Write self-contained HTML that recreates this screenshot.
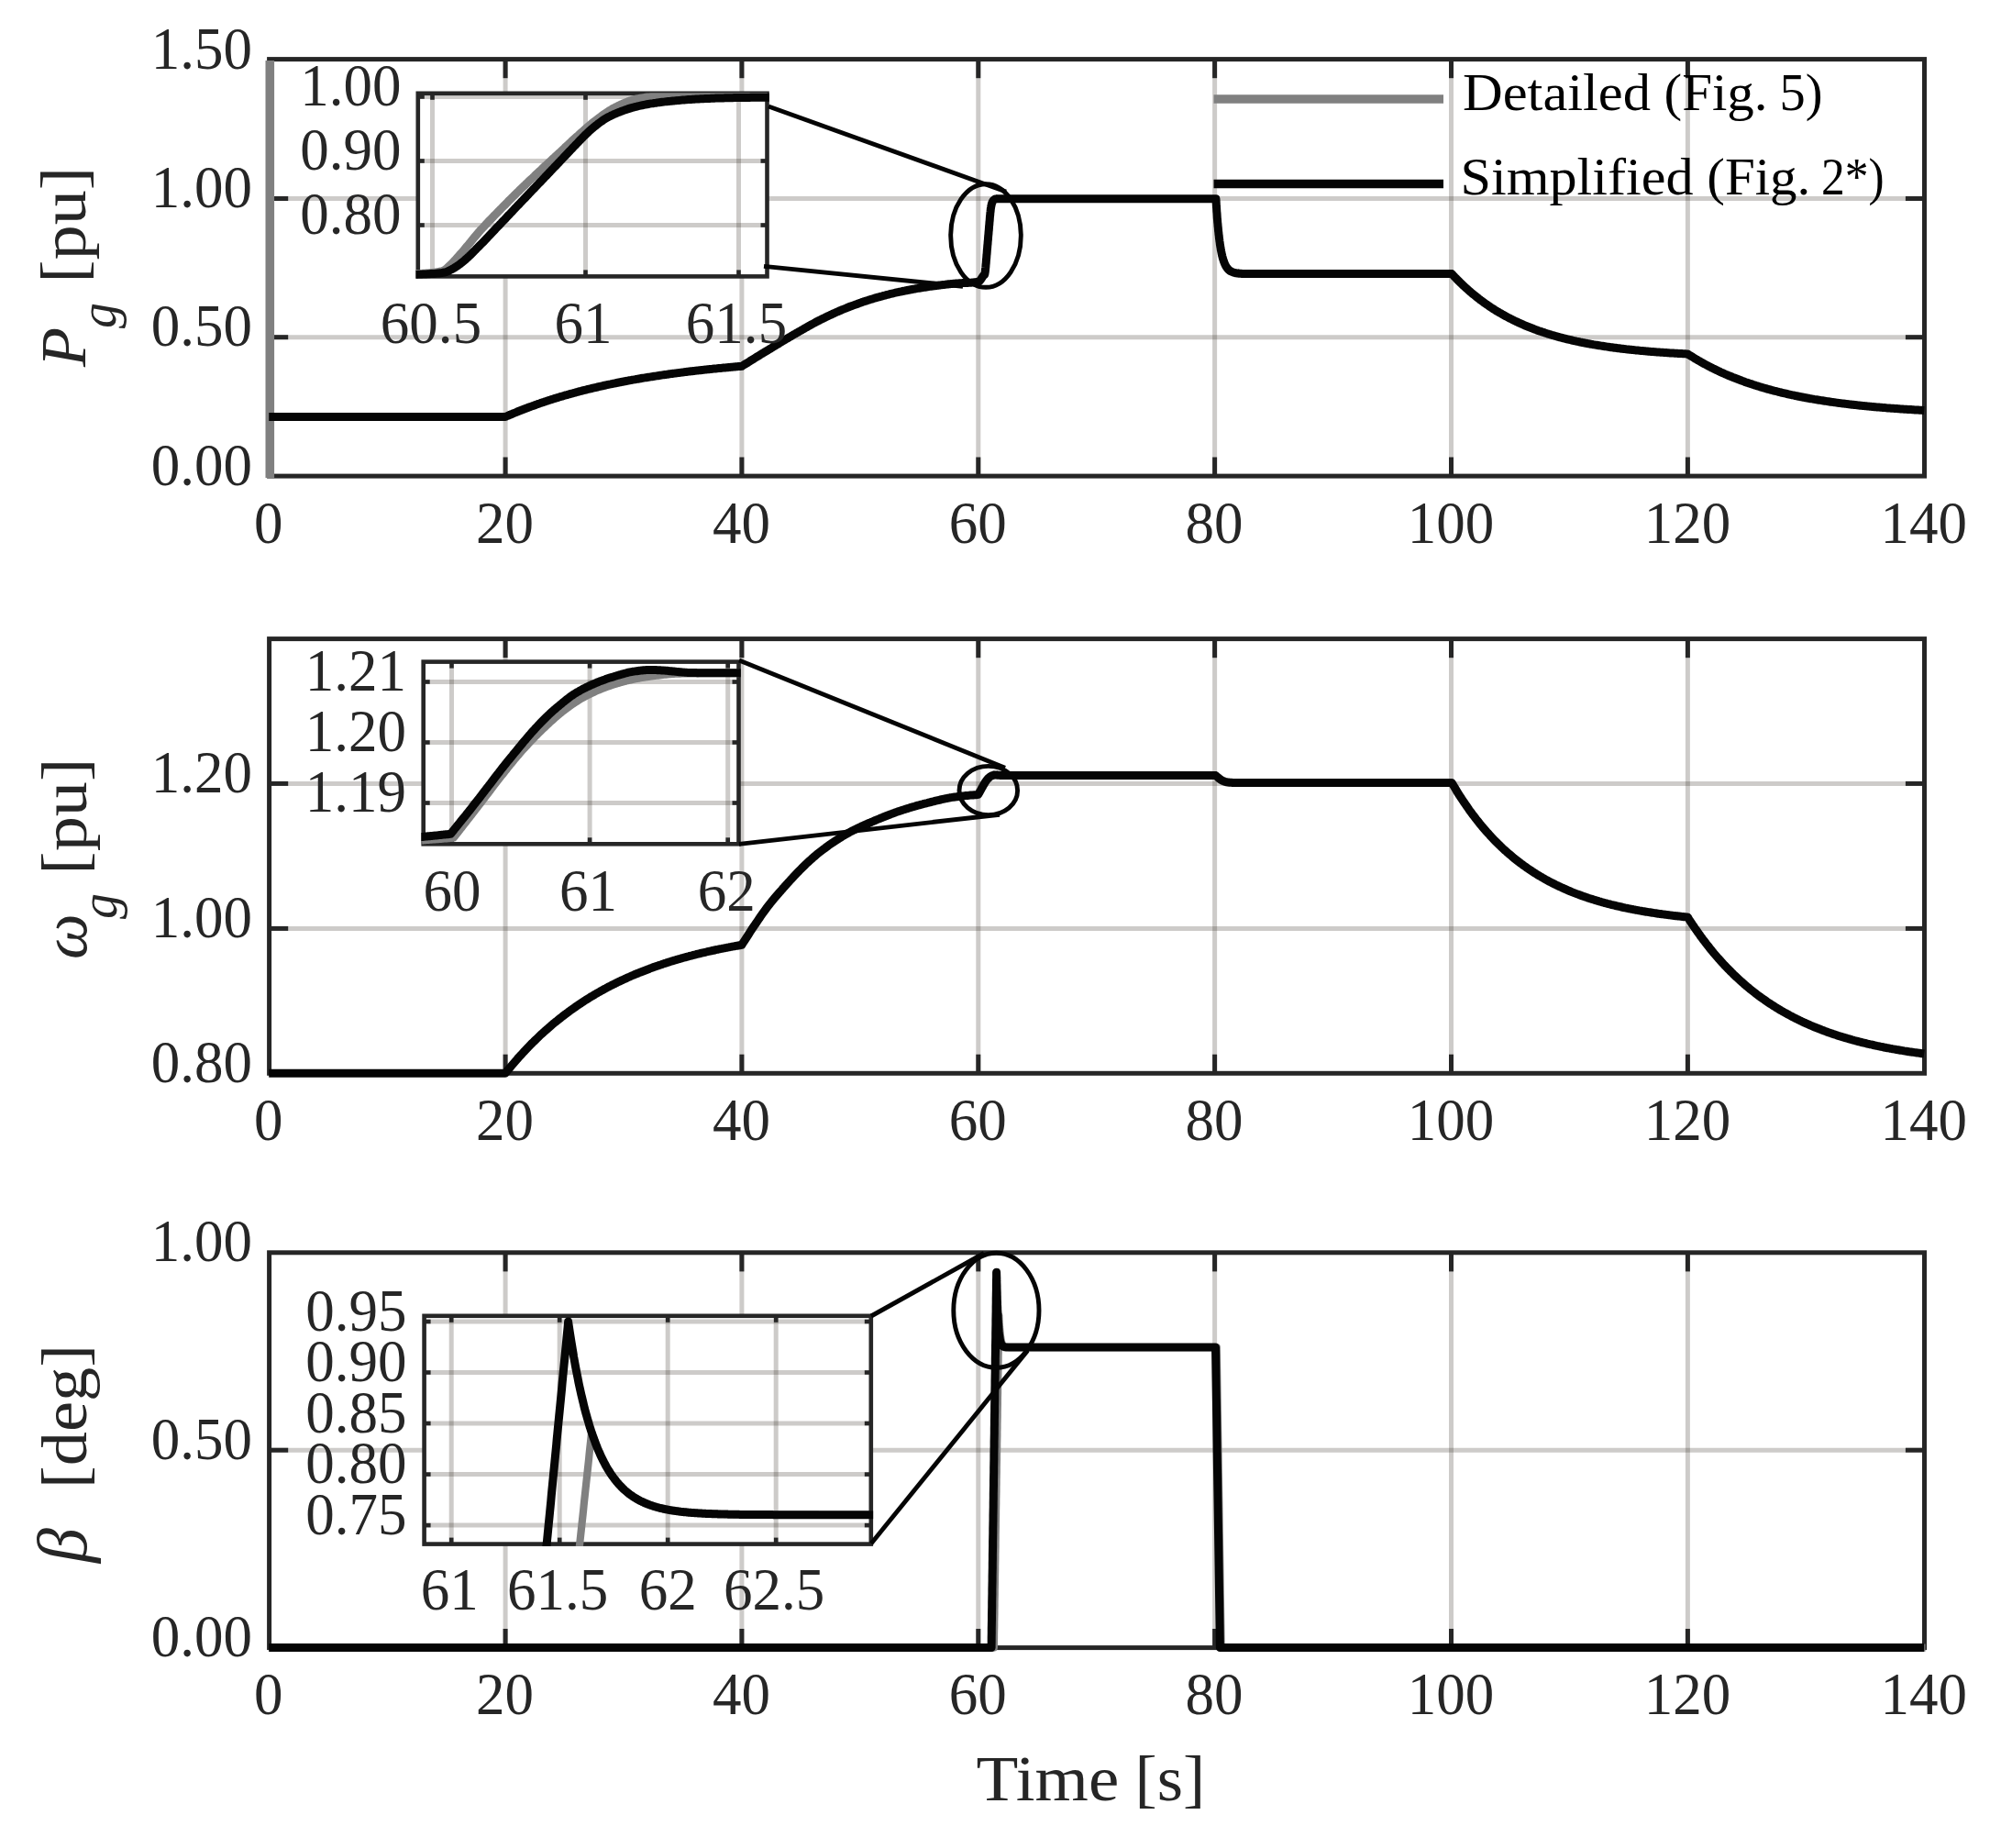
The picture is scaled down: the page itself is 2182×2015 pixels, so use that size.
<!DOCTYPE html>
<html lang="en"><head><meta charset="utf-8"><title>Detailed vs simplified model</title>
<style>html,body{margin:0;padding:0;background:#fff}svg{display:block}text{font-family:"Liberation Serif","DejaVu Serif",serif}</style></head><body>
<svg width="2182" height="2015" viewBox="0 0 2182 2015">
<rect width="2182" height="2015" fill="#fff"/>
<g stroke="#2a221a" stroke-opacity="0.235" stroke-width="5.0">
<line x1="551.1" y1="64.6" x2="551.1" y2="519.1"/>
<line x1="808.9" y1="64.6" x2="808.9" y2="519.1"/>
<line x1="1066.8" y1="64.6" x2="1066.8" y2="519.1"/>
<line x1="1324.6" y1="64.6" x2="1324.6" y2="519.1"/>
<line x1="1582.5" y1="64.6" x2="1582.5" y2="519.1"/>
<line x1="1840.4" y1="64.6" x2="1840.4" y2="519.1"/>
<line x1="293.6" y1="367.7" x2="2098.5" y2="367.7"/>
<line x1="293.6" y1="216.5" x2="2098.5" y2="216.5"/>
</g>
<g stroke="#262626" stroke-width="5.0" fill="none">
<rect x="293.6" y="64.6" width="1804.9" height="454.5"/>
<line x1="551.1" y1="64.6" x2="551.1" y2="85.2"/>
<line x1="551.1" y1="519.1" x2="551.1" y2="498.5"/>
<line x1="808.9" y1="64.6" x2="808.9" y2="85.2"/>
<line x1="808.9" y1="519.1" x2="808.9" y2="498.5"/>
<line x1="1066.8" y1="64.6" x2="1066.8" y2="85.2"/>
<line x1="1066.8" y1="519.1" x2="1066.8" y2="498.5"/>
<line x1="1324.6" y1="64.6" x2="1324.6" y2="85.2"/>
<line x1="1324.6" y1="519.1" x2="1324.6" y2="498.5"/>
<line x1="1582.5" y1="64.6" x2="1582.5" y2="85.2"/>
<line x1="1582.5" y1="519.1" x2="1582.5" y2="498.5"/>
<line x1="1840.4" y1="64.6" x2="1840.4" y2="85.2"/>
<line x1="1840.4" y1="519.1" x2="1840.4" y2="498.5"/>
<line x1="293.6" y1="367.7" x2="314.2" y2="367.7"/>
<line x1="2098.5" y1="367.7" x2="2077.9" y2="367.7"/>
<line x1="293.6" y1="216.5" x2="314.2" y2="216.5"/>
<line x1="2098.5" y1="216.5" x2="2077.9" y2="216.5"/>
</g>
<clipPath id="c1"><rect x="288.6" y="66.1" width="1812.4" height="455.0"/></clipPath>
<g clip-path="url(#c1)">
<line x1="294.3" y1="64.6" x2="294.3" y2="521.1" stroke="#808080" stroke-width="9.60" />
<path d="M293.2 454.5 L294.5 454.5 L295.8 454.5 L297.1 454.5 L298.4 454.5 L299.6 454.5 L300.9 454.5 L302.2 454.5 L303.5 454.5 L304.8 454.5 L306.1 454.5 L307.4 454.5 L308.7 454.5 L310.0 454.5 L311.3 454.5 L312.5 454.5 L313.8 454.5 L315.1 454.5 L316.4 454.5 L317.7 454.5 L319.0 454.5 L320.3 454.5 L321.6 454.5 L322.9 454.5 L324.1 454.5 L325.4 454.5 L326.7 454.5 L328.0 454.5 L329.3 454.5 L330.6 454.5 L331.9 454.5 L333.2 454.5 L334.5 454.5 L335.7 454.5 L337.0 454.5 L338.3 454.5 L339.6 454.5 L340.9 454.5 L342.2 454.5 L343.5 454.5 L344.8 454.5 L346.1 454.5 L347.4 454.5 L348.6 454.5 L349.9 454.5 L351.2 454.5 L352.5 454.5 L353.8 454.5 L355.1 454.5 L356.4 454.5 L357.7 454.5 L359.0 454.5 L360.2 454.5 L361.5 454.5 L362.8 454.5 L364.1 454.5 L365.4 454.5 L366.7 454.5 L368.0 454.5 L369.3 454.5 L370.6 454.5 L371.8 454.5 L373.1 454.5 L374.4 454.5 L375.7 454.5 L377.0 454.5 L378.3 454.5 L379.6 454.5 L380.9 454.5 L382.2 454.5 L383.5 454.5 L384.7 454.5 L386.0 454.5 L387.3 454.5 L388.6 454.5 L389.9 454.5 L391.2 454.5 L392.5 454.5 L393.8 454.5 L395.1 454.5 L396.3 454.5 L397.6 454.5 L398.9 454.5 L400.2 454.5 L401.5 454.5 L402.8 454.5 L404.1 454.5 L405.4 454.5 L406.7 454.5 L407.9 454.5 L409.2 454.5 L410.5 454.5 L411.8 454.5 L413.1 454.5 L414.4 454.5 L415.7 454.5 L417.0 454.5 L418.3 454.5 L419.6 454.5 L420.8 454.5 L422.1 454.5 L423.4 454.5 L424.7 454.5 L426.0 454.5 L427.3 454.5 L428.6 454.5 L429.9 454.5 L431.2 454.5 L432.4 454.5 L433.7 454.5 L435.0 454.5 L436.3 454.5 L437.6 454.5 L438.9 454.5 L440.2 454.5 L441.5 454.5 L442.8 454.5 L444.0 454.5 L445.3 454.5 L446.6 454.5 L447.9 454.5 L449.2 454.5 L450.5 454.5 L451.8 454.5 L453.1 454.5 L454.4 454.5 L455.7 454.5 L456.9 454.5 L458.2 454.5 L459.5 454.5 L460.8 454.5 L462.1 454.5 L463.4 454.5 L464.7 454.5 L466.0 454.5 L467.3 454.5 L468.5 454.5 L469.8 454.5 L471.1 454.5 L472.4 454.5 L473.7 454.5 L475.0 454.5 L476.3 454.5 L477.6 454.5 L478.9 454.5 L480.1 454.5 L481.4 454.5 L482.7 454.5 L484.0 454.5 L485.3 454.5 L486.6 454.5 L487.9 454.5 L489.2 454.5 L490.5 454.5 L491.8 454.5 L493.0 454.5 L494.3 454.5 L495.6 454.5 L496.9 454.5 L498.2 454.5 L499.5 454.5 L500.8 454.5 L502.1 454.5 L503.4 454.5 L504.6 454.5 L505.9 454.5 L507.2 454.5 L508.5 454.5 L509.8 454.5 L511.1 454.5 L512.4 454.5 L513.7 454.5 L515.0 454.5 L516.2 454.5 L517.5 454.5 L518.8 454.5 L520.1 454.5 L521.4 454.5 L522.7 454.5 L524.0 454.5 L525.3 454.5 L526.6 454.5 L527.9 454.5 L529.1 454.5 L530.4 454.5 L531.7 454.5 L533.0 454.5 L534.3 454.5 L535.6 454.5 L536.9 454.5 L538.2 454.5 L539.5 454.5 L540.7 454.5 L542.0 454.5 L543.3 454.5 L544.6 454.5 L545.9 454.5 L547.2 454.5 L548.5 454.5 L549.8 454.5 L551.1 454.5 L552.3 453.9 L553.6 453.4 L554.9 452.8 L556.2 452.3 L557.5 451.7 L558.8 451.2 L560.1 450.6 L561.4 450.1 L562.7 449.6 L564.0 449.0 L565.2 448.5 L566.5 448.0 L567.8 447.5 L569.1 447.0 L570.4 446.5 L571.7 446.0 L573.0 445.5 L574.3 445.0 L575.6 444.5 L576.8 444.0 L578.1 443.6 L579.4 443.1 L580.7 442.6 L582.0 442.2 L583.3 441.7 L584.6 441.2 L585.9 440.8 L587.2 440.3 L588.4 439.9 L589.7 439.4 L591.0 439.0 L592.3 438.6 L593.6 438.1 L594.9 437.7 L596.2 437.3 L597.5 436.9 L598.8 436.4 L600.1 436.0 L601.3 435.6 L602.6 435.2 L603.9 434.8 L605.2 434.4 L606.5 434.0 L607.8 433.6 L609.1 433.2 L610.4 432.8 L611.7 432.4 L612.9 432.1 L614.2 431.7 L615.5 431.3 L616.8 430.9 L618.1 430.6 L619.4 430.2 L620.7 429.8 L622.0 429.5 L623.3 429.1 L624.6 428.8 L625.8 428.4 L627.1 428.1 L628.4 427.7 L629.7 427.4 L631.0 427.0 L632.3 426.7 L633.6 426.4 L634.9 426.0 L636.2 425.7 L637.4 425.4 L638.7 425.1 L640.0 424.7 L641.3 424.4 L642.6 424.1 L643.9 423.8 L645.2 423.5 L646.5 423.2 L647.8 422.9 L649.0 422.6 L650.3 422.3 L651.6 422.0 L652.9 421.7 L654.2 421.4 L655.5 421.1 L656.8 420.8 L658.1 420.5 L659.4 420.2 L660.7 420.0 L661.9 419.7 L663.2 419.4 L664.5 419.1 L665.8 418.9 L667.1 418.6 L668.4 418.3 L669.7 418.1 L671.0 417.8 L672.3 417.5 L673.5 417.3 L674.8 417.0 L676.1 416.8 L677.4 416.5 L678.7 416.3 L680.0 416.0 L681.3 415.8 L682.6 415.5 L683.9 415.3 L685.1 415.0 L686.4 414.8 L687.7 414.6 L689.0 414.3 L690.3 414.1 L691.6 413.9 L692.9 413.7 L694.2 413.4 L695.5 413.2 L696.8 413.0 L698.0 412.8 L699.3 412.5 L700.6 412.3 L701.9 412.1 L703.2 411.9 L704.5 411.7 L705.8 411.5 L707.1 411.3 L708.4 411.1 L709.6 410.9 L710.9 410.7 L712.2 410.5 L713.5 410.3 L714.8 410.1 L716.1 409.9 L717.4 409.7 L718.7 409.5 L720.0 409.3 L721.2 409.1 L722.5 408.9 L723.8 408.7 L725.1 408.5 L726.4 408.4 L727.7 408.2 L729.0 408.0 L730.3 407.8 L731.6 407.6 L732.9 407.5 L734.1 407.3 L735.4 407.1 L736.7 406.9 L738.0 406.8 L739.3 406.6 L740.6 406.4 L741.9 406.3 L743.2 406.1 L744.5 405.9 L745.7 405.8 L747.0 405.6 L748.3 405.5 L749.6 405.3 L750.9 405.1 L752.2 405.0 L753.5 404.8 L754.8 404.7 L756.1 404.5 L757.3 404.4 L758.6 404.2 L759.9 404.1 L761.2 403.9 L762.5 403.8 L763.8 403.7 L765.1 403.5 L766.4 403.4 L767.7 403.2 L769.0 403.1 L770.2 402.9 L771.5 402.8 L772.8 402.7 L774.1 402.5 L775.4 402.4 L776.7 402.3 L778.0 402.1 L779.3 402.0 L780.6 401.9 L781.8 401.8 L783.1 401.6 L784.4 401.5 L785.7 401.4 L787.0 401.3 L788.3 401.1 L789.6 401.0 L790.9 400.9 L792.2 400.8 L793.4 400.7 L794.7 400.5 L796.0 400.4 L797.3 400.3 L798.6 400.2 L799.9 400.1 L801.2 400.0 L802.5 399.8 L803.8 399.7 L805.1 399.6 L806.3 399.5 L807.6 399.4 L808.9 399.3 L810.2 398.5 L811.5 397.7 L812.8 396.9 L814.1 396.1 L815.4 395.3 L816.7 394.5 L817.9 393.7 L819.2 392.9 L820.5 392.1 L821.8 391.3 L823.1 390.5 L824.4 389.7 L825.7 388.9 L827.0 388.1 L828.3 387.3 L829.5 386.5 L830.8 385.7 L832.1 385.0 L833.4 384.2 L834.7 383.4 L836.0 382.6 L837.3 381.8 L838.6 381.0 L839.9 380.3 L841.2 379.5 L842.4 378.7 L843.7 377.9 L845.0 377.1 L846.3 376.3 L847.6 375.6 L848.9 374.8 L850.2 374.0 L851.5 373.2 L852.8 372.4 L854.0 371.7 L855.3 370.9 L856.6 370.1 L857.9 369.4 L859.2 368.6 L860.5 367.8 L861.8 367.1 L863.1 366.3 L864.4 365.6 L865.6 364.8 L866.9 364.1 L868.2 363.3 L869.5 362.6 L870.8 361.8 L872.1 361.1 L873.4 360.4 L874.7 359.6 L876.0 358.9 L877.3 358.1 L878.5 357.4 L879.8 356.7 L881.1 356.0 L882.4 355.2 L883.7 354.5 L885.0 353.8 L886.3 353.1 L887.6 352.4 L888.9 351.7 L890.1 351.0 L891.4 350.3 L892.7 349.7 L894.0 349.0 L895.3 348.4 L896.6 347.7 L897.9 347.1 L899.2 346.5 L900.5 345.8 L901.7 345.2 L903.0 344.6 L904.3 344.0 L905.6 343.4 L906.9 342.8 L908.2 342.2 L909.5 341.6 L910.8 341.0 L912.1 340.4 L913.4 339.9 L914.6 339.3 L915.9 338.7 L917.2 338.2 L918.5 337.6 L919.8 337.1 L921.1 336.6 L922.4 336.1 L923.7 335.5 L925.0 335.0 L926.2 334.5 L927.5 334.0 L928.8 333.6 L930.1 333.1 L931.4 332.6 L932.7 332.1 L934.0 331.7 L935.3 331.2 L936.6 330.7 L937.9 330.3 L939.1 329.8 L940.4 329.4 L941.7 328.9 L943.0 328.5 L944.3 328.1 L945.6 327.7 L946.9 327.3 L948.2 326.9 L949.5 326.4 L950.7 326.1 L952.0 325.7 L953.3 325.3 L954.6 324.9 L955.9 324.5 L957.2 324.2 L958.5 323.8 L959.8 323.5 L961.1 323.1 L962.3 322.8 L963.6 322.4 L964.9 322.1 L966.2 321.7 L967.5 321.4 L968.8 321.1 L970.1 320.7 L971.4 320.4 L972.7 320.1 L974.0 319.8 L975.2 319.5 L976.5 319.2 L977.8 318.9 L979.1 318.6 L980.4 318.3 L981.7 318.1 L983.0 317.8 L984.3 317.5 L985.6 317.3 L986.8 317.0 L988.1 316.8 L989.4 316.5 L990.7 316.3 L992.0 316.0 L993.3 315.8 L994.6 315.5 L995.9 315.3 L997.2 315.1 L998.4 314.8 L999.7 314.6 L1001.0 314.4 L1002.3 314.2 L1003.6 314.0 L1004.9 313.8 L1006.2 313.6 L1007.5 313.4 L1008.8 313.2 L1010.1 313.0 L1011.3 312.8 L1012.6 312.6 L1013.9 312.4 L1015.2 312.2 L1016.5 312.0 L1017.8 311.9 L1019.1 311.7 L1020.4 311.5 L1021.7 311.4 L1022.9 311.2 L1024.2 311.0 L1025.5 310.9 L1026.8 310.7 L1028.1 310.6 L1029.4 310.4 L1030.7 310.3 L1032.0 310.1 L1033.3 310.0 L1034.5 309.8 L1035.8 309.7 L1037.1 309.6 L1038.4 309.4 L1039.7 309.3 L1041.0 309.2 L1042.3 309.1 L1043.6 309.0 L1044.9 308.9 L1046.2 308.8 L1047.4 308.8 L1048.7 308.7 L1050.0 308.6 L1051.3 308.6 L1052.6 308.5 L1053.9 308.5 L1055.2 308.4 L1056.5 308.3 L1057.8 308.3 L1059.0 308.2 L1060.3 308.1 L1060.5 308.0 L1060.6 308.0 L1060.7 308.0 L1060.8 308.0 L1061.0 308.0 L1061.1 308.0 L1061.2 308.0 L1061.4 308.0 L1061.5 307.9 L1061.6 307.9 L1061.8 307.9 L1061.9 307.9 L1062.0 307.9 L1062.1 307.9 L1062.3 307.9 L1062.4 307.8 L1062.5 307.8 L1062.7 307.8 L1062.8 307.8 L1062.9 307.8 L1063.0 307.8 L1063.2 307.8 L1063.3 307.7 L1063.4 307.7 L1063.6 307.7 L1063.7 307.7 L1063.8 307.7 L1063.9 307.7 L1064.1 307.6 L1064.2 307.6 L1064.2 307.6 L1064.3 307.6 L1064.5 307.6 L1064.6 307.6 L1064.7 307.5 L1064.8 307.5 L1065.0 307.5 L1065.1 307.5 L1065.2 307.5 L1065.4 307.5 L1065.5 307.4 L1065.5 307.4 L1065.6 307.4 L1065.7 307.4 L1065.9 307.4 L1066.0 307.4 L1066.1 307.3 L1066.3 307.3 L1066.4 307.3 L1066.5 307.3 L1066.7 307.2 L1066.8 307.2 L1066.9 307.2 L1067.0 307.2 L1067.2 307.1 L1067.3 307.0 L1067.4 307.0 L1067.6 306.9 L1067.7 306.8 L1067.8 306.7 L1067.9 306.6 L1068.1 306.5 L1068.2 306.4 L1068.3 306.3 L1068.5 306.1 L1068.6 306.0 L1068.7 305.9 L1068.8 305.7 L1069.0 305.5 L1069.1 305.4 L1069.2 305.2 L1069.4 305.0 L1069.5 304.9 L1069.6 304.7 L1069.7 304.5 L1069.9 304.3 L1070.0 304.1 L1070.1 303.9 L1070.3 303.7 L1070.4 303.5 L1070.5 303.3 L1070.6 303.1 L1070.6 303.1 L1070.8 302.9 L1070.9 302.7 L1071.0 302.5 L1071.2 302.3 L1071.3 302.1 L1071.4 301.9 L1071.6 301.7 L1071.7 301.5 L1071.8 301.3 L1071.9 301.1 L1071.9 301.1 L1072.1 300.9 L1072.2 300.8 L1072.3 300.6 L1072.5 300.4 L1072.6 300.3 L1072.7 300.2 L1072.8 300.1 L1073.0 300.1 L1073.1 300.0 L1073.2 299.9 L1073.4 299.8 L1073.5 299.6 L1073.6 299.5 L1073.7 299.2 L1073.9 298.8 L1074.0 298.0 L1074.1 297.2 L1074.3 296.3 L1074.4 295.3 L1074.5 294.2 L1074.6 292.9 L1074.8 291.6 L1074.9 290.2 L1075.0 288.7 L1075.2 287.2 L1075.3 285.8 L1075.4 284.3 L1075.5 282.8 L1075.7 281.3 L1075.8 279.7 L1075.9 278.2 L1076.1 276.7 L1076.2 275.2 L1076.3 273.7 L1076.4 272.1 L1076.6 270.6 L1076.7 269.1 L1076.8 267.6 L1077.0 266.1 L1077.1 264.5 L1077.1 264.5 L1077.2 263.0 L1077.4 261.5 L1077.5 260.0 L1077.6 258.5 L1077.7 257.0 L1077.9 255.5 L1078.0 254.0 L1078.1 252.5 L1078.3 250.9 L1078.4 249.4 L1078.4 249.4 L1078.5 247.9 L1078.6 246.4 L1078.8 244.9 L1078.9 243.3 L1079.0 241.8 L1079.2 240.3 L1079.3 238.8 L1079.4 237.3 L1079.5 235.8 L1079.7 234.4 L1079.8 233.0 L1079.9 231.7 L1080.1 230.5 L1080.2 229.4 L1080.3 228.3 L1080.4 227.3 L1080.6 226.4 L1080.7 225.6 L1080.8 225.0 L1081.0 224.3 L1081.1 223.7 L1081.2 223.2 L1081.3 222.7 L1081.5 222.2 L1081.6 221.7 L1081.7 221.3 L1081.9 221.0 L1082.0 220.7 L1082.1 220.4 L1082.3 220.1 L1082.4 219.8 L1082.5 219.6 L1082.6 219.4 L1082.8 219.2 L1082.9 219.0 L1083.0 218.8 L1083.2 218.7 L1083.3 218.5 L1083.4 218.4 L1083.5 218.3 L1083.5 218.3 L1083.7 218.1 L1083.8 218.0 L1083.9 217.9 L1084.1 217.8 L1084.2 217.7 L1084.3 217.6 L1084.4 217.5 L1084.6 217.5 L1084.7 217.4 L1084.8 217.3 L1084.8 217.3 L1085.0 217.3 L1085.1 217.2 L1085.2 217.2 L1085.3 217.1 L1085.5 217.1 L1085.6 217.1 L1085.7 217.0 L1085.9 217.0 L1086.0 217.0 L1086.1 217.0 L1086.2 216.9 L1086.4 216.9 L1086.5 216.9 L1086.6 216.9 L1086.8 216.8 L1086.9 216.8 L1087.0 216.8 L1087.2 216.8 L1087.3 216.7 L1087.4 216.7 L1087.5 216.7 L1087.7 216.7 L1087.8 216.7 L1087.9 216.7 L1088.1 216.7 L1088.2 216.7 L1088.3 216.7 L1088.4 216.7 L1088.6 216.7 L1088.7 216.7 L1088.8 216.7 L1089.0 216.7 L1089.1 216.7 L1089.2 216.7 L1089.3 216.7 L1089.5 216.7 L1089.6 216.7 L1089.7 216.7 L1089.9 216.7 L1090.0 216.7 L1090.0 216.7 L1090.1 216.7 L1090.2 216.7 L1090.4 216.7 L1090.5 216.7 L1090.6 216.7 L1090.8 216.7 L1090.9 216.7 L1091.0 216.7 L1091.1 216.7 L1091.3 216.7 L1091.3 216.7 L1091.4 216.7 L1091.5 216.7 L1091.7 216.7 L1091.8 216.7 L1091.9 216.7 L1092.1 216.7 L1092.2 216.7 L1092.3 216.7 L1092.4 216.7 L1092.6 216.7 L1092.7 216.7 L1092.8 216.7 L1093.0 216.7 L1093.1 216.7 L1093.2 216.7 L1093.3 216.7 L1093.5 216.7 L1093.6 216.7 L1093.7 216.7 L1093.9 216.7 L1094.0 216.7 L1094.1 216.7 L1094.2 216.7 L1094.4 216.7 L1094.5 216.7 L1094.6 216.7 L1094.8 216.7 L1094.9 216.7 L1095.0 216.7 L1095.1 216.7 L1095.3 216.7 L1095.4 216.7 L1095.5 216.7 L1095.7 216.7 L1095.8 216.7 L1095.9 216.7 L1096.0 216.7 L1096.2 216.7 L1096.3 216.7 L1096.4 216.7 L1096.4 216.7 L1096.6 216.7 L1096.7 216.7 L1096.8 216.7 L1096.9 216.7 L1097.1 216.7 L1097.2 216.7 L1097.3 216.7 L1097.5 216.7 L1097.6 216.7 L1097.7 216.7 L1097.7 216.7 L1097.9 216.7 L1098.0 216.7 L1098.1 216.7 L1098.2 216.7 L1098.4 216.7 L1098.5 216.7 L1098.6 216.7 L1098.8 216.7 L1098.9 216.7 L1099.0 216.7 L1100.3 216.7 L1101.6 216.7 L1102.9 216.7 L1104.2 216.7 L1105.5 216.7 L1106.7 216.7 L1108.0 216.7 L1109.3 216.7 L1110.6 216.7 L1111.9 216.7 L1113.2 216.7 L1114.5 216.7 L1115.8 216.7 L1117.1 216.7 L1118.4 216.7 L1119.6 216.7 L1120.9 216.7 L1122.2 216.7 L1123.5 216.7 L1124.8 216.7 L1126.1 216.7 L1127.4 216.7 L1128.7 216.7 L1130.0 216.7 L1131.2 216.7 L1132.5 216.7 L1133.8 216.7 L1135.1 216.7 L1136.4 216.7 L1137.7 216.7 L1139.0 216.7 L1140.3 216.7 L1141.6 216.7 L1142.8 216.7 L1144.1 216.7 L1145.4 216.7 L1146.7 216.7 L1148.0 216.7 L1149.3 216.7 L1150.6 216.7 L1151.9 216.7 L1153.2 216.7 L1154.5 216.7 L1155.7 216.7 L1157.0 216.7 L1158.3 216.7 L1159.6 216.7 L1160.9 216.7 L1162.2 216.7 L1163.5 216.7 L1164.8 216.7 L1166.1 216.7 L1167.3 216.7 L1168.6 216.7 L1169.9 216.7 L1171.2 216.7 L1172.5 216.7 L1173.8 216.7 L1175.1 216.7 L1176.4 216.7 L1177.7 216.7 L1178.9 216.7 L1180.2 216.7 L1181.5 216.7 L1182.8 216.7 L1184.1 216.7 L1185.4 216.7 L1186.7 216.7 L1188.0 216.7 L1189.3 216.7 L1190.6 216.7 L1191.8 216.7 L1193.1 216.7 L1194.4 216.7 L1195.7 216.7 L1197.0 216.7 L1198.3 216.7 L1199.6 216.7 L1200.9 216.7 L1202.2 216.7 L1203.4 216.7 L1204.7 216.7 L1206.0 216.7 L1207.3 216.7 L1208.6 216.7 L1209.9 216.7 L1211.2 216.7 L1212.5 216.7 L1213.8 216.7 L1215.0 216.7 L1216.3 216.7 L1217.6 216.7 L1218.9 216.7 L1220.2 216.7 L1221.5 216.7 L1222.8 216.7 L1224.1 216.7 L1225.4 216.7 L1226.7 216.7 L1227.9 216.7 L1229.2 216.7 L1230.5 216.7 L1231.8 216.7 L1233.1 216.7 L1234.4 216.7 L1235.7 216.7 L1237.0 216.7 L1238.3 216.7 L1239.5 216.7 L1240.8 216.7 L1242.1 216.7 L1243.4 216.7 L1244.7 216.7 L1246.0 216.7 L1247.3 216.7 L1248.6 216.7 L1249.9 216.7 L1251.1 216.7 L1252.4 216.7 L1253.7 216.7 L1255.0 216.7 L1256.3 216.7 L1257.6 216.7 L1258.9 216.7 L1260.2 216.7 L1261.5 216.7 L1262.8 216.7 L1264.0 216.7 L1265.3 216.7 L1266.6 216.7 L1267.9 216.7 L1269.2 216.7 L1270.5 216.7 L1271.8 216.7 L1273.1 216.7 L1274.4 216.7 L1275.6 216.7 L1276.9 216.7 L1278.2 216.7 L1279.5 216.7 L1280.8 216.7 L1282.1 216.7 L1283.4 216.7 L1284.7 216.7 L1286.0 216.7 L1287.3 216.7 L1288.5 216.7 L1289.8 216.7 L1291.1 216.7 L1292.4 216.7 L1293.7 216.7 L1295.0 216.7 L1296.3 216.7 L1297.6 216.7 L1298.9 216.7 L1300.1 216.7 L1301.4 216.7 L1302.7 216.7 L1304.0 216.7 L1305.3 216.7 L1306.6 216.7 L1307.9 216.7 L1309.2 216.7 L1310.5 216.7 L1311.7 216.7 L1313.0 216.7 L1314.3 216.7 L1315.6 216.7 L1316.9 216.7 L1318.2 216.7 L1318.3 216.7 L1318.5 216.7 L1318.6 216.7 L1318.7 216.7 L1318.8 216.7 L1319.0 216.7 L1319.1 216.7 L1319.2 216.7 L1319.4 216.7 L1319.5 216.7 L1319.5 216.7 L1319.6 216.7 L1319.7 216.7 L1319.9 216.7 L1320.0 216.7 L1320.1 216.7 L1320.3 216.7 L1320.4 216.7 L1320.5 216.7 L1320.6 216.7 L1320.8 216.7 L1320.9 216.7 L1321.0 216.7 L1321.2 216.7 L1321.3 216.7 L1321.4 216.7 L1321.5 216.7 L1321.7 216.7 L1321.8 216.7 L1321.9 216.7 L1322.1 216.7 L1322.1 216.7 L1322.2 216.7 L1322.3 216.7 L1322.4 216.7 L1322.6 216.7 L1322.7 216.7 L1322.8 216.7 L1323.0 216.7 L1323.1 216.7 L1323.2 216.7 L1323.4 216.7 L1323.5 216.7 L1323.6 216.7 L1323.7 216.7 L1323.9 216.7 L1324.0 216.7 L1324.1 216.7 L1324.3 216.7 L1324.4 216.7 L1324.5 216.7 L1324.6 216.7 L1324.8 216.7 L1324.9 216.7 L1325.0 216.7 L1325.2 216.7 L1325.3 216.7 L1325.4 216.7 L1325.5 216.7 L1325.7 216.7 L1325.8 216.7 L1325.9 216.7 L1325.9 216.7 L1326.1 218.8 L1326.2 221.0 L1326.3 223.0 L1326.4 225.0 L1326.6 227.0 L1326.7 228.9 L1326.8 230.8 L1327.0 232.6 L1327.1 234.3 L1327.2 236.1 L1327.3 237.7 L1327.5 239.4 L1327.6 240.9 L1327.7 242.5 L1327.9 244.0 L1328.0 245.4 L1328.1 246.8 L1328.3 248.2 L1328.4 249.6 L1328.5 250.9 L1328.5 250.9 L1328.6 252.1 L1328.8 253.4 L1328.9 254.6 L1329.0 255.8 L1329.2 256.9 L1329.3 258.0 L1329.4 259.1 L1329.5 260.2 L1329.7 261.2 L1329.8 262.2 L1329.9 263.1 L1330.1 264.1 L1330.2 265.0 L1330.3 265.9 L1330.4 266.8 L1330.6 267.6 L1330.7 268.5 L1330.8 269.3 L1331.0 270.0 L1331.1 270.8 L1331.2 271.5 L1331.3 272.3 L1331.5 273.0 L1331.6 273.7 L1331.7 274.3 L1331.9 275.0 L1332.0 275.6 L1332.1 276.2 L1332.2 276.8 L1332.4 277.4 L1332.4 277.4 L1332.5 278.0 L1332.6 278.5 L1332.8 279.0 L1332.9 279.6 L1333.0 280.1 L1333.1 280.6 L1333.3 281.0 L1333.4 281.5 L1333.5 282.0 L1333.7 282.4 L1333.8 282.8 L1333.9 283.3 L1334.1 283.7 L1334.2 284.1 L1334.3 284.5 L1334.4 284.8 L1334.6 285.2 L1334.7 285.6 L1334.8 285.9 L1335.0 286.2 L1335.0 286.2 L1335.1 286.6 L1335.2 286.9 L1335.3 287.2 L1335.5 287.5 L1335.6 287.8 L1335.7 288.1 L1335.9 288.4 L1336.0 288.6 L1336.1 288.9 L1336.2 289.2 L1336.4 289.4 L1336.5 289.7 L1336.6 289.9 L1336.8 290.1 L1336.9 290.4 L1337.0 290.6 L1337.1 290.8 L1337.3 291.0 L1337.4 291.2 L1337.5 291.4 L1337.7 291.6 L1337.8 291.8 L1337.9 292.0 L1338.0 292.1 L1338.2 292.3 L1338.3 292.5 L1338.4 292.6 L1338.6 292.8 L1338.7 293.0 L1338.8 293.1 L1338.8 293.1 L1339.0 293.3 L1339.1 293.4 L1339.2 293.5 L1339.3 293.7 L1339.5 293.8 L1339.6 293.9 L1339.7 294.1 L1339.9 294.2 L1340.0 294.3 L1340.1 294.4 L1340.2 294.5 L1340.4 294.6 L1340.5 294.7 L1340.6 294.8 L1340.8 294.9 L1340.9 295.0 L1341.0 295.1 L1341.1 295.2 L1341.3 295.3 L1341.4 295.4 L1341.4 295.4 L1341.5 295.5 L1341.7 295.6 L1341.8 295.7 L1341.9 295.7 L1342.0 295.8 L1342.2 295.9 L1342.3 296.0 L1342.4 296.0 L1342.6 296.1 L1342.7 296.2 L1342.8 296.2 L1342.9 296.3 L1343.1 296.4 L1343.2 296.4 L1343.3 296.5 L1343.5 296.5 L1343.6 296.6 L1343.7 296.6 L1343.9 296.7 L1344.0 296.7 L1344.1 296.8 L1344.2 296.8 L1344.4 296.9 L1344.5 296.9 L1344.6 297.0 L1344.8 297.0 L1344.9 297.1 L1345.0 297.1 L1345.1 297.1 L1345.3 297.2 L1345.3 297.2 L1345.4 297.2 L1345.5 297.3 L1345.7 297.3 L1345.8 297.3 L1345.9 297.4 L1346.0 297.4 L1346.2 297.4 L1346.3 297.5 L1346.4 297.5 L1346.6 297.5 L1346.7 297.5 L1346.8 297.6 L1346.9 297.6 L1347.1 297.6 L1347.2 297.7 L1347.3 297.7 L1347.5 297.7 L1347.6 297.7 L1347.7 297.8 L1347.8 297.8 L1347.8 297.8 L1348.0 297.8 L1348.1 297.8 L1348.2 297.8 L1348.4 297.9 L1348.5 297.9 L1348.6 297.9 L1348.7 297.9 L1348.9 297.9 L1349.0 298.0 L1349.1 298.0 L1349.3 298.0 L1349.4 298.0 L1349.5 298.0 L1349.7 298.0 L1349.8 298.0 L1349.9 298.1 L1350.0 298.1 L1350.2 298.1 L1350.3 298.1 L1350.4 298.1 L1350.6 298.1 L1350.7 298.1 L1350.8 298.2 L1350.9 298.2 L1351.1 298.2 L1351.2 298.2 L1351.3 298.2 L1351.5 298.2 L1351.6 298.2 L1351.7 298.2 L1351.7 298.2 L1351.8 298.2 L1352.0 298.3 L1352.1 298.3 L1352.2 298.3 L1352.4 298.3 L1352.5 298.3 L1352.6 298.3 L1352.7 298.3 L1352.9 298.3 L1353.0 298.3 L1353.1 298.3 L1353.3 298.3 L1353.4 298.3 L1353.5 298.3 L1353.6 298.4 L1353.8 298.4 L1353.9 298.4 L1354.0 298.4 L1354.2 298.4 L1354.3 298.4 L1354.3 298.4 L1354.4 298.4 L1354.6 298.4 L1354.7 298.4 L1354.8 298.4 L1354.9 298.4 L1355.1 298.4 L1355.2 298.4 L1355.3 298.4 L1355.5 298.4 L1355.6 298.4 L1355.7 298.4 L1355.8 298.4 L1356.0 298.5 L1356.1 298.5 L1356.2 298.5 L1356.4 298.5 L1356.5 298.5 L1356.6 298.5 L1356.7 298.5 L1356.9 298.5 L1357.0 298.5 L1357.1 298.5 L1357.3 298.5 L1357.4 298.5 L1357.5 298.5 L1357.6 298.5 L1357.8 298.5 L1357.9 298.5 L1358.0 298.5 L1358.2 298.5 L1358.2 298.5 L1358.3 298.5 L1358.4 298.5 L1358.5 298.5 L1358.7 298.5 L1358.8 298.5 L1358.9 298.5 L1359.1 298.5 L1359.2 298.5 L1359.3 298.5 L1359.5 298.5 L1359.6 298.5 L1359.7 298.5 L1359.8 298.5 L1360.0 298.5 L1360.1 298.5 L1360.2 298.5 L1360.4 298.5 L1360.5 298.5 L1360.6 298.5 L1360.7 298.5 L1360.7 298.5 L1360.9 298.5 L1361.0 298.5 L1361.1 298.6 L1361.3 298.6 L1361.4 298.6 L1361.5 298.6 L1361.6 298.6 L1361.8 298.6 L1361.9 298.6 L1362.0 298.6 L1362.2 298.6 L1362.3 298.6 L1362.4 298.6 L1362.5 298.6 L1362.7 298.6 L1362.8 298.6 L1362.9 298.6 L1363.1 298.6 L1363.2 298.6 L1363.3 298.6 L1364.6 298.6 L1365.9 298.6 L1367.2 298.6 L1368.5 298.6 L1369.8 298.6 L1371.1 298.6 L1372.3 298.6 L1373.6 298.6 L1374.9 298.6 L1376.2 298.6 L1377.5 298.6 L1378.8 298.6 L1380.1 298.6 L1381.4 298.6 L1382.7 298.6 L1383.9 298.6 L1385.2 298.6 L1386.5 298.6 L1387.8 298.6 L1389.1 298.6 L1390.4 298.6 L1391.7 298.6 L1393.0 298.6 L1394.3 298.6 L1395.6 298.6 L1396.8 298.6 L1398.1 298.6 L1399.4 298.6 L1400.7 298.6 L1402.0 298.6 L1403.3 298.6 L1404.6 298.6 L1405.9 298.6 L1407.2 298.6 L1408.4 298.6 L1409.7 298.6 L1411.0 298.6 L1412.3 298.6 L1413.6 298.6 L1414.9 298.6 L1416.2 298.6 L1417.5 298.6 L1418.8 298.6 L1420.0 298.6 L1421.3 298.6 L1422.6 298.6 L1423.9 298.6 L1425.2 298.6 L1426.5 298.6 L1427.8 298.6 L1429.1 298.6 L1430.4 298.6 L1431.7 298.6 L1432.9 298.6 L1434.2 298.6 L1435.5 298.6 L1436.8 298.6 L1438.1 298.6 L1439.4 298.6 L1440.7 298.6 L1442.0 298.6 L1443.3 298.6 L1444.5 298.6 L1445.8 298.6 L1447.1 298.6 L1448.4 298.6 L1449.7 298.6 L1451.0 298.6 L1452.3 298.6 L1453.6 298.6 L1454.9 298.6 L1456.1 298.6 L1457.4 298.6 L1458.7 298.6 L1460.0 298.6 L1461.3 298.6 L1462.6 298.6 L1463.9 298.6 L1465.2 298.6 L1466.5 298.6 L1467.8 298.6 L1469.0 298.6 L1470.3 298.6 L1471.6 298.6 L1472.9 298.6 L1474.2 298.6 L1475.5 298.6 L1476.8 298.6 L1478.1 298.6 L1479.4 298.6 L1480.6 298.6 L1481.9 298.6 L1483.2 298.6 L1484.5 298.6 L1485.8 298.6 L1487.1 298.6 L1488.4 298.6 L1489.7 298.6 L1491.0 298.6 L1492.2 298.6 L1493.5 298.6 L1494.8 298.6 L1496.1 298.6 L1497.4 298.6 L1498.7 298.6 L1500.0 298.6 L1501.3 298.6 L1502.6 298.6 L1503.9 298.6 L1505.1 298.6 L1506.4 298.6 L1507.7 298.6 L1509.0 298.6 L1510.3 298.6 L1511.6 298.6 L1512.9 298.6 L1514.2 298.6 L1515.5 298.6 L1516.7 298.6 L1518.0 298.6 L1519.3 298.6 L1520.6 298.6 L1521.9 298.6 L1523.2 298.6 L1524.5 298.6 L1525.8 298.6 L1527.1 298.6 L1528.3 298.6 L1529.6 298.6 L1530.9 298.6 L1532.2 298.6 L1533.5 298.6 L1534.8 298.6 L1536.1 298.6 L1537.4 298.6 L1538.7 298.6 L1540.0 298.6 L1541.2 298.6 L1542.5 298.6 L1543.8 298.6 L1545.1 298.6 L1546.4 298.6 L1547.7 298.6 L1549.0 298.6 L1550.3 298.6 L1551.6 298.6 L1552.8 298.6 L1554.1 298.6 L1555.4 298.6 L1556.7 298.6 L1558.0 298.6 L1559.3 298.6 L1560.6 298.6 L1561.9 298.6 L1563.2 298.6 L1564.4 298.6 L1565.7 298.6 L1567.0 298.6 L1568.3 298.6 L1569.6 298.6 L1570.9 298.6 L1572.2 298.6 L1573.5 298.6 L1574.8 298.6 L1576.1 298.6 L1577.3 298.6 L1578.6 298.6 L1579.9 298.6 L1581.2 298.6 L1582.5 298.6 L1583.1 298.6 L1583.8 299.3 L1585.1 300.7 L1586.4 302.1 L1587.7 303.4 L1588.9 304.7 L1590.2 306.0 L1591.5 307.3 L1592.8 308.6 L1594.1 309.8 L1595.4 311.1 L1596.7 312.3 L1598.0 313.5 L1599.3 314.6 L1600.6 315.8 L1601.8 316.9 L1603.1 318.0 L1604.4 319.1 L1605.7 320.2 L1607.0 321.3 L1608.3 322.3 L1609.6 323.4 L1610.9 324.4 L1612.2 325.4 L1613.4 326.4 L1614.7 327.4 L1616.0 328.3 L1617.3 329.3 L1618.6 330.2 L1619.9 331.1 L1621.2 332.0 L1622.5 332.9 L1623.8 333.8 L1625.0 334.7 L1626.3 335.5 L1627.6 336.3 L1628.9 337.2 L1630.2 338.0 L1631.5 338.8 L1632.8 339.6 L1634.1 340.3 L1635.4 341.1 L1636.7 341.8 L1637.9 342.6 L1639.2 343.3 L1640.5 344.0 L1641.8 344.7 L1643.1 345.4 L1644.4 346.1 L1645.7 346.8 L1647.0 347.4 L1648.3 348.1 L1649.5 348.7 L1650.8 349.4 L1652.1 350.0 L1653.4 350.6 L1654.7 351.2 L1656.0 351.8 L1657.3 352.4 L1658.6 353.0 L1659.9 353.5 L1661.1 354.1 L1662.4 354.7 L1663.7 355.2 L1665.0 355.7 L1666.3 356.3 L1667.6 356.8 L1668.9 357.3 L1670.2 357.8 L1671.5 358.3 L1672.8 358.8 L1674.0 359.3 L1675.3 359.7 L1676.6 360.2 L1677.9 360.7 L1679.2 361.1 L1680.5 361.5 L1681.8 362.0 L1683.1 362.4 L1684.4 362.8 L1685.6 363.3 L1686.9 363.7 L1688.2 364.1 L1689.5 364.5 L1690.8 364.9 L1692.1 365.3 L1693.4 365.6 L1694.7 366.0 L1696.0 366.4 L1697.2 366.7 L1698.5 367.1 L1699.8 367.5 L1701.1 367.8 L1702.4 368.1 L1703.7 368.5 L1705.0 368.8 L1706.3 369.1 L1707.6 369.5 L1708.9 369.8 L1710.1 370.1 L1711.4 370.4 L1712.7 370.7 L1714.0 371.0 L1715.3 371.3 L1716.6 371.6 L1717.9 371.9 L1719.2 372.2 L1720.5 372.4 L1721.7 372.7 L1723.0 373.0 L1724.3 373.2 L1725.6 373.5 L1726.9 373.7 L1728.2 374.0 L1729.5 374.2 L1730.8 374.5 L1732.1 374.7 L1733.3 375.0 L1734.6 375.2 L1735.9 375.4 L1737.2 375.7 L1738.5 375.9 L1739.8 376.1 L1741.1 376.3 L1742.4 376.5 L1743.7 376.7 L1745.0 376.9 L1746.2 377.1 L1747.5 377.3 L1748.8 377.5 L1750.1 377.7 L1751.4 377.9 L1752.7 378.1 L1754.0 378.3 L1755.3 378.5 L1756.6 378.7 L1757.8 378.8 L1759.1 379.0 L1760.4 379.2 L1761.7 379.3 L1763.0 379.5 L1764.3 379.7 L1765.6 379.8 L1766.9 380.0 L1768.2 380.2 L1769.4 380.3 L1770.7 380.5 L1772.0 380.6 L1773.3 380.8 L1774.6 380.9 L1775.9 381.0 L1777.2 381.2 L1778.5 381.3 L1779.8 381.5 L1781.1 381.6 L1782.3 381.7 L1783.6 381.9 L1784.9 382.0 L1786.2 382.1 L1787.5 382.2 L1788.8 382.4 L1790.1 382.5 L1791.4 382.6 L1792.7 382.7 L1793.9 382.8 L1795.2 382.9 L1796.5 383.0 L1797.8 383.2 L1799.1 383.3 L1800.4 383.4 L1801.7 383.5 L1803.0 383.6 L1804.3 383.7 L1805.5 383.8 L1806.8 383.9 L1808.1 384.0 L1809.4 384.1 L1810.7 384.2 L1812.0 384.3 L1813.3 384.3 L1814.6 384.4 L1815.9 384.5 L1817.2 384.6 L1818.4 384.7 L1819.7 384.8 L1821.0 384.9 L1822.3 384.9 L1823.6 385.0 L1824.9 385.1 L1826.2 385.2 L1827.5 385.3 L1828.8 385.3 L1830.0 385.4 L1831.3 385.5 L1832.6 385.6 L1833.9 385.6 L1835.2 385.7 L1836.5 385.8 L1837.8 385.8 L1839.1 385.9 L1840.4 386.0 L1841.6 386.8 L1842.9 387.6 L1844.2 388.4 L1845.5 389.2 L1846.8 390.0 L1848.1 390.8 L1849.4 391.6 L1850.7 392.3 L1852.0 393.1 L1853.3 393.8 L1854.5 394.6 L1855.8 395.3 L1857.1 396.0 L1858.4 396.7 L1859.7 397.4 L1861.0 398.1 L1862.3 398.8 L1863.6 399.5 L1864.9 400.1 L1866.1 400.8 L1867.4 401.4 L1868.7 402.1 L1870.0 402.7 L1871.3 403.3 L1872.6 403.9 L1873.9 404.6 L1875.2 405.2 L1876.5 405.8 L1877.7 406.3 L1879.0 406.9 L1880.3 407.5 L1881.6 408.1 L1882.9 408.6 L1884.2 409.2 L1885.5 409.7 L1886.8 410.2 L1888.1 410.8 L1889.4 411.3 L1890.6 411.8 L1891.9 412.3 L1893.2 412.8 L1894.5 413.3 L1895.8 413.8 L1897.1 414.3 L1898.4 414.8 L1899.7 415.3 L1901.0 415.7 L1902.2 416.2 L1903.5 416.7 L1904.8 417.1 L1906.1 417.5 L1907.4 418.0 L1908.7 418.4 L1910.0 418.8 L1911.3 419.3 L1912.6 419.7 L1913.9 420.1 L1915.1 420.5 L1916.4 420.9 L1917.7 421.3 L1919.0 421.7 L1920.3 422.1 L1921.6 422.5 L1922.9 422.9 L1924.2 423.2 L1925.5 423.6 L1926.7 424.0 L1928.0 424.3 L1929.3 424.7 L1930.6 425.0 L1931.9 425.4 L1933.2 425.7 L1934.5 426.1 L1935.8 426.4 L1937.1 426.7 L1938.3 427.0 L1939.6 427.4 L1940.9 427.7 L1942.2 428.0 L1943.5 428.3 L1944.8 428.6 L1946.1 428.9 L1947.4 429.2 L1948.7 429.5 L1950.0 429.8 L1951.2 430.1 L1952.5 430.4 L1953.8 430.7 L1955.1 430.9 L1956.4 431.2 L1957.7 431.5 L1959.0 431.7 L1960.3 432.0 L1961.6 432.3 L1962.8 432.5 L1964.1 432.8 L1965.4 433.0 L1966.7 433.3 L1968.0 433.5 L1969.3 433.8 L1970.6 434.0 L1971.9 434.2 L1973.2 434.5 L1974.4 434.7 L1975.7 434.9 L1977.0 435.1 L1978.3 435.4 L1979.6 435.6 L1980.9 435.8 L1982.2 436.0 L1983.5 436.2 L1984.8 436.4 L1986.1 436.6 L1987.3 436.8 L1988.6 437.0 L1989.9 437.2 L1991.2 437.4 L1992.5 437.6 L1993.8 437.8 L1995.1 438.0 L1996.4 438.2 L1997.7 438.4 L1998.9 438.6 L2000.2 438.7 L2001.5 438.9 L2002.8 439.1 L2004.1 439.3 L2005.4 439.4 L2006.7 439.6 L2008.0 439.8 L2009.3 439.9 L2010.5 440.1 L2011.8 440.2 L2013.1 440.4 L2014.4 440.6 L2015.7 440.7 L2017.0 440.9 L2018.3 441.0 L2019.6 441.2 L2020.9 441.3 L2022.2 441.5 L2023.4 441.6 L2024.7 441.7 L2026.0 441.9 L2027.3 442.0 L2028.6 442.2 L2029.9 442.3 L2031.2 442.4 L2032.5 442.6 L2033.8 442.7 L2035.0 442.8 L2036.3 442.9 L2037.6 443.1 L2038.9 443.2 L2040.2 443.3 L2041.5 443.4 L2042.8 443.5 L2044.1 443.7 L2045.4 443.8 L2046.6 443.9 L2047.9 444.0 L2049.2 444.1 L2050.5 444.2 L2051.8 444.3 L2053.1 444.4 L2054.4 444.5 L2055.7 444.6 L2057.0 444.8 L2058.3 444.9 L2059.5 445.0 L2060.8 445.1 L2062.1 445.2 L2063.4 445.2 L2064.7 445.3 L2066.0 445.4 L2067.3 445.5 L2068.6 445.6 L2069.9 445.7 L2071.1 445.8 L2072.4 445.9 L2073.7 446.0 L2075.0 446.1 L2076.3 446.2 L2077.6 446.2 L2078.9 446.3 L2080.2 446.4 L2081.5 446.5 L2082.7 446.6 L2084.0 446.6 L2085.3 446.7 L2086.6 446.8 L2087.9 446.9 L2089.2 447.0 L2090.5 447.0 L2091.8 447.1 L2093.1 447.2 L2094.4 447.2 L2095.6 447.3 L2096.9 447.4 L2098.2 447.5" fill="none" stroke="#050505" stroke-width="9.00" stroke-linejoin="round" />
</g>
<text x="292.7" y="591.9" font-size="65.5" text-anchor="middle" fill="#262626"  textLength="31.5" lengthAdjust="spacingAndGlyphs">0</text>
<text x="550.6" y="591.9" font-size="65.5" text-anchor="middle" fill="#262626"  textLength="63.0" lengthAdjust="spacingAndGlyphs">20</text>
<text x="808.4" y="591.9" font-size="65.5" text-anchor="middle" fill="#262626"  textLength="63.0" lengthAdjust="spacingAndGlyphs">40</text>
<text x="1066.3" y="591.9" font-size="65.5" text-anchor="middle" fill="#262626"  textLength="63.0" lengthAdjust="spacingAndGlyphs">60</text>
<text x="1324.1" y="591.9" font-size="65.5" text-anchor="middle" fill="#262626"  textLength="63.0" lengthAdjust="spacingAndGlyphs">80</text>
<text x="1582.0" y="591.9" font-size="65.5" text-anchor="middle" fill="#262626"  textLength="94.5" lengthAdjust="spacingAndGlyphs">100</text>
<text x="1839.9" y="591.9" font-size="65.5" text-anchor="middle" fill="#262626"  textLength="94.5" lengthAdjust="spacingAndGlyphs">120</text>
<text x="2097.7" y="591.9" font-size="65.5" text-anchor="middle" fill="#262626"  textLength="94.5" lengthAdjust="spacingAndGlyphs">140</text>
<text x="275.0" y="528.5" font-size="65.5" text-anchor="end" fill="#262626"  textLength="110.3" lengthAdjust="spacingAndGlyphs">0.00</text>
<text x="275.0" y="377.3" font-size="65.5" text-anchor="end" fill="#262626"  textLength="110.3" lengthAdjust="spacingAndGlyphs">0.50</text>
<text x="275.0" y="226.1" font-size="65.5" text-anchor="end" fill="#262626"  textLength="110.3" lengthAdjust="spacingAndGlyphs">1.00</text>
<text x="275.0" y="74.9" font-size="65.5" text-anchor="end" fill="#262626"  textLength="110.3" lengthAdjust="spacingAndGlyphs">1.50</text>
<rect x="455.8" y="101.8" width="380.7" height="199.6" fill="#fff"/>
<clipPath id="ci1"><rect x="453.5" y="99.5" width="385.3" height="204.2"/></clipPath>
<g stroke="#2a221a" stroke-opacity="0.235" stroke-width="5.0">
<line x1="471.5" y1="101.8" x2="471.5" y2="301.4"/>
<line x1="638.5" y1="101.8" x2="638.5" y2="301.4"/>
<line x1="805.5" y1="101.8" x2="805.5" y2="301.4"/>
<line x1="455.8" y1="105.5" x2="836.5" y2="105.5"/>
<line x1="455.8" y1="175.5" x2="836.5" y2="175.5"/>
<line x1="455.8" y1="245.5" x2="836.5" y2="245.5"/>
</g>
<g stroke="#262626" stroke-width="4.6" fill="none">
<rect x="455.8" y="101.8" width="380.7" height="199.6"/>
<line x1="471.5" y1="101.8" x2="471.5" y2="108.8"/>
<line x1="471.5" y1="301.4" x2="471.5" y2="294.4"/>
<line x1="638.5" y1="101.8" x2="638.5" y2="108.8"/>
<line x1="638.5" y1="301.4" x2="638.5" y2="294.4"/>
<line x1="805.5" y1="101.8" x2="805.5" y2="108.8"/>
<line x1="805.5" y1="301.4" x2="805.5" y2="294.4"/>
<line x1="455.8" y1="105.5" x2="462.8" y2="105.5"/>
<line x1="836.5" y1="105.5" x2="829.5" y2="105.5"/>
<line x1="455.8" y1="175.5" x2="462.8" y2="175.5"/>
<line x1="836.5" y1="175.5" x2="829.5" y2="175.5"/>
<line x1="455.8" y1="245.5" x2="462.8" y2="245.5"/>
<line x1="836.5" y1="245.5" x2="829.5" y2="245.5"/>
</g>
<g clip-path="url(#ci1)">
<path d="M453.6 298.6 L455.5 298.6 L457.5 298.5 L459.4 298.4 L461.3 298.3 L463.2 298.2 L465.2 298.0 L467.1 297.9 L469.0 297.7 L470.9 297.5 L472.9 297.3 L474.8 297.1 L476.7 296.8 L478.6 296.4 L480.6 296.0 L482.5 295.5 L484.4 294.8 L486.3 293.5 L488.3 291.7 L490.2 289.8 L492.1 288.0 L494.0 286.0 L496.0 283.9 L497.9 281.8 L499.8 279.6 L501.7 277.4 L503.7 275.3 L505.6 273.0 L507.5 270.8 L509.4 268.4 L511.4 266.1 L513.3 263.7 L515.2 261.4 L517.1 259.0 L519.1 256.7 L521.0 254.5 L522.9 252.2 L524.8 250.1 L526.8 248.0 L528.7 245.9 L530.6 243.8 L532.5 241.8 L534.5 239.8 L536.4 237.8 L538.3 235.8 L540.2 233.9 L542.2 231.9 L544.1 229.9 L546.0 228.0 L547.9 226.0 L549.9 224.1 L551.8 222.1 L553.7 220.2 L555.6 218.2 L557.6 216.3 L559.5 214.4 L561.4 212.5 L563.3 210.6 L565.3 208.7 L567.2 206.8 L569.1 205.0 L571.0 203.1 L573.0 201.3 L574.9 199.4 L576.8 197.6 L578.7 195.8 L580.7 194.0 L582.6 192.2 L584.5 190.3 L586.4 188.5 L588.4 186.7 L590.3 184.9 L592.2 183.1 L594.1 181.3 L596.1 179.6 L598.0 177.8 L599.9 176.0 L601.8 174.2 L603.8 172.4 L605.7 170.6 L607.6 168.9 L609.5 167.1 L611.5 165.3 L613.4 163.5 L615.3 161.7 L617.2 159.8 L619.2 158.0 L621.1 156.2 L623.0 154.4 L624.9 152.7 L626.9 150.9 L628.8 149.2 L630.7 147.5 L632.6 145.7 L634.6 144.0 L636.5 142.3 L638.4 140.6 L640.3 138.9 L642.3 137.2 L644.2 135.6 L646.1 134.0 L648.0 132.5 L650.0 131.0 L651.9 129.6 L653.8 128.2 L655.7 126.7 L657.7 125.3 L659.6 124.0 L661.5 122.7 L663.4 121.4 L665.4 120.2 L667.3 119.0 L669.2 117.9 L671.1 116.9 L673.1 116.0 L675.0 115.0 L676.9 114.1 L678.8 113.2 L680.8 112.4 L682.7 111.6 L684.6 110.8 L686.5 110.1 L688.5 109.5 L690.4 108.9 L692.3 108.4 L694.2 108.0 L696.2 107.6 L698.1 107.2 L700.0 106.9 L701.9 106.6 L703.9 106.3 L705.8 106.1 L707.7 105.9 L709.6 105.8 L711.6 105.7 L713.5 105.7 L715.4 105.7 L717.3 105.7 L719.3 105.7 L721.2 105.7 L723.1 105.7 L725.0 105.7 L727.0 105.7 L728.9 105.7 L730.8 105.7 L732.7 105.7 L734.7 105.7 L736.6 105.7 L738.5 105.7 L740.4 105.7 L742.4 105.7 L744.3 105.7 L746.2 105.7 L748.1 105.7 L750.1 105.7 L752.0 105.7 L753.9 105.7 L755.8 105.7 L757.8 105.7 L759.7 105.7 L761.6 105.7 L763.5 105.7 L765.5 105.7 L767.4 105.7 L769.3 105.7 L771.2 105.7 L773.2 105.7 L775.1 105.7 L777.0 105.7 L778.9 105.7 L780.9 105.7 L782.8 105.7 L784.7 105.7 L786.6 105.7 L788.6 105.7 L790.5 105.7 L792.4 105.7 L794.3 105.7 L796.3 105.7 L798.2 105.7 L800.1 105.7 L802.0 105.7 L804.0 105.7 L805.9 105.7 L807.8 105.7 L809.7 105.7 L811.7 105.7 L813.6 105.7 L815.5 105.7 L817.4 105.7 L819.4 105.7 L821.3 105.7 L823.2 105.7 L825.1 105.7 L827.1 105.7 L829.0 105.7 L830.9 105.7 L832.8 105.7 L834.8 105.7 L836.7 105.7" fill="none" stroke="#808080" stroke-width="9.00" stroke-linejoin="round" />
<path d="M438.1 299.4 L439.8 299.4 L441.4 299.4 L443.1 299.4 L444.8 299.4 L446.4 299.4 L448.1 299.4 L449.8 299.4 L451.5 299.4 L453.1 299.4 L454.8 299.4 L456.5 299.3 L458.1 299.3 L459.8 299.2 L461.5 299.1 L463.2 299.0 L464.8 298.9 L466.5 298.8 L468.2 298.7 L469.8 298.6 L471.5 298.5 L473.2 298.4 L474.8 298.3 L476.5 298.1 L478.2 298.0 L479.8 297.8 L481.5 297.6 L483.2 297.3 L484.9 297.0 L486.5 296.6 L488.2 295.9 L489.9 295.1 L491.5 294.2 L493.2 293.4 L494.9 292.4 L496.5 291.4 L498.2 290.3 L499.9 289.1 L501.6 287.9 L503.2 286.6 L504.9 285.3 L506.6 283.9 L508.2 282.4 L509.9 280.9 L511.6 279.3 L513.2 277.7 L514.9 276.0 L516.6 274.3 L518.3 272.6 L519.9 270.9 L521.6 269.2 L523.3 267.5 L524.9 265.9 L526.6 264.2 L528.3 262.5 L529.9 260.7 L531.6 259.0 L533.3 257.2 L535.0 255.4 L536.6 253.7 L538.3 251.9 L540.0 250.1 L541.6 248.3 L543.3 246.6 L545.0 244.8 L546.7 243.1 L548.3 241.3 L550.0 239.6 L551.7 237.8 L553.3 236.0 L555.0 234.3 L556.7 232.5 L558.3 230.8 L560.0 229.0 L561.7 227.2 L563.3 225.5 L565.0 223.7 L566.7 222.0 L568.4 220.2 L570.0 218.5 L571.7 216.7 L573.4 215.0 L575.0 213.2 L576.7 211.5 L578.4 209.7 L580.0 208.0 L581.7 206.2 L583.4 204.5 L585.1 202.7 L586.7 201.0 L588.4 199.2 L590.1 197.5 L591.7 195.7 L593.4 194.0 L595.1 192.2 L596.8 190.5 L598.4 188.7 L600.1 187.0 L601.8 185.2 L603.4 183.5 L605.1 181.7 L606.8 180.0 L608.4 178.2 L610.1 176.5 L611.8 174.7 L613.4 173.0 L615.1 171.2 L616.8 169.4 L618.5 167.6 L620.1 165.9 L621.8 164.1 L623.5 162.4 L625.1 160.6 L626.8 158.9 L628.5 157.1 L630.2 155.4 L631.8 153.7 L633.5 151.9 L635.2 150.2 L636.8 148.5 L638.5 146.9 L640.2 145.3 L641.8 143.7 L643.5 142.2 L645.2 140.7 L646.8 139.3 L648.5 137.9 L650.2 136.6 L651.9 135.2 L653.5 134.0 L655.2 132.7 L656.9 131.6 L658.5 130.4 L660.2 129.4 L661.9 128.4 L663.5 127.5 L665.2 126.7 L666.9 125.8 L668.6 125.1 L670.2 124.3 L671.9 123.6 L673.6 122.9 L675.2 122.3 L676.9 121.6 L678.6 121.0 L680.2 120.4 L681.9 119.8 L683.6 119.2 L685.3 118.6 L686.9 118.1 L688.6 117.6 L690.3 117.2 L691.9 116.7 L693.6 116.3 L695.3 115.9 L696.9 115.5 L698.6 115.1 L700.3 114.8 L702.0 114.4 L703.6 114.1 L705.3 113.8 L707.0 113.5 L708.6 113.2 L710.3 112.9 L712.0 112.7 L713.7 112.4 L715.3 112.2 L717.0 111.9 L718.7 111.7 L720.3 111.5 L722.0 111.3 L723.7 111.1 L725.3 110.9 L727.0 110.7 L728.7 110.5 L730.3 110.4 L732.0 110.2 L733.7 110.0 L735.4 109.9 L737.0 109.7 L738.7 109.6 L740.4 109.4 L742.0 109.3 L743.7 109.1 L745.4 109.0 L747.0 108.9 L748.7 108.7 L750.4 108.6 L752.1 108.5 L753.7 108.4 L755.4 108.3 L757.1 108.2 L758.7 108.1 L760.4 108.0 L762.1 107.9 L763.8 107.8 L765.4 107.7 L767.1 107.7 L768.8 107.6 L770.4 107.5 L772.1 107.4 L773.8 107.4 L775.4 107.3 L777.1 107.3 L778.8 107.2 L780.4 107.1 L782.1 107.1 L783.8 107.0 L785.5 107.0 L787.1 106.9 L788.8 106.9 L790.5 106.8 L792.1 106.8 L793.8 106.8 L795.5 106.7 L797.2 106.7 L798.8 106.7 L800.5 106.6 L802.2 106.6 L803.8 106.6 L805.5 106.5 L807.2 106.5 L808.8 106.5 L810.5 106.5 L812.2 106.4 L813.8 106.4 L815.5 106.4 L817.2 106.4 L818.9 106.3 L820.5 106.3 L822.2 106.3 L823.9 106.3 L825.5 106.3 L827.2 106.3 L828.9 106.2 L830.5 106.2 L832.2 106.2 L833.9 106.2 L835.6 106.2 L837.2 106.2 L838.9 106.2 L840.6 106.2 L842.2 106.2 L843.9 106.2 L845.6 106.2 L847.2 106.2 L848.9 106.2 L850.6 106.2 L852.3 106.2 L853.9 106.2 L855.6 106.2" fill="none" stroke="#050505" stroke-width="9.00" stroke-linejoin="round" />
</g>
<text x="470.0" y="374.0" font-size="65.5" text-anchor="middle" fill="#262626"  textLength="110.3" lengthAdjust="spacingAndGlyphs">60.5</text>
<text x="636.0" y="374.0" font-size="65.5" text-anchor="middle" fill="#262626"  textLength="63.0" lengthAdjust="spacingAndGlyphs">61</text>
<text x="803.0" y="374.0" font-size="65.5" text-anchor="middle" fill="#262626"  textLength="110.3" lengthAdjust="spacingAndGlyphs">61.5</text>
<text x="437.5" y="115.3" font-size="65.5" text-anchor="end" fill="#262626"  textLength="110.3" lengthAdjust="spacingAndGlyphs">1.00</text>
<text x="437.5" y="185.3" font-size="65.5" text-anchor="end" fill="#262626"  textLength="110.3" lengthAdjust="spacingAndGlyphs">0.90</text>
<text x="437.5" y="255.3" font-size="65.5" text-anchor="end" fill="#262626"  textLength="110.3" lengthAdjust="spacingAndGlyphs">0.80</text>
<line x1="1323.5" y1="108.0" x2="1574.0" y2="108.0" stroke="#808080" stroke-width="9.40" />
<line x1="1323.5" y1="200.5" x2="1574.0" y2="200.5" stroke="#050505" stroke-width="9.40" />
<text x="1595.0" y="120.3" font-size="56.0" text-anchor="start" fill="#000" textLength="205.0" lengthAdjust="spacingAndGlyphs">Detailed</text>
<text x="1814.5" y="120.3" font-size="56.0" text-anchor="start" fill="#000" textLength="113.0" lengthAdjust="spacingAndGlyphs">(Fig.</text>
<text x="1940.5" y="120.3" font-size="56.0" text-anchor="start" fill="#000" textLength="47.0" lengthAdjust="spacingAndGlyphs">5)</text>
<text x="1592.5" y="212.0" font-size="56.0" text-anchor="start" fill="#000" textLength="254.0" lengthAdjust="spacingAndGlyphs">Simplified</text>
<text x="1861.3" y="212.0" font-size="56.0" text-anchor="start" fill="#000" textLength="113.0" lengthAdjust="spacingAndGlyphs">(Fig.</text>
<text x="1986.0" y="212.0" font-size="56.0" text-anchor="start" fill="#000" textLength="68.7" lengthAdjust="spacingAndGlyphs">2*)</text>
<g stroke="#050505" stroke-width="4.9" fill="none">
<ellipse cx="1075" cy="257" rx="38.3" ry="56.3"/>
<line x1="838" y1="116" x2="1097" y2="209"/>
<line x1="833" y1="290.4" x2="1050" y2="312.2"/>
</g>
<g transform="translate(93,400) rotate(-90)" fill="#262626">
<text x="0" y="0" font-size="70.4" font-style="italic">P</text>
<text x="42" y="33" font-size="56" font-style="italic">g</text>
<text x="91.2" y="0" font-size="70.4" textLength="127" lengthAdjust="spacingAndGlyphs">[pu]</text>
</g>
<g stroke="#2a221a" stroke-opacity="0.235" stroke-width="5.0">
<line x1="551.1" y1="696.6" x2="551.1" y2="1170.3"/>
<line x1="808.9" y1="696.6" x2="808.9" y2="1170.3"/>
<line x1="1066.8" y1="696.6" x2="1066.8" y2="1170.3"/>
<line x1="1324.6" y1="696.6" x2="1324.6" y2="1170.3"/>
<line x1="1582.5" y1="696.6" x2="1582.5" y2="1170.3"/>
<line x1="1840.4" y1="696.6" x2="1840.4" y2="1170.3"/>
<line x1="293.6" y1="1012.4" x2="2098.5" y2="1012.4"/>
<line x1="293.6" y1="854.4" x2="2098.5" y2="854.4"/>
</g>
<g stroke="#262626" stroke-width="5.0" fill="none">
<rect x="293.6" y="696.6" width="1804.9" height="473.7"/>
<line x1="551.1" y1="696.6" x2="551.1" y2="717.2"/>
<line x1="551.1" y1="1170.3" x2="551.1" y2="1149.7"/>
<line x1="808.9" y1="696.6" x2="808.9" y2="717.2"/>
<line x1="808.9" y1="1170.3" x2="808.9" y2="1149.7"/>
<line x1="1066.8" y1="696.6" x2="1066.8" y2="717.2"/>
<line x1="1066.8" y1="1170.3" x2="1066.8" y2="1149.7"/>
<line x1="1324.6" y1="696.6" x2="1324.6" y2="717.2"/>
<line x1="1324.6" y1="1170.3" x2="1324.6" y2="1149.7"/>
<line x1="1582.5" y1="696.6" x2="1582.5" y2="717.2"/>
<line x1="1582.5" y1="1170.3" x2="1582.5" y2="1149.7"/>
<line x1="1840.4" y1="696.6" x2="1840.4" y2="717.2"/>
<line x1="1840.4" y1="1170.3" x2="1840.4" y2="1149.7"/>
<line x1="293.6" y1="1012.4" x2="314.2" y2="1012.4"/>
<line x1="2098.5" y1="1012.4" x2="2077.9" y2="1012.4"/>
<line x1="293.6" y1="854.4" x2="314.2" y2="854.4"/>
<line x1="2098.5" y1="854.4" x2="2077.9" y2="854.4"/>
</g>
<clipPath id="c2"><rect x="291.6" y="696.6" width="1809.4" height="478.7"/></clipPath>
<g clip-path="url(#c2)">
<path d="M293.2 1170.3 L294.5 1170.3 L295.8 1170.3 L297.1 1170.3 L298.4 1170.3 L299.6 1170.3 L300.9 1170.3 L302.2 1170.3 L303.5 1170.3 L304.8 1170.3 L306.1 1170.3 L307.4 1170.3 L308.7 1170.3 L310.0 1170.3 L311.3 1170.3 L312.5 1170.3 L313.8 1170.3 L315.1 1170.3 L316.4 1170.3 L317.7 1170.3 L319.0 1170.3 L320.3 1170.3 L321.6 1170.3 L322.9 1170.3 L324.1 1170.3 L325.4 1170.3 L326.7 1170.3 L328.0 1170.3 L329.3 1170.3 L330.6 1170.3 L331.9 1170.3 L333.2 1170.3 L334.5 1170.3 L335.7 1170.3 L337.0 1170.3 L338.3 1170.3 L339.6 1170.3 L340.9 1170.3 L342.2 1170.3 L343.5 1170.3 L344.8 1170.3 L346.1 1170.3 L347.4 1170.3 L348.6 1170.3 L349.9 1170.3 L351.2 1170.3 L352.5 1170.3 L353.8 1170.3 L355.1 1170.3 L356.4 1170.3 L357.7 1170.3 L359.0 1170.3 L360.2 1170.3 L361.5 1170.3 L362.8 1170.3 L364.1 1170.3 L365.4 1170.3 L366.7 1170.3 L368.0 1170.3 L369.3 1170.3 L370.6 1170.3 L371.8 1170.3 L373.1 1170.3 L374.4 1170.3 L375.7 1170.3 L377.0 1170.3 L378.3 1170.3 L379.6 1170.3 L380.9 1170.3 L382.2 1170.3 L383.5 1170.3 L384.7 1170.3 L386.0 1170.3 L387.3 1170.3 L388.6 1170.3 L389.9 1170.3 L391.2 1170.3 L392.5 1170.3 L393.8 1170.3 L395.1 1170.3 L396.3 1170.3 L397.6 1170.3 L398.9 1170.3 L400.2 1170.3 L401.5 1170.3 L402.8 1170.3 L404.1 1170.3 L405.4 1170.3 L406.7 1170.3 L407.9 1170.3 L409.2 1170.3 L410.5 1170.3 L411.8 1170.3 L413.1 1170.3 L414.4 1170.3 L415.7 1170.3 L417.0 1170.3 L418.3 1170.3 L419.6 1170.3 L420.8 1170.3 L422.1 1170.3 L423.4 1170.3 L424.7 1170.3 L426.0 1170.3 L427.3 1170.3 L428.6 1170.3 L429.9 1170.3 L431.2 1170.3 L432.4 1170.3 L433.7 1170.3 L435.0 1170.3 L436.3 1170.3 L437.6 1170.3 L438.9 1170.3 L440.2 1170.3 L441.5 1170.3 L442.8 1170.3 L444.0 1170.3 L445.3 1170.3 L446.6 1170.3 L447.9 1170.3 L449.2 1170.3 L450.5 1170.3 L451.8 1170.3 L453.1 1170.3 L454.4 1170.3 L455.7 1170.3 L456.9 1170.3 L458.2 1170.3 L459.5 1170.3 L460.8 1170.3 L462.1 1170.3 L463.4 1170.3 L464.7 1170.3 L466.0 1170.3 L467.3 1170.3 L468.5 1170.3 L469.8 1170.3 L471.1 1170.3 L472.4 1170.3 L473.7 1170.3 L475.0 1170.3 L476.3 1170.3 L477.6 1170.3 L478.9 1170.3 L480.1 1170.3 L481.4 1170.3 L482.7 1170.3 L484.0 1170.3 L485.3 1170.3 L486.6 1170.3 L487.9 1170.3 L489.2 1170.3 L490.5 1170.3 L491.8 1170.3 L493.0 1170.3 L494.3 1170.3 L495.6 1170.3 L496.9 1170.3 L498.2 1170.3 L499.5 1170.3 L500.8 1170.3 L502.1 1170.3 L503.4 1170.3 L504.6 1170.3 L505.9 1170.3 L507.2 1170.3 L508.5 1170.3 L509.8 1170.3 L511.1 1170.3 L512.4 1170.3 L513.7 1170.3 L515.0 1170.3 L516.2 1170.3 L517.5 1170.3 L518.8 1170.3 L520.1 1170.3 L521.4 1170.3 L522.7 1170.3 L524.0 1170.3 L525.3 1170.3 L526.6 1170.3 L527.9 1170.3 L529.1 1170.3 L530.4 1170.3 L531.7 1170.3 L533.0 1170.3 L534.3 1170.3 L535.6 1170.3 L536.9 1170.3 L538.2 1170.3 L539.5 1170.3 L540.7 1170.3 L542.0 1170.3 L543.3 1170.3 L544.6 1170.3 L545.9 1170.3 L547.2 1170.3 L548.5 1170.3 L549.8 1170.3 L551.1 1170.3 L552.3 1168.7 L553.6 1167.1 L554.9 1165.5 L556.2 1164.0 L557.5 1162.4 L558.8 1160.9 L560.1 1159.4 L561.4 1157.9 L562.7 1156.4 L564.0 1154.9 L565.2 1153.4 L566.5 1152.0 L567.8 1150.6 L569.1 1149.2 L570.4 1147.8 L571.7 1146.4 L573.0 1145.0 L574.3 1143.6 L575.6 1142.3 L576.8 1141.0 L578.1 1139.6 L579.4 1138.3 L580.7 1137.0 L582.0 1135.8 L583.3 1134.5 L584.6 1133.2 L585.9 1132.0 L587.2 1130.8 L588.4 1129.5 L589.7 1128.3 L591.0 1127.1 L592.3 1126.0 L593.6 1124.8 L594.9 1123.6 L596.2 1122.5 L597.5 1121.4 L598.8 1120.2 L600.1 1119.1 L601.3 1118.0 L602.6 1116.9 L603.9 1115.8 L605.2 1114.8 L606.5 1113.7 L607.8 1112.7 L609.1 1111.6 L610.4 1110.6 L611.7 1109.6 L612.9 1108.6 L614.2 1107.6 L615.5 1106.6 L616.8 1105.6 L618.1 1104.7 L619.4 1103.7 L620.7 1102.8 L622.0 1101.8 L623.3 1100.9 L624.6 1100.0 L625.8 1099.1 L627.1 1098.2 L628.4 1097.3 L629.7 1096.4 L631.0 1095.5 L632.3 1094.6 L633.6 1093.8 L634.9 1092.9 L636.2 1092.1 L637.4 1091.3 L638.7 1090.4 L640.0 1089.6 L641.3 1088.8 L642.6 1088.0 L643.9 1087.2 L645.2 1086.4 L646.5 1085.7 L647.8 1084.9 L649.0 1084.1 L650.3 1083.4 L651.6 1082.6 L652.9 1081.9 L654.2 1081.2 L655.5 1080.4 L656.8 1079.7 L658.1 1079.0 L659.4 1078.3 L660.7 1077.6 L661.9 1076.9 L663.2 1076.2 L664.5 1075.6 L665.8 1074.9 L667.1 1074.2 L668.4 1073.6 L669.7 1072.9 L671.0 1072.3 L672.3 1071.6 L673.5 1071.0 L674.8 1070.4 L676.1 1069.8 L677.4 1069.2 L678.7 1068.6 L680.0 1068.0 L681.3 1067.4 L682.6 1066.8 L683.9 1066.2 L685.1 1065.6 L686.4 1065.1 L687.7 1064.5 L689.0 1063.9 L690.3 1063.4 L691.6 1062.8 L692.9 1062.3 L694.2 1061.8 L695.5 1061.2 L696.8 1060.7 L698.0 1060.2 L699.3 1059.7 L700.6 1059.2 L701.9 1058.7 L703.2 1058.2 L704.5 1057.7 L705.8 1057.2 L707.1 1056.7 L708.4 1056.2 L709.6 1055.7 L710.9 1055.3 L712.2 1054.8 L713.5 1054.3 L714.8 1053.9 L716.1 1053.4 L717.4 1053.0 L718.7 1052.5 L720.0 1052.1 L721.2 1051.7 L722.5 1051.2 L723.8 1050.8 L725.1 1050.4 L726.4 1050.0 L727.7 1049.5 L729.0 1049.1 L730.3 1048.7 L731.6 1048.3 L732.9 1047.9 L734.1 1047.5 L735.4 1047.2 L736.7 1046.8 L738.0 1046.4 L739.3 1046.0 L740.6 1045.6 L741.9 1045.3 L743.2 1044.9 L744.5 1044.5 L745.7 1044.2 L747.0 1043.8 L748.3 1043.5 L749.6 1043.1 L750.9 1042.8 L752.2 1042.4 L753.5 1042.1 L754.8 1041.8 L756.1 1041.4 L757.3 1041.1 L758.6 1040.8 L759.9 1040.4 L761.2 1040.1 L762.5 1039.8 L763.8 1039.5 L765.1 1039.2 L766.4 1038.9 L767.7 1038.6 L769.0 1038.3 L770.2 1038.0 L771.5 1037.7 L772.8 1037.4 L774.1 1037.1 L775.4 1036.8 L776.7 1036.5 L778.0 1036.3 L779.3 1036.0 L780.6 1035.7 L781.8 1035.4 L783.1 1035.2 L784.4 1034.9 L785.7 1034.6 L787.0 1034.4 L788.3 1034.1 L789.6 1033.9 L790.9 1033.6 L792.2 1033.4 L793.4 1033.1 L794.7 1032.9 L796.0 1032.6 L797.3 1032.4 L798.6 1032.1 L799.9 1031.9 L801.2 1031.7 L802.5 1031.4 L803.8 1031.2 L805.1 1031.0 L806.3 1030.8 L807.6 1030.5 L808.9 1030.3 L810.2 1028.2 L811.5 1026.2 L812.8 1024.2 L814.1 1022.2 L815.4 1020.2 L816.7 1018.2 L817.9 1016.2 L819.2 1014.3 L820.5 1012.3 L821.8 1010.4 L823.1 1008.5 L824.4 1006.6 L825.7 1004.7 L827.0 1002.8 L828.3 1000.9 L829.5 999.1 L830.8 997.2 L832.1 995.4 L833.4 993.6 L834.7 991.8 L836.0 990.0 L837.3 988.3 L838.6 986.7 L839.9 985.0 L841.2 983.4 L842.4 981.9 L843.7 980.3 L845.0 978.8 L846.3 977.3 L847.6 975.8 L848.9 974.3 L850.2 972.8 L851.5 971.4 L852.8 969.9 L854.0 968.4 L855.3 967.0 L856.6 965.5 L857.9 964.1 L859.2 962.6 L860.5 961.2 L861.8 959.8 L863.1 958.4 L864.4 957.0 L865.6 955.6 L866.9 954.2 L868.2 952.9 L869.5 951.5 L870.8 950.2 L872.1 948.9 L873.4 947.6 L874.7 946.3 L876.0 945.0 L877.3 943.7 L878.5 942.5 L879.8 941.3 L881.1 940.1 L882.4 938.9 L883.7 937.7 L885.0 936.6 L886.3 935.4 L887.6 934.3 L888.9 933.2 L890.1 932.1 L891.4 931.0 L892.7 930.0 L894.0 929.0 L895.3 928.0 L896.6 927.0 L897.9 926.0 L899.2 925.1 L900.5 924.1 L901.7 923.2 L903.0 922.3 L904.3 921.3 L905.6 920.4 L906.9 919.5 L908.2 918.6 L909.5 917.8 L910.8 916.9 L912.1 916.1 L913.4 915.2 L914.6 914.4 L915.9 913.6 L917.2 912.8 L918.5 912.0 L919.8 911.2 L921.1 910.5 L922.4 909.7 L923.7 909.0 L925.0 908.3 L926.2 907.6 L927.5 906.9 L928.8 906.2 L930.1 905.6 L931.4 904.9 L932.7 904.3 L934.0 903.6 L935.3 903.0 L936.6 902.4 L937.9 901.8 L939.1 901.2 L940.4 900.6 L941.7 900.0 L943.0 899.5 L944.3 898.9 L945.6 898.3 L946.9 897.8 L948.2 897.2 L949.5 896.7 L950.7 896.1 L952.0 895.6 L953.3 895.0 L954.6 894.5 L955.9 893.9 L957.2 893.4 L958.5 892.9 L959.8 892.3 L961.1 891.8 L962.3 891.3 L963.6 890.8 L964.9 890.3 L966.2 889.7 L967.5 889.2 L968.8 888.7 L970.1 888.2 L971.4 887.7 L972.7 887.3 L974.0 886.8 L975.2 886.3 L976.5 885.9 L977.8 885.4 L979.1 884.9 L980.4 884.5 L981.7 884.1 L983.0 883.6 L984.3 883.2 L985.6 882.8 L986.8 882.4 L988.1 882.0 L989.4 881.6 L990.7 881.2 L992.0 880.8 L993.3 880.4 L994.6 880.0 L995.9 879.6 L997.2 879.3 L998.4 878.9 L999.7 878.5 L1001.0 878.2 L1002.3 877.8 L1003.6 877.5 L1004.9 877.1 L1006.2 876.8 L1007.5 876.4 L1008.8 876.1 L1010.1 875.8 L1011.3 875.5 L1012.6 875.1 L1013.9 874.8 L1015.2 874.5 L1016.5 874.2 L1017.8 873.9 L1019.1 873.5 L1020.4 873.2 L1021.7 872.9 L1022.9 872.6 L1024.2 872.3 L1025.5 872.0 L1026.8 871.7 L1028.1 871.4 L1029.4 871.1 L1030.7 870.8 L1032.0 870.6 L1033.3 870.3 L1034.5 870.1 L1035.8 869.8 L1037.1 869.6 L1038.4 869.4 L1039.7 869.2 L1041.0 869.0 L1042.3 868.9 L1043.6 868.7 L1044.9 868.5 L1046.2 868.4 L1047.4 868.2 L1048.7 868.1 L1050.0 867.9 L1051.3 867.8 L1052.6 867.6 L1053.9 867.5 L1055.2 867.4 L1056.5 867.3 L1057.8 867.1 L1059.0 867.0 L1060.3 867.0 L1060.5 866.9 L1060.6 866.9 L1060.7 866.9 L1060.8 866.9 L1061.0 866.9 L1061.1 866.9 L1061.2 866.9 L1061.4 866.9 L1061.5 866.9 L1061.6 866.9 L1061.8 866.9 L1061.9 866.9 L1062.0 866.9 L1062.1 866.8 L1062.3 866.8 L1062.4 866.8 L1062.5 866.8 L1062.7 866.8 L1062.8 866.8 L1062.9 866.8 L1063.0 866.8 L1063.2 866.8 L1063.3 866.8 L1063.4 866.8 L1063.6 866.8 L1063.7 866.8 L1063.8 866.8 L1063.9 866.7 L1064.0 866.7 L1064.1 866.7 L1064.2 866.7 L1064.2 866.7 L1064.3 866.7 L1064.5 866.7 L1064.6 866.7 L1064.7 866.6 L1064.8 866.6 L1065.0 866.6 L1065.1 866.6 L1065.2 866.6 L1065.4 866.6 L1065.5 866.5 L1065.5 866.5 L1065.6 866.5 L1065.7 866.5 L1065.9 866.5 L1066.0 866.5 L1066.1 866.4 L1066.3 866.4 L1066.4 866.4 L1066.5 866.4 L1066.7 866.4 L1066.7 866.4 L1066.8 866.2 L1066.9 866.0 L1067.0 865.8 L1067.2 865.5 L1067.3 865.3 L1067.4 865.1 L1067.6 864.9 L1067.7 864.6 L1067.8 864.4 L1067.9 864.2 L1068.1 864.0 L1068.2 863.7 L1068.3 863.5 L1068.5 863.3 L1068.6 863.1 L1068.7 862.8 L1068.8 862.6 L1069.0 862.4 L1069.1 862.1 L1069.2 861.9 L1069.4 861.7 L1069.5 861.4 L1069.6 861.2 L1069.7 861.0 L1069.9 860.7 L1070.0 860.5 L1070.1 860.3 L1070.3 860.0 L1070.4 859.8 L1070.5 859.6 L1070.6 859.3 L1070.6 859.3 L1070.8 859.1 L1070.9 858.9 L1071.0 858.6 L1071.2 858.4 L1071.3 858.2 L1071.4 857.9 L1071.6 857.7 L1071.7 857.5 L1071.8 857.2 L1071.9 857.0 L1071.9 857.0 L1072.1 856.8 L1072.2 856.6 L1072.3 856.3 L1072.5 856.1 L1072.6 855.9 L1072.7 855.7 L1072.8 855.5 L1073.0 855.3 L1073.1 855.0 L1073.2 854.8 L1073.4 854.6 L1073.5 854.4 L1073.6 854.2 L1073.7 854.0 L1073.9 853.7 L1074.0 853.5 L1074.1 853.3 L1074.3 853.1 L1074.4 852.9 L1074.5 852.7 L1074.6 852.5 L1074.8 852.3 L1074.9 852.1 L1075.0 851.9 L1075.2 851.8 L1075.3 851.6 L1075.4 851.4 L1075.5 851.2 L1075.7 851.0 L1075.8 850.9 L1075.9 850.7 L1076.1 850.5 L1076.2 850.4 L1076.3 850.2 L1076.4 850.1 L1076.6 849.9 L1076.7 849.7 L1076.8 849.6 L1077.0 849.4 L1077.1 849.3 L1077.1 849.3 L1077.2 849.1 L1077.4 849.0 L1077.5 848.9 L1077.6 848.7 L1077.7 848.6 L1077.9 848.5 L1078.0 848.3 L1078.1 848.2 L1078.3 848.1 L1078.4 848.0 L1078.4 848.0 L1078.5 847.9 L1078.6 847.8 L1078.8 847.7 L1078.9 847.6 L1079.0 847.5 L1079.2 847.4 L1079.3 847.3 L1079.4 847.2 L1079.5 847.1 L1079.7 847.0 L1079.8 846.9 L1079.9 846.9 L1080.1 846.8 L1080.2 846.7 L1080.3 846.6 L1080.4 846.6 L1080.6 846.5 L1080.7 846.4 L1080.8 846.3 L1081.0 846.3 L1081.1 846.2 L1081.2 846.1 L1081.3 846.1 L1081.5 846.0 L1081.6 846.0 L1081.7 845.9 L1081.9 845.9 L1082.0 845.8 L1082.1 845.7 L1082.3 845.7 L1082.4 845.6 L1082.5 845.6 L1082.6 845.5 L1082.8 845.5 L1082.9 845.4 L1083.0 845.4 L1083.2 845.3 L1083.3 845.3 L1083.4 845.3 L1083.5 845.2 L1083.5 845.2 L1083.7 845.2 L1083.8 845.2 L1083.9 845.1 L1084.1 845.1 L1084.2 845.1 L1084.3 845.1 L1084.4 845.0 L1084.6 845.0 L1084.7 845.0 L1084.8 845.0 L1084.8 845.0 L1085.0 845.0 L1085.1 845.0 L1085.2 845.0 L1085.3 845.0 L1085.5 845.0 L1085.6 845.0 L1085.7 845.0 L1085.9 845.0 L1086.0 845.0 L1086.1 845.0 L1086.2 845.0 L1086.4 845.0 L1086.5 845.0 L1086.6 845.0 L1086.8 845.0 L1086.9 845.1 L1087.0 845.1 L1087.2 845.1 L1087.3 845.1 L1087.4 845.1 L1087.5 845.2 L1087.7 845.2 L1087.8 845.2 L1087.9 845.2 L1088.1 845.2 L1088.2 845.2 L1088.3 845.3 L1088.4 845.3 L1088.6 845.3 L1088.7 845.3 L1088.8 845.3 L1089.0 845.3 L1089.1 845.3 L1089.2 845.3 L1089.3 845.3 L1089.5 845.3 L1089.6 845.3 L1089.7 845.3 L1089.9 845.3 L1090.0 845.3 L1090.0 845.3 L1090.1 845.3 L1090.2 845.3 L1090.4 845.4 L1090.5 845.4 L1090.6 845.4 L1090.8 845.4 L1090.9 845.4 L1091.0 845.4 L1091.1 845.4 L1091.3 845.4 L1091.3 845.4 L1091.4 845.4 L1091.5 845.4 L1091.7 845.4 L1091.8 845.4 L1091.9 845.4 L1092.1 845.4 L1092.2 845.4 L1092.3 845.4 L1092.4 845.4 L1092.6 845.4 L1092.7 845.4 L1092.8 845.4 L1093.0 845.4 L1093.1 845.4 L1093.2 845.4 L1093.3 845.4 L1093.5 845.4 L1093.6 845.4 L1093.7 845.4 L1093.9 845.4 L1094.0 845.4 L1094.1 845.4 L1094.2 845.4 L1094.4 845.4 L1094.5 845.4 L1094.6 845.4 L1094.8 845.4 L1094.9 845.4 L1095.0 845.4 L1095.1 845.4 L1095.3 845.4 L1095.4 845.4 L1095.5 845.4 L1095.7 845.4 L1095.8 845.4 L1095.9 845.4 L1096.0 845.4 L1096.2 845.4 L1096.3 845.4 L1096.4 845.4 L1096.4 845.4 L1096.6 845.4 L1096.7 845.4 L1096.8 845.4 L1096.9 845.4 L1097.1 845.4 L1097.2 845.4 L1097.3 845.4 L1097.5 845.4 L1097.6 845.4 L1097.7 845.4 L1097.7 845.4 L1097.9 845.4 L1098.0 845.4 L1098.1 845.4 L1098.2 845.4 L1098.4 845.4 L1098.5 845.4 L1098.6 845.4 L1098.8 845.4 L1098.9 845.4 L1099.0 845.4 L1100.3 845.4 L1101.6 845.4 L1102.9 845.4 L1104.2 845.4 L1105.5 845.4 L1106.7 845.4 L1108.0 845.4 L1109.3 845.4 L1110.6 845.4 L1111.9 845.4 L1113.2 845.4 L1114.5 845.4 L1115.8 845.4 L1117.1 845.4 L1118.4 845.4 L1119.6 845.4 L1120.9 845.4 L1122.2 845.4 L1123.5 845.4 L1124.8 845.4 L1126.1 845.4 L1127.4 845.4 L1128.7 845.4 L1130.0 845.4 L1131.2 845.4 L1132.5 845.4 L1133.8 845.4 L1135.1 845.4 L1136.4 845.4 L1137.7 845.4 L1139.0 845.4 L1140.3 845.4 L1141.6 845.4 L1142.8 845.4 L1144.1 845.4 L1145.4 845.4 L1146.7 845.4 L1148.0 845.4 L1149.3 845.4 L1150.6 845.4 L1151.9 845.4 L1153.2 845.4 L1154.5 845.4 L1155.7 845.4 L1157.0 845.4 L1158.3 845.4 L1159.6 845.4 L1160.9 845.4 L1162.2 845.4 L1163.5 845.4 L1164.8 845.4 L1166.1 845.4 L1167.3 845.4 L1168.6 845.4 L1169.9 845.4 L1171.2 845.4 L1172.5 845.4 L1173.8 845.4 L1175.1 845.4 L1176.4 845.4 L1177.7 845.4 L1178.9 845.4 L1180.2 845.4 L1181.5 845.4 L1182.8 845.4 L1184.1 845.4 L1185.4 845.4 L1186.7 845.4 L1188.0 845.4 L1189.3 845.4 L1190.6 845.4 L1191.8 845.4 L1193.1 845.4 L1194.4 845.4 L1195.7 845.4 L1197.0 845.4 L1198.3 845.4 L1199.6 845.4 L1200.9 845.4 L1202.2 845.4 L1203.4 845.4 L1204.7 845.4 L1206.0 845.4 L1207.3 845.4 L1208.6 845.4 L1209.9 845.4 L1211.2 845.4 L1212.5 845.4 L1213.8 845.4 L1215.0 845.4 L1216.3 845.4 L1217.6 845.4 L1218.9 845.4 L1220.2 845.4 L1221.5 845.4 L1222.8 845.4 L1224.1 845.4 L1225.4 845.4 L1226.7 845.4 L1227.9 845.4 L1229.2 845.4 L1230.5 845.4 L1231.8 845.4 L1233.1 845.4 L1234.4 845.4 L1235.7 845.4 L1237.0 845.4 L1238.3 845.4 L1239.5 845.4 L1240.8 845.4 L1242.1 845.4 L1243.4 845.4 L1244.7 845.4 L1246.0 845.4 L1247.3 845.4 L1248.6 845.4 L1249.9 845.4 L1251.1 845.4 L1252.4 845.4 L1253.7 845.4 L1255.0 845.4 L1256.3 845.4 L1257.6 845.4 L1258.9 845.4 L1260.2 845.4 L1261.5 845.4 L1262.8 845.4 L1264.0 845.4 L1265.3 845.4 L1266.6 845.4 L1267.9 845.4 L1269.2 845.4 L1270.5 845.4 L1271.8 845.4 L1273.1 845.4 L1274.4 845.4 L1275.6 845.4 L1276.9 845.4 L1278.2 845.4 L1279.5 845.4 L1280.8 845.4 L1282.1 845.4 L1283.4 845.4 L1284.7 845.4 L1286.0 845.4 L1287.3 845.4 L1288.5 845.4 L1289.8 845.4 L1291.1 845.4 L1292.4 845.4 L1293.7 845.4 L1295.0 845.4 L1296.3 845.4 L1297.6 845.4 L1298.9 845.4 L1300.1 845.4 L1301.4 845.4 L1302.7 845.4 L1304.0 845.4 L1305.3 845.4 L1306.6 845.4 L1307.9 845.4 L1309.2 845.4 L1310.5 845.4 L1311.7 845.4 L1313.0 845.4 L1314.3 845.4 L1315.6 845.4 L1316.9 845.4 L1318.2 845.4 L1318.3 845.4 L1318.5 845.4 L1318.6 845.4 L1318.7 845.4 L1318.8 845.4 L1319.0 845.4 L1319.1 845.4 L1319.2 845.4 L1319.4 845.4 L1319.5 845.4 L1319.5 845.4 L1319.6 845.4 L1319.7 845.4 L1319.9 845.4 L1320.0 845.4 L1320.1 845.4 L1320.3 845.4 L1320.4 845.4 L1320.5 845.4 L1320.6 845.4 L1320.8 845.4 L1320.9 845.4 L1321.0 845.4 L1321.2 845.4 L1321.3 845.4 L1321.4 845.4 L1321.5 845.4 L1321.7 845.4 L1321.8 845.4 L1321.9 845.4 L1322.1 845.4 L1322.1 845.4 L1322.2 845.4 L1322.3 845.4 L1322.4 845.4 L1322.6 845.4 L1322.7 845.4 L1322.8 845.4 L1323.0 845.4 L1323.1 845.4 L1323.2 845.4 L1323.4 845.4 L1323.5 845.4 L1323.6 845.4 L1323.7 845.4 L1323.9 845.4 L1324.0 845.4 L1324.1 845.4 L1324.3 845.4 L1324.4 845.4 L1324.5 845.4 L1324.6 845.4 L1324.8 845.4 L1324.9 845.4 L1325.0 845.5 L1325.2 845.5 L1325.3 845.6 L1325.4 845.6 L1325.5 845.7 L1325.7 845.8 L1325.8 845.9 L1325.9 846.0 L1325.9 846.0 L1326.1 846.0 L1326.2 846.1 L1326.3 846.2 L1326.4 846.3 L1326.6 846.4 L1326.7 846.5 L1326.8 846.6 L1327.0 846.7 L1327.1 846.8 L1327.2 846.9 L1327.3 847.1 L1327.5 847.2 L1327.6 847.3 L1327.7 847.4 L1327.9 847.5 L1328.0 847.6 L1328.1 847.7 L1328.3 847.8 L1328.4 847.9 L1328.5 848.0 L1328.5 848.0 L1328.6 848.2 L1328.8 848.3 L1328.9 848.4 L1329.0 848.5 L1329.2 848.6 L1329.3 848.7 L1329.4 848.8 L1329.5 848.9 L1329.7 849.0 L1329.8 849.1 L1329.9 849.2 L1330.1 849.3 L1330.2 849.4 L1330.3 849.5 L1330.4 849.6 L1330.6 849.7 L1330.7 849.8 L1330.8 849.9 L1331.0 850.0 L1331.1 850.1 L1331.2 850.1 L1331.3 850.2 L1331.5 850.3 L1331.6 850.4 L1331.7 850.5 L1331.9 850.6 L1332.0 850.6 L1332.1 850.7 L1332.2 850.8 L1332.4 850.9 L1332.4 850.9 L1332.5 850.9 L1332.6 851.0 L1332.8 851.1 L1332.9 851.2 L1333.0 851.2 L1333.1 851.3 L1333.3 851.4 L1333.4 851.4 L1333.5 851.5 L1333.7 851.5 L1333.8 851.6 L1333.9 851.7 L1334.1 851.7 L1334.2 851.8 L1334.3 851.8 L1334.4 851.9 L1334.6 851.9 L1334.7 852.0 L1334.8 852.0 L1335.0 852.1 L1335.0 852.1 L1335.1 852.1 L1335.2 852.2 L1335.3 852.2 L1335.5 852.2 L1335.6 852.3 L1335.7 852.3 L1335.9 852.4 L1336.0 852.4 L1336.1 852.4 L1336.2 852.5 L1336.4 852.5 L1336.5 852.5 L1336.6 852.6 L1336.8 852.6 L1336.9 852.6 L1337.0 852.7 L1337.1 852.7 L1337.3 852.7 L1337.4 852.7 L1337.5 852.8 L1337.7 852.8 L1337.8 852.8 L1337.9 852.8 L1338.0 852.9 L1338.2 852.9 L1338.3 852.9 L1338.4 852.9 L1338.6 853.0 L1338.7 853.0 L1338.8 853.0 L1338.8 853.0 L1339.0 853.0 L1339.1 853.0 L1339.2 853.0 L1339.3 853.1 L1339.5 853.1 L1339.6 853.1 L1339.7 853.1 L1339.9 853.1 L1340.0 853.1 L1340.1 853.1 L1340.2 853.2 L1340.4 853.2 L1340.5 853.2 L1340.6 853.2 L1340.8 853.2 L1340.9 853.2 L1341.0 853.2 L1341.1 853.2 L1341.3 853.2 L1341.4 853.3 L1341.4 853.3 L1341.5 853.3 L1341.7 853.3 L1341.8 853.3 L1341.9 853.3 L1342.0 853.3 L1342.2 853.3 L1342.3 853.3 L1342.4 853.3 L1342.6 853.3 L1342.7 853.3 L1342.8 853.3 L1342.9 853.3 L1343.1 853.3 L1343.2 853.4 L1343.3 853.4 L1343.5 853.4 L1343.6 853.4 L1343.7 853.4 L1343.9 853.4 L1344.0 853.4 L1344.1 853.4 L1344.2 853.4 L1344.4 853.4 L1344.5 853.4 L1344.6 853.4 L1344.8 853.4 L1344.9 853.4 L1345.0 853.4 L1345.1 853.4 L1345.3 853.4 L1345.3 853.4 L1345.4 853.4 L1345.5 853.4 L1345.7 853.4 L1345.8 853.4 L1345.9 853.4 L1346.0 853.4 L1346.2 853.4 L1346.3 853.4 L1346.4 853.4 L1346.6 853.4 L1346.7 853.4 L1346.8 853.4 L1346.9 853.4 L1347.1 853.4 L1347.2 853.4 L1347.3 853.4 L1347.5 853.4 L1347.6 853.4 L1347.7 853.4 L1347.8 853.5 L1347.8 853.5 L1348.0 853.5 L1348.1 853.5 L1348.2 853.5 L1348.4 853.5 L1348.5 853.5 L1348.6 853.5 L1348.7 853.5 L1348.9 853.5 L1349.0 853.5 L1349.1 853.5 L1349.3 853.5 L1349.4 853.5 L1349.5 853.5 L1349.7 853.5 L1349.8 853.5 L1349.9 853.5 L1350.0 853.5 L1350.2 853.5 L1350.3 853.5 L1350.4 853.5 L1350.6 853.5 L1350.7 853.5 L1350.8 853.5 L1350.9 853.5 L1351.1 853.5 L1351.2 853.5 L1351.3 853.5 L1351.5 853.5 L1351.6 853.5 L1351.7 853.5 L1351.7 853.5 L1351.8 853.5 L1352.0 853.5 L1352.1 853.5 L1352.2 853.5 L1352.4 853.5 L1352.5 853.5 L1352.6 853.5 L1352.7 853.5 L1352.9 853.5 L1353.0 853.5 L1353.1 853.5 L1353.3 853.5 L1353.4 853.5 L1353.5 853.5 L1353.6 853.5 L1353.8 853.5 L1353.9 853.5 L1354.0 853.5 L1354.2 853.5 L1354.3 853.5 L1354.3 853.5 L1354.4 853.5 L1354.6 853.5 L1354.7 853.5 L1354.8 853.5 L1354.9 853.5 L1355.1 853.5 L1355.2 853.5 L1355.3 853.5 L1355.5 853.5 L1355.6 853.5 L1355.7 853.5 L1355.8 853.5 L1356.0 853.5 L1356.1 853.5 L1356.2 853.5 L1356.4 853.5 L1356.5 853.5 L1356.6 853.5 L1356.7 853.5 L1356.9 853.5 L1357.0 853.5 L1357.1 853.5 L1357.3 853.5 L1357.4 853.5 L1357.5 853.5 L1357.6 853.5 L1357.8 853.5 L1357.9 853.5 L1358.0 853.5 L1358.2 853.5 L1358.2 853.5 L1358.3 853.5 L1358.4 853.5 L1358.5 853.5 L1358.7 853.5 L1358.8 853.5 L1358.9 853.5 L1359.1 853.5 L1359.2 853.5 L1359.3 853.5 L1359.5 853.5 L1359.6 853.5 L1359.7 853.5 L1359.8 853.5 L1360.0 853.5 L1360.1 853.5 L1360.2 853.5 L1360.4 853.5 L1360.5 853.5 L1360.6 853.5 L1360.7 853.5 L1360.7 853.5 L1360.9 853.5 L1361.0 853.5 L1361.1 853.5 L1361.3 853.5 L1361.4 853.5 L1361.5 853.5 L1361.6 853.5 L1361.8 853.5 L1361.9 853.5 L1362.0 853.5 L1362.2 853.5 L1362.3 853.5 L1362.4 853.5 L1362.5 853.5 L1362.7 853.5 L1362.8 853.5 L1362.9 853.5 L1363.1 853.5 L1363.2 853.5 L1363.3 853.5 L1364.6 853.5 L1365.9 853.5 L1367.2 853.5 L1368.5 853.5 L1369.8 853.5 L1371.1 853.5 L1372.3 853.5 L1373.6 853.5 L1374.9 853.5 L1376.2 853.5 L1377.5 853.5 L1378.8 853.5 L1380.1 853.5 L1381.4 853.5 L1382.7 853.5 L1383.9 853.5 L1385.2 853.5 L1386.5 853.5 L1387.8 853.5 L1389.1 853.5 L1390.4 853.5 L1391.7 853.5 L1393.0 853.5 L1394.3 853.5 L1395.6 853.5 L1396.8 853.5 L1398.1 853.5 L1399.4 853.5 L1400.7 853.5 L1402.0 853.5 L1403.3 853.5 L1404.6 853.5 L1405.9 853.5 L1407.2 853.5 L1408.4 853.5 L1409.7 853.5 L1411.0 853.5 L1412.3 853.5 L1413.6 853.5 L1414.9 853.5 L1416.2 853.5 L1417.5 853.5 L1418.8 853.5 L1420.0 853.5 L1421.3 853.5 L1422.6 853.5 L1423.9 853.5 L1425.2 853.5 L1426.5 853.5 L1427.8 853.5 L1429.1 853.5 L1430.4 853.5 L1431.7 853.5 L1432.9 853.5 L1434.2 853.5 L1435.5 853.5 L1436.8 853.5 L1438.1 853.5 L1439.4 853.5 L1440.7 853.5 L1442.0 853.5 L1443.3 853.5 L1444.5 853.5 L1445.8 853.5 L1447.1 853.5 L1448.4 853.5 L1449.7 853.5 L1451.0 853.5 L1452.3 853.5 L1453.6 853.5 L1454.9 853.5 L1456.1 853.5 L1457.4 853.5 L1458.7 853.5 L1460.0 853.5 L1461.3 853.5 L1462.6 853.5 L1463.9 853.5 L1465.2 853.5 L1466.5 853.5 L1467.8 853.5 L1469.0 853.5 L1470.3 853.5 L1471.6 853.5 L1472.9 853.5 L1474.2 853.5 L1475.5 853.5 L1476.8 853.5 L1478.1 853.5 L1479.4 853.5 L1480.6 853.5 L1481.9 853.5 L1483.2 853.5 L1484.5 853.5 L1485.8 853.5 L1487.1 853.5 L1488.4 853.5 L1489.7 853.5 L1491.0 853.5 L1492.2 853.5 L1493.5 853.5 L1494.8 853.5 L1496.1 853.5 L1497.4 853.5 L1498.7 853.5 L1500.0 853.5 L1501.3 853.5 L1502.6 853.5 L1503.9 853.5 L1505.1 853.5 L1506.4 853.5 L1507.7 853.5 L1509.0 853.5 L1510.3 853.5 L1511.6 853.5 L1512.9 853.5 L1514.2 853.5 L1515.5 853.5 L1516.7 853.5 L1518.0 853.5 L1519.3 853.5 L1520.6 853.5 L1521.9 853.5 L1523.2 853.5 L1524.5 853.5 L1525.8 853.5 L1527.1 853.5 L1528.3 853.5 L1529.6 853.5 L1530.9 853.5 L1532.2 853.5 L1533.5 853.5 L1534.8 853.5 L1536.1 853.5 L1537.4 853.5 L1538.7 853.5 L1540.0 853.5 L1541.2 853.5 L1542.5 853.5 L1543.8 853.5 L1545.1 853.5 L1546.4 853.5 L1547.7 853.5 L1549.0 853.5 L1550.3 853.5 L1551.6 853.5 L1552.8 853.5 L1554.1 853.5 L1555.4 853.5 L1556.7 853.5 L1558.0 853.5 L1559.3 853.5 L1560.6 853.5 L1561.9 853.5 L1563.2 853.5 L1564.4 853.5 L1565.7 853.5 L1567.0 853.5 L1568.3 853.5 L1569.6 853.5 L1570.9 853.5 L1572.2 853.5 L1573.5 853.5 L1574.8 853.5 L1576.1 853.5 L1577.3 853.5 L1578.6 853.5 L1579.9 853.5 L1581.2 853.5 L1582.5 853.5 L1583.1 853.5 L1583.8 854.6 L1585.1 856.8 L1586.4 858.9 L1587.7 861.1 L1588.9 863.2 L1590.2 865.2 L1591.5 867.3 L1592.8 869.3 L1594.1 871.3 L1595.4 873.2 L1596.7 875.1 L1598.0 877.0 L1599.3 878.9 L1600.6 880.8 L1601.8 882.6 L1603.1 884.4 L1604.4 886.1 L1605.7 887.9 L1607.0 889.6 L1608.3 891.3 L1609.6 893.0 L1610.9 894.6 L1612.2 896.2 L1613.4 897.8 L1614.7 899.4 L1616.0 901.0 L1617.3 902.5 L1618.6 904.0 L1619.9 905.5 L1621.2 907.0 L1622.5 908.4 L1623.8 909.8 L1625.0 911.3 L1626.3 912.6 L1627.6 914.0 L1628.9 915.4 L1630.2 916.7 L1631.5 918.0 L1632.8 919.3 L1634.1 920.6 L1635.4 921.8 L1636.7 923.1 L1637.9 924.3 L1639.2 925.5 L1640.5 926.7 L1641.8 927.8 L1643.1 929.0 L1644.4 930.1 L1645.7 931.2 L1647.0 932.3 L1648.3 933.4 L1649.5 934.5 L1650.8 935.6 L1652.1 936.6 L1653.4 937.6 L1654.7 938.6 L1656.0 939.6 L1657.3 940.6 L1658.6 941.6 L1659.9 942.5 L1661.1 943.5 L1662.4 944.4 L1663.7 945.3 L1665.0 946.2 L1666.3 947.1 L1667.6 948.0 L1668.9 948.9 L1670.2 949.7 L1671.5 950.6 L1672.8 951.4 L1674.0 952.2 L1675.3 953.0 L1676.6 953.8 L1677.9 954.6 L1679.2 955.4 L1680.5 956.1 L1681.8 956.9 L1683.1 957.6 L1684.4 958.4 L1685.6 959.1 L1686.9 959.8 L1688.2 960.5 L1689.5 961.2 L1690.8 961.9 L1692.1 962.5 L1693.4 963.2 L1694.7 963.8 L1696.0 964.5 L1697.2 965.1 L1698.5 965.7 L1699.8 966.3 L1701.1 966.9 L1702.4 967.5 L1703.7 968.1 L1705.0 968.7 L1706.3 969.3 L1707.6 969.8 L1708.9 970.4 L1710.1 971.0 L1711.4 971.5 L1712.7 972.0 L1714.0 972.6 L1715.3 973.1 L1716.6 973.6 L1717.9 974.1 L1719.2 974.6 L1720.5 975.1 L1721.7 975.5 L1723.0 976.0 L1724.3 976.5 L1725.6 977.0 L1726.9 977.4 L1728.2 977.9 L1729.5 978.3 L1730.8 978.7 L1732.1 979.2 L1733.3 979.6 L1734.6 980.0 L1735.9 980.4 L1737.2 980.8 L1738.5 981.2 L1739.8 981.6 L1741.1 982.0 L1742.4 982.4 L1743.7 982.8 L1745.0 983.1 L1746.2 983.5 L1747.5 983.9 L1748.8 984.2 L1750.1 984.6 L1751.4 984.9 L1752.7 985.3 L1754.0 985.6 L1755.3 985.9 L1756.6 986.3 L1757.8 986.6 L1759.1 986.9 L1760.4 987.2 L1761.7 987.5 L1763.0 987.8 L1764.3 988.1 L1765.6 988.4 L1766.9 988.7 L1768.2 989.0 L1769.4 989.3 L1770.7 989.6 L1772.0 989.9 L1773.3 990.1 L1774.6 990.4 L1775.9 990.7 L1777.2 990.9 L1778.5 991.2 L1779.8 991.4 L1781.1 991.7 L1782.3 991.9 L1783.6 992.2 L1784.9 992.4 L1786.2 992.6 L1787.5 992.9 L1788.8 993.1 L1790.1 993.3 L1791.4 993.6 L1792.7 993.8 L1793.9 994.0 L1795.2 994.2 L1796.5 994.4 L1797.8 994.6 L1799.1 994.8 L1800.4 995.0 L1801.7 995.2 L1803.0 995.4 L1804.3 995.6 L1805.5 995.8 L1806.8 996.0 L1808.1 996.2 L1809.4 996.4 L1810.7 996.5 L1812.0 996.7 L1813.3 996.9 L1814.6 997.1 L1815.9 997.2 L1817.2 997.4 L1818.4 997.6 L1819.7 997.7 L1821.0 997.9 L1822.3 998.1 L1823.6 998.2 L1824.9 998.4 L1826.2 998.5 L1827.5 998.7 L1828.8 998.8 L1830.0 999.0 L1831.3 999.1 L1832.6 999.2 L1833.9 999.4 L1835.2 999.5 L1836.5 999.7 L1837.8 999.8 L1839.1 999.9 L1840.4 1000.0 L1841.6 1002.1 L1842.9 1004.1 L1844.2 1006.0 L1845.5 1008.0 L1846.8 1009.9 L1848.1 1011.8 L1849.4 1013.6 L1850.7 1015.5 L1852.0 1017.3 L1853.3 1019.1 L1854.5 1020.9 L1855.8 1022.6 L1857.1 1024.4 L1858.4 1026.1 L1859.7 1027.8 L1861.0 1029.5 L1862.3 1031.1 L1863.6 1032.7 L1864.9 1034.4 L1866.1 1035.9 L1867.4 1037.5 L1868.7 1039.1 L1870.0 1040.6 L1871.3 1042.1 L1872.6 1043.6 L1873.9 1045.1 L1875.2 1046.5 L1876.5 1048.0 L1877.7 1049.4 L1879.0 1050.8 L1880.3 1052.2 L1881.6 1053.5 L1882.9 1054.9 L1884.2 1056.2 L1885.5 1057.5 L1886.8 1058.9 L1888.1 1060.1 L1889.4 1061.4 L1890.6 1062.7 L1891.9 1063.9 L1893.2 1065.1 L1894.5 1066.3 L1895.8 1067.5 L1897.1 1068.7 L1898.4 1069.9 L1899.7 1071.0 L1901.0 1072.1 L1902.2 1073.3 L1903.5 1074.4 L1904.8 1075.5 L1906.1 1076.5 L1907.4 1077.6 L1908.7 1078.7 L1910.0 1079.7 L1911.3 1080.7 L1912.6 1081.7 L1913.9 1082.7 L1915.1 1083.7 L1916.4 1084.7 L1917.7 1085.7 L1919.0 1086.6 L1920.3 1087.6 L1921.6 1088.5 L1922.9 1089.4 L1924.2 1090.3 L1925.5 1091.2 L1926.7 1092.1 L1928.0 1093.0 L1929.3 1093.8 L1930.6 1094.7 L1931.9 1095.5 L1933.2 1096.3 L1934.5 1097.2 L1935.8 1098.0 L1937.1 1098.8 L1938.3 1099.6 L1939.6 1100.3 L1940.9 1101.1 L1942.2 1101.9 L1943.5 1102.6 L1944.8 1103.4 L1946.1 1104.1 L1947.4 1104.8 L1948.7 1105.5 L1950.0 1106.2 L1951.2 1106.9 L1952.5 1107.6 L1953.8 1108.3 L1955.1 1109.0 L1956.4 1109.6 L1957.7 1110.3 L1959.0 1110.9 L1960.3 1111.6 L1961.6 1112.2 L1962.8 1112.8 L1964.1 1113.4 L1965.4 1114.1 L1966.7 1114.7 L1968.0 1115.2 L1969.3 1115.8 L1970.6 1116.4 L1971.9 1117.0 L1973.2 1117.5 L1974.4 1118.1 L1975.7 1118.6 L1977.0 1119.2 L1978.3 1119.7 L1979.6 1120.3 L1980.9 1120.8 L1982.2 1121.3 L1983.5 1121.8 L1984.8 1122.3 L1986.1 1122.8 L1987.3 1123.3 L1988.6 1123.8 L1989.9 1124.3 L1991.2 1124.7 L1992.5 1125.2 L1993.8 1125.7 L1995.1 1126.1 L1996.4 1126.6 L1997.7 1127.0 L1998.9 1127.5 L2000.2 1127.9 L2001.5 1128.3 L2002.8 1128.7 L2004.1 1129.2 L2005.4 1129.6 L2006.7 1130.0 L2008.0 1130.4 L2009.3 1130.8 L2010.5 1131.2 L2011.8 1131.5 L2013.1 1131.9 L2014.4 1132.3 L2015.7 1132.7 L2017.0 1133.0 L2018.3 1133.4 L2019.6 1133.8 L2020.9 1134.1 L2022.2 1134.5 L2023.4 1134.8 L2024.7 1135.2 L2026.0 1135.5 L2027.3 1135.8 L2028.6 1136.2 L2029.9 1136.5 L2031.2 1136.8 L2032.5 1137.1 L2033.8 1137.4 L2035.0 1137.7 L2036.3 1138.1 L2037.6 1138.4 L2038.9 1138.7 L2040.2 1138.9 L2041.5 1139.2 L2042.8 1139.5 L2044.1 1139.8 L2045.4 1140.1 L2046.6 1140.4 L2047.9 1140.6 L2049.2 1140.9 L2050.5 1141.2 L2051.8 1141.4 L2053.1 1141.7 L2054.4 1142.0 L2055.7 1142.2 L2057.0 1142.5 L2058.3 1142.7 L2059.5 1142.9 L2060.8 1143.2 L2062.1 1143.4 L2063.4 1143.7 L2064.7 1143.9 L2066.0 1144.1 L2067.3 1144.3 L2068.6 1144.6 L2069.9 1144.8 L2071.1 1145.0 L2072.4 1145.2 L2073.7 1145.4 L2075.0 1145.6 L2076.3 1145.9 L2077.6 1146.1 L2078.9 1146.3 L2080.2 1146.5 L2081.5 1146.7 L2082.7 1146.9 L2084.0 1147.0 L2085.3 1147.2 L2086.6 1147.4 L2087.9 1147.6 L2089.2 1147.8 L2090.5 1148.0 L2091.8 1148.1 L2093.1 1148.3 L2094.4 1148.5 L2095.6 1148.7 L2096.9 1148.8 L2098.2 1149.0" fill="none" stroke="#050505" stroke-width="9.00" stroke-linejoin="round" />
</g>
<text x="292.7" y="1243.1" font-size="65.5" text-anchor="middle" fill="#262626"  textLength="31.5" lengthAdjust="spacingAndGlyphs">0</text>
<text x="550.6" y="1243.1" font-size="65.5" text-anchor="middle" fill="#262626"  textLength="63.0" lengthAdjust="spacingAndGlyphs">20</text>
<text x="808.4" y="1243.1" font-size="65.5" text-anchor="middle" fill="#262626"  textLength="63.0" lengthAdjust="spacingAndGlyphs">40</text>
<text x="1066.3" y="1243.1" font-size="65.5" text-anchor="middle" fill="#262626"  textLength="63.0" lengthAdjust="spacingAndGlyphs">60</text>
<text x="1324.1" y="1243.1" font-size="65.5" text-anchor="middle" fill="#262626"  textLength="63.0" lengthAdjust="spacingAndGlyphs">80</text>
<text x="1582.0" y="1243.1" font-size="65.5" text-anchor="middle" fill="#262626"  textLength="94.5" lengthAdjust="spacingAndGlyphs">100</text>
<text x="1839.9" y="1243.1" font-size="65.5" text-anchor="middle" fill="#262626"  textLength="94.5" lengthAdjust="spacingAndGlyphs">120</text>
<text x="2097.7" y="1243.1" font-size="65.5" text-anchor="middle" fill="#262626"  textLength="94.5" lengthAdjust="spacingAndGlyphs">140</text>
<text x="275.0" y="1179.9" font-size="65.5" text-anchor="end" fill="#262626"  textLength="110.3" lengthAdjust="spacingAndGlyphs">0.80</text>
<text x="275.0" y="1022.0" font-size="65.5" text-anchor="end" fill="#262626"  textLength="110.3" lengthAdjust="spacingAndGlyphs">1.00</text>
<text x="275.0" y="864.0" font-size="65.5" text-anchor="end" fill="#262626"  textLength="110.3" lengthAdjust="spacingAndGlyphs">1.20</text>
<rect x="461.7" y="721.6" width="343.8" height="198.7" fill="#fff"/>
<clipPath id="ci2"><rect x="459.4" y="719.3" width="348.4" height="203.3"/></clipPath>
<g stroke="#2a221a" stroke-opacity="0.235" stroke-width="5.0">
<line x1="492.5" y1="721.6" x2="492.5" y2="920.3"/>
<line x1="643.1" y1="721.6" x2="643.1" y2="920.3"/>
<line x1="793.7" y1="721.6" x2="793.7" y2="920.3"/>
<line x1="461.7" y1="743.5" x2="805.5" y2="743.5"/>
<line x1="461.7" y1="809.5" x2="805.5" y2="809.5"/>
<line x1="461.7" y1="875.5" x2="805.5" y2="875.5"/>
</g>
<g stroke="#262626" stroke-width="4.6" fill="none">
<rect x="461.7" y="721.6" width="343.8" height="198.7"/>
<line x1="492.5" y1="721.6" x2="492.5" y2="728.6"/>
<line x1="492.5" y1="920.3" x2="492.5" y2="913.3"/>
<line x1="643.1" y1="721.6" x2="643.1" y2="728.6"/>
<line x1="643.1" y1="920.3" x2="643.1" y2="913.3"/>
<line x1="793.7" y1="721.6" x2="793.7" y2="728.6"/>
<line x1="793.7" y1="920.3" x2="793.7" y2="913.3"/>
<line x1="461.7" y1="743.5" x2="468.7" y2="743.5"/>
<line x1="805.5" y1="743.5" x2="798.5" y2="743.5"/>
<line x1="461.7" y1="809.5" x2="468.7" y2="809.5"/>
<line x1="805.5" y1="809.5" x2="798.5" y2="809.5"/>
<line x1="461.7" y1="875.5" x2="468.7" y2="875.5"/>
<line x1="805.5" y1="875.5" x2="798.5" y2="875.5"/>
</g>
<g clip-path="url(#ci2)">
<path d="M460.0 916.0 L461.7 915.9 L463.5 915.7 L465.2 915.6 L467.0 915.5 L468.7 915.3 L470.4 915.2 L472.2 915.1 L473.9 915.0 L475.6 914.8 L477.4 914.7 L479.1 914.6 L480.9 914.4 L482.6 914.3 L484.3 914.1 L486.1 914.0 L487.8 913.9 L489.6 913.7 L491.3 913.6 L493.0 913.4 L494.5 913.3 L494.8 912.9 L496.5 910.7 L498.3 908.5 L500.0 906.3 L501.7 904.0 L503.5 901.8 L505.2 899.6 L506.9 897.3 L508.7 895.1 L510.4 892.8 L512.2 890.6 L513.9 888.4 L515.6 886.1 L517.4 883.9 L519.1 881.6 L520.9 879.4 L522.6 877.1 L524.3 874.9 L526.1 872.6 L527.8 870.3 L529.5 868.1 L531.3 865.8 L533.0 863.5 L534.8 861.2 L536.5 858.9 L538.2 856.6 L540.0 854.3 L541.7 852.1 L543.5 849.8 L545.2 847.6 L546.9 845.3 L548.7 843.2 L550.4 841.0 L552.2 838.8 L553.9 836.6 L555.6 834.4 L557.4 832.3 L559.1 830.2 L560.8 828.0 L562.6 826.0 L564.3 823.9 L566.1 821.9 L567.8 819.9 L569.5 817.9 L571.3 816.0 L573.0 814.0 L574.8 812.2 L576.5 810.3 L578.2 808.4 L580.0 806.6 L581.7 804.8 L583.4 803.0 L585.2 801.3 L586.9 799.5 L588.7 797.8 L590.4 796.1 L592.1 794.4 L593.9 792.8 L595.6 791.1 L597.4 789.5 L599.1 787.8 L600.8 786.2 L602.6 784.7 L604.3 783.1 L606.1 781.6 L607.8 780.1 L609.5 778.7 L611.3 777.3 L613.0 775.9 L614.7 774.5 L616.5 773.2 L618.2 771.9 L620.0 770.6 L621.7 769.3 L623.4 768.1 L625.2 766.9 L626.9 765.7 L628.7 764.6 L630.4 763.5 L632.1 762.4 L633.9 761.4 L635.6 760.4 L637.3 759.5 L639.1 758.5 L640.8 757.6 L642.6 756.8 L644.3 755.9 L646.0 755.1 L647.8 754.3 L649.5 753.5 L651.3 752.7 L653.0 752.0 L654.7 751.3 L656.5 750.6 L658.2 749.9 L659.9 749.3 L661.7 748.6 L663.4 748.0 L665.2 747.4 L666.9 746.8 L668.6 746.2 L670.4 745.7 L672.1 745.2 L673.9 744.6 L675.6 744.1 L677.3 743.7 L679.1 743.2 L680.8 742.7 L682.6 742.3 L684.3 741.8 L686.0 741.4 L687.8 741.0 L689.5 740.6 L691.2 740.2 L693.0 739.9 L694.7 739.6 L696.5 739.2 L698.2 738.9 L699.9 738.6 L701.7 738.3 L703.4 738.0 L705.2 737.8 L706.9 737.5 L708.6 737.2 L710.4 737.0 L712.1 736.8 L713.8 736.6 L715.6 736.3 L717.3 736.2 L719.1 736.0 L720.8 735.8 L722.5 735.6 L724.3 735.4 L726.0 735.2 L727.8 735.0 L729.5 734.8 L731.2 734.7 L733.0 734.6 L734.7 734.4 L736.5 734.3 L738.2 734.3 L739.9 734.2 L741.7 734.2 L743.4 734.1 L745.1 734.1 L746.9 734.1 L748.6 734.0 L750.4 734.0 L752.1 734.0 L753.8 733.9 L755.6 733.9 L757.3 733.9 L759.1 733.9 L760.8 733.9 L762.5 733.8 L764.3 733.8 L766.0 733.8 L767.7 733.8 L769.5 733.8 L771.2 733.8 L773.0 733.8 L774.7 733.8 L776.4 733.8 L778.2 733.8 L779.9 733.8 L781.7 733.8 L783.4 733.7 L785.1 733.7 L786.9 733.7 L788.6 733.7 L790.4 733.7 L792.1 733.7 L793.8 733.7 L795.6 733.7 L797.3 733.7 L799.0 733.7 L800.8 733.7 L802.5 733.7 L804.3 733.7 L806.0 733.7" fill="none" stroke="#808080" stroke-width="9.00" stroke-linejoin="round" />
<path d="M447.3 912.5 L448.8 912.5 L450.3 912.5 L451.8 912.5 L453.3 912.5 L454.9 912.5 L456.4 912.5 L457.9 912.5 L459.4 912.5 L460.9 912.4 L462.4 912.3 L463.9 912.1 L465.4 912.0 L466.9 911.8 L468.4 911.7 L469.9 911.5 L471.4 911.4 L472.9 911.2 L474.4 911.1 L475.9 910.9 L477.4 910.8 L478.9 910.6 L480.5 910.5 L482.0 910.3 L483.5 910.1 L485.0 910.0 L486.5 909.8 L488.0 909.7 L489.5 909.5 L491.0 909.3 L491.4 909.3 L492.5 908.0 L494.0 906.1 L495.5 904.2 L497.0 902.4 L498.5 900.5 L500.0 898.7 L501.5 896.8 L503.0 894.9 L504.5 893.0 L506.1 891.1 L507.6 889.3 L509.1 887.4 L510.6 885.5 L512.1 883.6 L513.6 881.7 L515.1 879.8 L516.6 877.8 L518.1 875.9 L519.6 874.0 L521.1 872.1 L522.6 870.2 L524.1 868.2 L525.6 866.3 L527.1 864.3 L528.6 862.4 L530.1 860.4 L531.7 858.4 L533.2 856.4 L534.7 854.5 L536.2 852.5 L537.7 850.5 L539.2 848.5 L540.7 846.5 L542.2 844.6 L543.7 842.7 L545.2 840.7 L546.7 838.8 L548.2 836.9 L549.7 835.0 L551.2 833.1 L552.7 831.2 L554.2 829.4 L555.8 827.5 L557.3 825.6 L558.8 823.8 L560.3 821.9 L561.8 820.1 L563.3 818.3 L564.8 816.5 L566.3 814.6 L567.8 812.8 L569.3 811.0 L570.8 809.2 L572.3 807.4 L573.8 805.7 L575.3 803.9 L576.8 802.1 L578.3 800.4 L579.8 798.6 L581.4 796.9 L582.9 795.3 L584.4 793.6 L585.9 792.0 L587.4 790.4 L588.9 788.8 L590.4 787.3 L591.9 785.8 L593.4 784.3 L594.9 782.8 L596.4 781.3 L597.9 779.9 L599.4 778.4 L600.9 777.0 L602.4 775.7 L603.9 774.3 L605.5 773.0 L607.0 771.7 L608.5 770.4 L610.0 769.2 L611.5 767.9 L613.0 766.7 L614.5 765.4 L616.0 764.2 L617.5 763.0 L619.0 761.9 L620.5 760.7 L622.0 759.6 L623.5 758.6 L625.0 757.5 L626.5 756.5 L628.0 755.6 L629.5 754.7 L631.1 753.8 L632.6 752.9 L634.1 752.1 L635.6 751.3 L637.1 750.5 L638.6 749.8 L640.1 749.0 L641.6 748.3 L643.1 747.6 L644.6 746.9 L646.1 746.3 L647.6 745.6 L649.1 745.0 L650.6 744.3 L652.1 743.7 L653.6 743.1 L655.1 742.6 L656.7 742.0 L658.2 741.4 L659.7 740.9 L661.2 740.3 L662.7 739.8 L664.2 739.3 L665.7 738.8 L667.2 738.4 L668.7 737.9 L670.2 737.4 L671.7 737.0 L673.2 736.5 L674.7 736.1 L676.2 735.7 L677.7 735.2 L679.2 734.8 L680.8 734.4 L682.3 734.0 L683.8 733.6 L685.3 733.2 L686.8 732.9 L688.3 732.6 L689.8 732.3 L691.3 732.1 L692.8 731.9 L694.3 731.7 L695.8 731.5 L697.3 731.3 L698.8 731.1 L700.3 731.0 L701.8 730.8 L703.3 730.7 L704.8 730.6 L706.4 730.5 L707.9 730.5 L709.4 730.5 L710.9 730.5 L712.4 730.5 L713.9 730.6 L715.4 730.6 L716.9 730.7 L718.4 730.7 L719.9 730.8 L721.4 730.9 L722.9 730.9 L724.4 731.1 L725.9 731.2 L727.4 731.3 L728.9 731.5 L730.4 731.7 L732.0 731.8 L733.5 732.0 L735.0 732.1 L736.5 732.2 L738.0 732.4 L739.5 732.5 L741.0 732.7 L742.5 732.8 L744.0 732.9 L745.5 733.1 L747.0 733.2 L748.5 733.3 L750.0 733.4 L751.5 733.5 L753.0 733.6 L754.5 733.6 L756.0 733.6 L757.6 733.6 L759.1 733.6 L760.6 733.7 L762.1 733.7 L763.6 733.7 L765.1 733.7 L766.6 733.7 L768.1 733.7 L769.6 733.7 L771.1 733.7 L772.6 733.7 L774.1 733.7 L775.6 733.7 L777.1 733.7 L778.6 733.7 L780.1 733.7 L781.7 733.7 L783.2 733.7 L784.7 733.7 L786.2 733.7 L787.7 733.7 L789.2 733.7 L790.7 733.7 L792.2 733.7 L793.7 733.7 L795.2 733.7 L796.7 733.7 L798.2 733.7 L799.7 733.7 L801.2 733.7 L802.7 733.7 L804.2 733.7 L805.7 733.7 L807.3 733.7 L808.8 733.7 L810.3 733.7 L811.8 733.7 L813.3 733.7 L814.8 733.7 L816.3 733.7 L817.8 733.7 L819.3 733.7 L820.8 733.7 L822.3 733.7 L823.8 733.7" fill="none" stroke="#050505" stroke-width="9.00" stroke-linejoin="round" />
</g>
<text x="493.0" y="993.0" font-size="65.5" text-anchor="middle" fill="#262626"  textLength="63.0" lengthAdjust="spacingAndGlyphs">60</text>
<text x="641.6" y="993.0" font-size="65.5" text-anchor="middle" fill="#262626"  textLength="63.0" lengthAdjust="spacingAndGlyphs">61</text>
<text x="792.2" y="993.0" font-size="65.5" text-anchor="middle" fill="#262626"  textLength="63.0" lengthAdjust="spacingAndGlyphs">62</text>
<text x="443.0" y="753.3" font-size="65.5" text-anchor="end" fill="#262626"  textLength="110.3" lengthAdjust="spacingAndGlyphs">1.21</text>
<text x="443.0" y="819.3" font-size="65.5" text-anchor="end" fill="#262626"  textLength="110.3" lengthAdjust="spacingAndGlyphs">1.20</text>
<text x="443.0" y="885.3" font-size="65.5" text-anchor="end" fill="#262626"  textLength="110.3" lengthAdjust="spacingAndGlyphs">1.19</text>
<g stroke="#050505" stroke-width="4.9" fill="none">
<ellipse cx="1077.8" cy="862" rx="31.8" ry="26.6"/>
<line x1="806" y1="720" x2="1096" y2="837.2"/>
<line x1="806" y1="920.4" x2="1090" y2="888.2"/>
</g>
<g transform="translate(94,1046) rotate(-90)" fill="#262626">
<text x="0" y="0" font-size="70.4" font-style="italic">ω</text>
<text x="44" y="33" font-size="56" font-style="italic">g</text>
<text x="92.3" y="0" font-size="70.4" textLength="127" lengthAdjust="spacingAndGlyphs">[pu]</text>
</g>
<g stroke="#2a221a" stroke-opacity="0.235" stroke-width="5.0">
<line x1="551.1" y1="1365.8" x2="551.1" y2="1796.6"/>
<line x1="808.9" y1="1365.8" x2="808.9" y2="1796.6"/>
<line x1="1066.8" y1="1365.8" x2="1066.8" y2="1796.6"/>
<line x1="1324.6" y1="1365.8" x2="1324.6" y2="1796.6"/>
<line x1="1582.5" y1="1365.8" x2="1582.5" y2="1796.6"/>
<line x1="1840.4" y1="1365.8" x2="1840.4" y2="1796.6"/>
<line x1="293.6" y1="1581.2" x2="2098.5" y2="1581.2"/>
</g>
<g stroke="#262626" stroke-width="5.0" fill="none">
<rect x="293.6" y="1365.8" width="1804.9" height="430.8"/>
<line x1="551.1" y1="1365.8" x2="551.1" y2="1386.4"/>
<line x1="551.1" y1="1796.6" x2="551.1" y2="1776.0"/>
<line x1="808.9" y1="1365.8" x2="808.9" y2="1386.4"/>
<line x1="808.9" y1="1796.6" x2="808.9" y2="1776.0"/>
<line x1="1066.8" y1="1365.8" x2="1066.8" y2="1386.4"/>
<line x1="1066.8" y1="1796.6" x2="1066.8" y2="1776.0"/>
<line x1="1324.6" y1="1365.8" x2="1324.6" y2="1386.4"/>
<line x1="1324.6" y1="1796.6" x2="1324.6" y2="1776.0"/>
<line x1="1582.5" y1="1365.8" x2="1582.5" y2="1386.4"/>
<line x1="1582.5" y1="1796.6" x2="1582.5" y2="1776.0"/>
<line x1="1840.4" y1="1365.8" x2="1840.4" y2="1386.4"/>
<line x1="1840.4" y1="1796.6" x2="1840.4" y2="1776.0"/>
<line x1="293.6" y1="1581.2" x2="314.2" y2="1581.2"/>
<line x1="2098.5" y1="1581.2" x2="2077.9" y2="1581.2"/>
</g>
<clipPath id="c3"><rect x="291.6" y="1365.8" width="1809.4" height="435.8"/></clipPath>
<g clip-path="url(#c3)">
<path d="M294.5 1796.6 L300.9 1796.6 L307.4 1796.6 L313.8 1796.6 L320.3 1796.6 L326.7 1796.6 L333.2 1796.6 L339.6 1796.6 L346.1 1796.6 L352.5 1796.6 L359.0 1796.6 L365.4 1796.6 L371.9 1796.6 L378.3 1796.6 L384.8 1796.6 L391.2 1796.6 L397.6 1796.6 L404.1 1796.6 L410.5 1796.6 L417.0 1796.6 L423.4 1796.6 L429.9 1796.6 L436.3 1796.6 L442.8 1796.6 L449.2 1796.6 L455.7 1796.6 L462.1 1796.6 L468.6 1796.6 L475.0 1796.6 L481.4 1796.6 L487.9 1796.6 L494.3 1796.6 L500.8 1796.6 L507.2 1796.6 L513.7 1796.6 L520.1 1796.6 L526.6 1796.6 L533.0 1796.6 L539.5 1796.6 L545.9 1796.6 L552.4 1796.6 L558.8 1796.6 L565.3 1796.6 L571.7 1796.6 L578.1 1796.6 L584.6 1796.6 L591.0 1796.6 L597.5 1796.6 L603.9 1796.6 L610.4 1796.6 L616.8 1796.6 L623.3 1796.6 L629.7 1796.6 L636.2 1796.6 L642.6 1796.6 L649.1 1796.6 L655.5 1796.6 L662.0 1796.6 L668.4 1796.6 L674.8 1796.6 L681.3 1796.6 L687.7 1796.6 L694.2 1796.6 L700.6 1796.6 L707.1 1796.6 L713.5 1796.6 L720.0 1796.6 L726.4 1796.6 L732.9 1796.6 L739.3 1796.6 L745.8 1796.6 L752.2 1796.6 L758.6 1796.6 L765.1 1796.6 L771.5 1796.6 L778.0 1796.6 L784.4 1796.6 L790.9 1796.6 L797.3 1796.6 L803.8 1796.6 L810.2 1796.6 L816.7 1796.6 L823.1 1796.6 L829.6 1796.6 L836.0 1796.6 L842.5 1796.6 L848.9 1796.6 L855.3 1796.6 L861.8 1796.6 L868.2 1796.6 L874.7 1796.6 L881.1 1796.6 L887.6 1796.6 L894.0 1796.6 L900.5 1796.6 L906.9 1796.6 L913.4 1796.6 L919.8 1796.6 L926.3 1796.6 L932.7 1796.6 L939.2 1796.6 L945.6 1796.6 L952.0 1796.6 L958.5 1796.6 L964.9 1796.6 L971.4 1796.6 L977.8 1796.6 L984.3 1796.6 L990.7 1796.6 L997.2 1796.6 L1003.6 1796.6 L1010.1 1796.6 L1016.5 1796.6 L1023.0 1796.6 L1029.4 1796.6 L1035.8 1796.6 L1042.3 1796.6 L1048.7 1796.6 L1055.2 1796.6 L1061.6 1796.6 L1068.1 1796.6 L1074.5 1796.6 L1079.7 1796.6 L1079.7 1796.6 L1079.8 1796.6 L1079.9 1796.6 L1079.9 1796.6 L1080.0 1796.6 L1080.1 1796.6 L1080.1 1796.6 L1080.2 1796.6 L1080.3 1796.6 L1080.3 1796.6 L1080.4 1796.6 L1080.5 1796.6 L1080.5 1796.6 L1080.6 1796.6 L1080.7 1796.6 L1080.7 1796.6 L1080.8 1796.6 L1080.8 1796.6 L1080.9 1796.6 L1081.0 1796.6 L1081.0 1796.6 L1081.1 1796.6 L1081.2 1796.6 L1081.2 1796.6 L1081.3 1796.6 L1081.4 1796.6 L1081.4 1796.6 L1081.5 1796.6 L1081.6 1796.6 L1081.6 1796.6 L1081.7 1796.6 L1081.7 1796.6 L1081.8 1796.6 L1081.9 1796.6 L1081.9 1796.6 L1082.0 1796.6 L1082.1 1796.6 L1082.1 1796.6 L1082.2 1796.6 L1082.3 1796.6 L1082.3 1796.6 L1082.4 1796.6 L1082.4 1796.6 L1082.5 1796.6 L1082.5 1796.6 L1082.6 1796.6 L1082.6 1796.6 L1082.7 1796.6 L1082.8 1796.6 L1082.8 1796.6 L1082.9 1796.6 L1083.0 1796.6 L1083.0 1796.6 L1083.1 1796.6 L1083.2 1796.6 L1083.2 1796.6 L1083.3 1796.6 L1083.4 1796.6 L1083.4 1796.6 L1083.5 1796.6 L1083.6 1796.6 L1083.6 1796.6 L1083.7 1796.6 L1083.7 1796.6 L1083.8 1796.6 L1083.9 1796.6 L1083.9 1794.3 L1084.0 1790.0 L1084.1 1785.7 L1084.1 1781.4 L1084.2 1777.1 L1084.3 1772.8 L1084.3 1768.5 L1084.4 1764.2 L1084.5 1759.9 L1084.5 1755.5 L1084.6 1751.2 L1084.6 1746.9 L1084.7 1742.6 L1084.8 1738.3 L1084.8 1734.0 L1084.9 1729.7 L1085.0 1725.4 L1085.0 1721.1 L1085.1 1716.8 L1085.2 1712.5 L1085.2 1708.2 L1085.3 1703.9 L1085.4 1699.5 L1085.4 1695.2 L1085.5 1690.9 L1085.6 1686.6 L1085.6 1682.3 L1085.7 1678.0 L1085.7 1673.7 L1085.8 1669.4 L1085.9 1665.1 L1085.9 1660.8 L1086.0 1656.5 L1086.1 1652.2 L1086.1 1647.8 L1086.2 1643.5 L1086.3 1639.2 L1086.3 1634.9 L1086.4 1630.6 L1086.5 1626.3 L1086.5 1622.0 L1086.6 1617.7 L1086.6 1613.4 L1086.7 1609.1 L1086.8 1604.8 L1086.8 1600.5 L1086.9 1596.2 L1087.0 1591.8 L1087.0 1587.5 L1087.1 1583.2 L1087.2 1578.9 L1087.2 1574.6 L1087.3 1570.3 L1087.4 1566.0 L1087.4 1561.7 L1087.5 1557.4 L1087.5 1553.1 L1087.6 1548.8 L1087.7 1544.5 L1087.7 1540.1 L1087.8 1535.8 L1087.9 1531.5 L1087.9 1527.2 L1088.0 1522.9 L1088.1 1518.6 L1088.1 1514.3 L1088.2 1510.0 L1088.3 1505.7 L1088.3 1501.4 L1088.4 1497.1 L1088.5 1492.8 L1088.5 1488.5 L1088.6 1484.1 L1088.6 1479.8 L1088.7 1475.5 L1088.8 1471.2 L1088.8 1466.9 L1088.9 1462.6 L1089.0 1458.3 L1089.0 1454.0 L1089.1 1449.7 L1089.2 1445.4 L1089.2 1441.1 L1089.3 1436.8 L1089.3 1434.2 L1089.4 1434.7 L1089.4 1436.0 L1089.5 1437.3 L1089.5 1438.5 L1089.6 1439.7 L1089.7 1440.9 L1089.7 1442.0 L1089.8 1443.0 L1089.9 1444.0 L1089.9 1445.0 L1090.0 1445.9 L1090.1 1446.8 L1090.1 1447.7 L1090.2 1448.5 L1090.3 1449.3 L1090.3 1450.1 L1090.4 1450.8 L1090.4 1451.5 L1090.5 1452.2 L1090.6 1452.8 L1090.6 1453.5 L1090.7 1454.1 L1090.8 1454.6 L1090.8 1455.2 L1090.9 1455.7 L1091.0 1456.3 L1091.0 1456.8 L1091.1 1457.2 L1091.2 1457.7 L1091.2 1458.1 L1091.3 1458.6 L1091.4 1459.0 L1091.4 1459.3 L1091.5 1459.7 L1091.5 1460.1 L1091.6 1460.4 L1091.7 1460.8 L1091.7 1461.1 L1091.8 1461.4 L1091.9 1461.7 L1091.9 1462.0 L1092.0 1462.3 L1092.1 1462.5 L1092.1 1462.8 L1092.2 1463.0 L1092.3 1463.3 L1092.3 1463.5 L1092.4 1463.7 L1092.4 1463.9 L1092.5 1464.1 L1092.6 1464.3 L1092.6 1464.5 L1092.7 1464.7 L1092.8 1464.8 L1092.8 1465.0 L1092.9 1465.2 L1093.0 1465.3 L1093.0 1465.5 L1093.1 1465.6 L1093.2 1465.7 L1093.2 1465.9 L1093.3 1466.0 L1093.4 1466.1 L1093.4 1466.2 L1093.5 1466.3 L1093.5 1466.4 L1093.6 1466.5 L1093.7 1466.6 L1093.7 1466.7 L1093.8 1466.8 L1093.9 1466.9 L1093.9 1467.0 L1094.0 1467.1 L1094.1 1467.2 L1094.1 1467.2 L1094.2 1467.3 L1094.3 1467.4 L1094.3 1467.4 L1094.4 1467.5 L1094.4 1467.6 L1094.5 1467.6 L1094.6 1467.7 L1094.6 1467.7 L1094.7 1467.8 L1094.8 1467.8 L1094.8 1467.9 L1094.9 1467.9 L1095.0 1468.0 L1095.0 1468.0 L1095.1 1468.1 L1095.2 1468.1 L1095.2 1468.1 L1095.3 1468.2 L1095.3 1468.2 L1095.4 1468.3 L1095.5 1468.3 L1095.5 1468.3 L1095.6 1468.4 L1095.7 1468.4 L1095.7 1468.4 L1095.8 1468.4 L1095.9 1468.5 L1095.9 1468.5 L1096.0 1468.5 L1096.1 1468.5 L1096.1 1468.6 L1096.2 1468.6 L1096.3 1468.6 L1096.3 1468.6 L1096.4 1468.6 L1096.4 1468.7 L1096.5 1468.7 L1096.6 1468.7 L1096.6 1468.7 L1096.7 1468.7 L1096.8 1468.7 L1096.8 1468.7 L1096.9 1468.8 L1097.0 1468.8 L1097.0 1468.8 L1097.1 1468.8 L1097.2 1468.8 L1097.2 1468.8 L1097.3 1468.8 L1097.3 1468.8 L1097.4 1468.9 L1097.5 1468.9 L1097.5 1468.9 L1097.6 1468.9 L1097.7 1468.9 L1097.7 1468.9 L1097.8 1468.9 L1097.9 1468.9 L1097.9 1468.9 L1098.0 1468.9 L1098.1 1468.9 L1098.1 1468.9 L1098.2 1468.9 L1098.2 1469.0 L1098.3 1469.0 L1098.4 1469.0 L1098.4 1469.0 L1098.5 1469.0 L1098.6 1469.0 L1098.6 1469.0 L1098.7 1469.0 L1098.8 1469.0 L1098.8 1469.0 L1098.9 1469.0 L1099.0 1469.0 L1099.0 1469.0 L1099.1 1469.0 L1099.2 1469.0 L1099.2 1469.0 L1099.3 1469.0 L1099.3 1469.0 L1099.4 1469.0 L1099.5 1469.0 L1099.5 1469.0 L1099.6 1469.0 L1099.7 1469.0 L1099.7 1469.0 L1099.8 1469.0 L1099.9 1469.0 L1099.9 1469.1 L1100.0 1469.1 L1100.1 1469.1 L1100.1 1469.1 L1100.2 1469.1 L1100.2 1469.1 L1100.3 1469.1 L1100.4 1469.1 L1100.4 1469.1 L1100.5 1469.1 L1100.6 1469.1 L1100.6 1469.1 L1100.7 1469.1 L1100.8 1469.1 L1100.8 1469.1 L1100.9 1469.1 L1101.0 1469.1 L1101.0 1469.1 L1101.1 1469.1 L1101.2 1469.1 L1101.2 1469.1 L1101.3 1469.1 L1101.3 1469.1 L1101.4 1469.1 L1101.5 1469.1 L1101.5 1469.1 L1101.6 1469.1 L1101.7 1469.1 L1101.7 1469.1 L1101.8 1469.1 L1101.9 1469.1 L1101.9 1469.1 L1102.0 1469.1 L1102.1 1469.1 L1102.1 1469.1 L1102.2 1469.1 L1102.2 1469.1 L1102.3 1469.1 L1102.4 1469.1 L1102.4 1469.1 L1102.5 1469.1 L1102.6 1469.1 L1102.6 1469.1 L1102.7 1469.1 L1102.8 1469.1 L1102.8 1469.1 L1102.9 1469.1 L1103.0 1469.1 L1103.0 1469.1 L1103.1 1469.1 L1103.1 1469.1 L1103.2 1469.1 L1103.3 1469.1 L1103.3 1469.1 L1103.4 1469.1 L1103.5 1469.1 L1103.5 1469.1 L1103.6 1469.1 L1103.7 1469.1 L1103.7 1469.1 L1103.8 1469.1 L1103.9 1469.1 L1103.9 1469.1 L1104.0 1469.1 L1104.1 1469.1 L1104.1 1469.1 L1104.2 1469.1 L1104.2 1469.1 L1104.3 1469.1 L1104.4 1469.1 L1104.4 1469.1 L1104.5 1469.1 L1104.6 1469.1 L1104.6 1469.1 L1104.7 1469.1 L1104.8 1469.1 L1104.8 1469.1 L1104.9 1469.1 L1105.0 1469.1 L1105.0 1469.1 L1105.1 1469.1 L1105.1 1469.1 L1105.2 1469.1 L1105.3 1469.1 L1105.3 1469.1 L1105.4 1469.1 L1105.5 1469.1 L1105.5 1469.1 L1105.6 1469.1 L1105.7 1469.1 L1105.7 1469.1 L1105.8 1469.1 L1105.9 1469.1 L1105.9 1469.1 L1106.0 1469.1 L1106.0 1469.1 L1106.1 1469.1 L1106.2 1469.1 L1106.2 1469.1 L1106.3 1469.1 L1106.4 1469.1 L1106.4 1469.1 L1106.5 1469.1 L1106.6 1469.1 L1106.6 1469.1 L1106.7 1469.1 L1106.8 1469.1 L1106.8 1469.1 L1106.9 1469.1 L1107.0 1469.1 L1107.0 1469.1 L1107.1 1469.1 L1107.1 1469.1 L1107.2 1469.1 L1107.3 1469.1 L1107.3 1469.1 L1107.4 1469.1 L1107.5 1469.1 L1107.5 1469.1 L1107.6 1469.1 L1107.7 1469.1 L1107.7 1469.1 L1107.8 1469.1 L1107.9 1469.1 L1107.9 1469.1 L1108.0 1469.1 L1108.0 1469.1 L1108.1 1469.1 L1108.2 1469.1 L1108.2 1469.1 L1108.3 1469.1 L1108.4 1469.1 L1108.4 1469.1 L1108.5 1469.1 L1108.6 1469.1 L1108.6 1469.1 L1108.7 1469.1 L1108.8 1469.1 L1108.8 1469.1 L1108.9 1469.1 L1109.0 1469.1 L1109.0 1469.1 L1109.1 1469.1 L1109.1 1469.1 L1109.2 1469.1 L1109.3 1469.1 L1109.3 1469.1 L1109.4 1469.1 L1109.5 1469.1 L1109.5 1469.1 L1109.6 1469.1 L1109.7 1469.1 L1109.7 1469.1 L1109.8 1469.1 L1109.9 1469.1 L1109.9 1469.1 L1110.0 1469.1 L1110.0 1469.1 L1110.1 1469.1 L1110.2 1469.1 L1110.2 1469.1 L1110.3 1469.1 L1110.4 1469.1 L1110.4 1469.1 L1110.5 1469.1 L1110.6 1469.1 L1110.6 1469.1 L1110.7 1469.1 L1110.8 1469.1 L1110.8 1469.1 L1110.9 1469.1 L1110.9 1469.1 L1111.0 1469.1 L1111.1 1469.1 L1111.1 1469.1 L1111.2 1469.1 L1111.3 1469.1 L1111.3 1469.1 L1111.4 1469.1 L1111.5 1469.1 L1111.5 1469.1 L1111.6 1469.1 L1111.7 1469.1 L1111.7 1469.1 L1111.8 1469.1 L1111.9 1469.1 L1111.9 1469.1 L1112.0 1469.1 L1112.0 1469.1 L1112.1 1469.1 L1112.2 1469.1 L1112.2 1469.1 L1112.3 1469.1 L1112.4 1469.1 L1112.4 1469.1 L1112.5 1469.1 L1112.6 1469.1 L1112.6 1469.1 L1112.7 1469.1 L1112.8 1469.1 L1112.8 1469.1 L1112.9 1469.1 L1112.9 1469.1 L1113.0 1469.1 L1113.1 1469.1 L1113.1 1469.1 L1113.2 1469.1 L1119.7 1469.1 L1126.1 1469.1 L1132.5 1469.1 L1139.0 1469.1 L1145.4 1469.1 L1151.9 1469.1 L1158.3 1469.1 L1164.8 1469.1 L1171.2 1469.1 L1177.7 1469.1 L1184.1 1469.1 L1190.6 1469.1 L1197.0 1469.1 L1203.5 1469.1 L1209.9 1469.1 L1216.3 1469.1 L1222.8 1469.1 L1229.2 1469.1 L1235.7 1469.1 L1242.1 1469.1 L1248.6 1469.1 L1255.0 1469.1 L1261.5 1469.1 L1267.9 1469.1 L1274.4 1469.1 L1280.8 1469.1 L1287.3 1469.1 L1293.7 1469.1 L1300.2 1469.1 L1306.6 1469.1 L1313.0 1469.1 L1319.5 1469.1 L1325.9 1469.1 L1326.8 1469.1 L1331.7 1796.6 L1332.4 1796.6 L1338.8 1796.6 L1345.3 1796.6 L1351.7 1796.6 L1358.2 1796.6 L1364.6 1796.6 L1371.1 1796.6 L1377.5 1796.6 L1384.0 1796.6 L1390.4 1796.6 L1396.9 1796.6 L1403.3 1796.6 L1409.7 1796.6 L1416.2 1796.6 L1422.6 1796.6 L1429.1 1796.6 L1435.5 1796.6 L1442.0 1796.6 L1448.4 1796.6 L1454.9 1796.6 L1461.3 1796.6 L1467.8 1796.6 L1474.2 1796.6 L1480.7 1796.6 L1487.1 1796.6 L1493.5 1796.6 L1500.0 1796.6 L1506.4 1796.6 L1512.9 1796.6 L1519.3 1796.6 L1525.8 1796.6 L1532.2 1796.6 L1538.7 1796.6 L1545.1 1796.6 L1551.6 1796.6 L1558.0 1796.6 L1564.5 1796.6 L1570.9 1796.6 L1577.4 1796.6 L1583.8 1796.6 L1590.2 1796.6 L1596.7 1796.6 L1603.1 1796.6 L1609.6 1796.6 L1616.0 1796.6 L1622.5 1796.6 L1628.9 1796.6 L1635.4 1796.6 L1641.8 1796.6 L1648.3 1796.6 L1654.7 1796.6 L1661.2 1796.6 L1667.6 1796.6 L1674.1 1796.6 L1680.5 1796.6 L1686.9 1796.6 L1693.4 1796.6 L1699.8 1796.6 L1706.3 1796.6 L1712.7 1796.6 L1719.2 1796.6 L1725.6 1796.6 L1732.1 1796.6 L1738.5 1796.6 L1745.0 1796.6 L1751.4 1796.6 L1757.9 1796.6 L1764.3 1796.6 L1770.7 1796.6 L1777.2 1796.6 L1783.6 1796.6 L1790.1 1796.6 L1796.5 1796.6 L1803.0 1796.6 L1809.4 1796.6 L1815.9 1796.6 L1822.3 1796.6 L1828.8 1796.6 L1835.2 1796.6 L1841.7 1796.6 L1848.1 1796.6 L1854.6 1796.6 L1861.0 1796.6 L1867.4 1796.6 L1873.9 1796.6 L1880.3 1796.6 L1886.8 1796.6 L1893.2 1796.6 L1899.7 1796.6 L1906.1 1796.6 L1912.6 1796.6 L1919.0 1796.6 L1925.5 1796.6 L1931.9 1796.6 L1938.4 1796.6 L1944.8 1796.6 L1951.3 1796.6 L1957.7 1796.6 L1964.1 1796.6 L1970.6 1796.6 L1977.0 1796.6 L1983.5 1796.6 L1989.9 1796.6 L1996.4 1796.6 L2002.8 1796.6 L2009.3 1796.6 L2015.7 1796.6 L2022.2 1796.6 L2028.6 1796.6 L2035.1 1796.6 L2041.5 1796.6 L2047.9 1796.6 L2054.4 1796.6 L2060.8 1796.6 L2067.3 1796.6 L2073.7 1796.6 L2080.2 1796.6 L2086.6 1796.6 L2093.1 1796.6 L2099.5 1796.6" fill="none" stroke="#808080" stroke-width="8.10" stroke-linejoin="round" />
<path d="M293.2 1796.6 L299.6 1796.6 L306.1 1796.6 L312.5 1796.6 L319.0 1796.6 L325.4 1796.6 L331.9 1796.6 L338.3 1796.6 L344.8 1796.6 L351.2 1796.6 L357.7 1796.6 L364.1 1796.6 L370.6 1796.6 L377.0 1796.6 L383.5 1796.6 L389.9 1796.6 L396.3 1796.6 L402.8 1796.6 L409.2 1796.6 L415.7 1796.6 L422.1 1796.6 L428.6 1796.6 L435.0 1796.6 L441.5 1796.6 L447.9 1796.6 L454.4 1796.6 L460.8 1796.6 L467.3 1796.6 L473.7 1796.6 L480.1 1796.6 L486.6 1796.6 L493.0 1796.6 L499.5 1796.6 L505.9 1796.6 L512.4 1796.6 L518.8 1796.6 L525.3 1796.6 L531.7 1796.6 L538.2 1796.6 L544.6 1796.6 L551.1 1796.6 L557.5 1796.6 L564.0 1796.6 L570.4 1796.6 L576.8 1796.6 L583.3 1796.6 L589.7 1796.6 L596.2 1796.6 L602.6 1796.6 L609.1 1796.6 L615.5 1796.6 L622.0 1796.6 L628.4 1796.6 L634.9 1796.6 L641.3 1796.6 L647.8 1796.6 L654.2 1796.6 L660.7 1796.6 L667.1 1796.6 L673.5 1796.6 L680.0 1796.6 L686.4 1796.6 L692.9 1796.6 L699.3 1796.6 L705.8 1796.6 L712.2 1796.6 L718.7 1796.6 L725.1 1796.6 L731.6 1796.6 L738.0 1796.6 L744.5 1796.6 L750.9 1796.6 L757.3 1796.6 L763.8 1796.6 L770.2 1796.6 L776.7 1796.6 L783.1 1796.6 L789.6 1796.6 L796.0 1796.6 L802.5 1796.6 L808.9 1796.6 L815.4 1796.6 L821.8 1796.6 L828.3 1796.6 L834.7 1796.6 L841.2 1796.6 L847.6 1796.6 L854.0 1796.6 L860.5 1796.6 L866.9 1796.6 L873.4 1796.6 L879.8 1796.6 L886.3 1796.6 L892.7 1796.6 L899.2 1796.6 L905.6 1796.6 L912.1 1796.6 L918.5 1796.6 L925.0 1796.6 L931.4 1796.6 L937.9 1796.6 L944.3 1796.6 L950.7 1796.6 L957.2 1796.6 L963.6 1796.6 L970.1 1796.6 L976.5 1796.6 L983.0 1796.6 L989.4 1796.6 L995.9 1796.6 L1002.3 1796.6 L1008.8 1796.6 L1015.2 1796.6 L1021.7 1796.6 L1028.1 1796.6 L1034.5 1796.6 L1041.0 1796.6 L1047.4 1796.6 L1053.9 1796.6 L1060.3 1796.6 L1066.8 1796.6 L1073.2 1796.6 L1078.4 1796.6 L1078.4 1796.6 L1078.5 1796.6 L1078.6 1796.6 L1078.6 1796.6 L1078.7 1796.6 L1078.8 1796.6 L1078.8 1796.6 L1078.9 1796.6 L1079.0 1796.6 L1079.0 1796.6 L1079.1 1796.6 L1079.2 1796.6 L1079.2 1796.6 L1079.3 1796.6 L1079.4 1796.6 L1079.4 1796.6 L1079.5 1796.6 L1079.5 1796.6 L1079.6 1796.6 L1079.7 1796.6 L1079.7 1796.6 L1079.8 1796.6 L1079.9 1796.6 L1079.9 1796.6 L1080.0 1796.6 L1080.1 1796.6 L1080.1 1796.6 L1080.2 1796.6 L1080.3 1796.6 L1080.3 1796.6 L1080.4 1796.6 L1080.4 1796.6 L1080.5 1796.6 L1080.6 1796.6 L1080.6 1796.6 L1080.7 1796.6 L1080.8 1796.6 L1080.8 1796.6 L1080.9 1796.6 L1081.0 1796.6 L1081.0 1796.6 L1081.1 1796.6 L1081.1 1794.7 L1081.2 1790.0 L1081.2 1785.2 L1081.3 1780.5 L1081.3 1775.8 L1081.4 1771.0 L1081.5 1766.3 L1081.5 1761.5 L1081.6 1756.8 L1081.7 1752.1 L1081.7 1747.3 L1081.8 1742.6 L1081.9 1737.9 L1081.9 1733.1 L1082.0 1728.4 L1082.1 1723.7 L1082.1 1718.9 L1082.2 1714.2 L1082.3 1709.4 L1082.3 1704.7 L1082.4 1700.0 L1082.4 1695.2 L1082.5 1690.5 L1082.6 1685.8 L1082.6 1681.0 L1082.7 1676.3 L1082.8 1671.5 L1082.8 1666.8 L1082.9 1662.1 L1083.0 1657.3 L1083.0 1652.6 L1083.1 1647.9 L1083.2 1643.1 L1083.2 1638.4 L1083.3 1633.7 L1083.3 1628.9 L1083.4 1624.2 L1083.5 1619.4 L1083.5 1614.7 L1083.6 1610.0 L1083.7 1605.2 L1083.7 1600.5 L1083.8 1595.8 L1083.9 1591.0 L1083.9 1586.3 L1084.0 1581.5 L1084.1 1576.8 L1084.1 1572.1 L1084.2 1567.3 L1084.3 1562.6 L1084.3 1557.9 L1084.4 1553.1 L1084.4 1548.4 L1084.5 1543.7 L1084.6 1538.9 L1084.6 1534.2 L1084.7 1529.4 L1084.8 1524.7 L1084.8 1520.0 L1084.9 1515.2 L1085.0 1510.5 L1085.0 1505.8 L1085.1 1501.0 L1085.2 1496.3 L1085.2 1491.5 L1085.3 1486.8 L1085.3 1482.1 L1085.4 1477.3 L1085.5 1472.6 L1085.5 1467.9 L1085.6 1463.1 L1085.7 1458.4 L1085.7 1453.7 L1085.8 1448.9 L1085.9 1444.2 L1085.9 1439.4 L1086.0 1434.7 L1086.1 1430.0 L1086.1 1425.2 L1086.2 1420.5 L1086.2 1415.8 L1086.3 1411.0 L1086.4 1406.3 L1086.4 1401.6 L1086.5 1396.8 L1086.6 1392.1 L1086.6 1387.3 L1086.7 1390.5 L1086.8 1393.5 L1086.8 1396.4 L1086.9 1399.3 L1087.0 1402.0 L1087.0 1404.5 L1087.1 1407.0 L1087.2 1409.4 L1087.2 1411.7 L1087.3 1414.0 L1087.3 1416.1 L1087.4 1418.1 L1087.5 1420.1 L1087.5 1422.0 L1087.6 1423.8 L1087.7 1425.6 L1087.7 1427.2 L1087.8 1428.9 L1087.9 1430.4 L1087.9 1431.9 L1088.0 1433.3 L1088.0 1434.2 L1088.1 1434.7 L1088.1 1436.0 L1088.2 1437.3 L1088.2 1438.5 L1088.3 1439.7 L1088.4 1440.9 L1088.4 1442.0 L1088.5 1443.0 L1088.6 1444.0 L1088.6 1445.0 L1088.7 1445.9 L1088.8 1446.8 L1088.8 1447.7 L1088.9 1448.5 L1089.0 1449.3 L1089.0 1450.1 L1089.1 1450.8 L1089.1 1451.5 L1089.2 1452.2 L1089.3 1452.8 L1089.3 1453.5 L1089.4 1454.1 L1089.5 1454.6 L1089.5 1455.2 L1089.6 1455.7 L1089.7 1456.3 L1089.7 1456.8 L1089.8 1457.2 L1089.9 1457.7 L1089.9 1458.1 L1090.0 1458.6 L1090.1 1459.0 L1090.1 1459.3 L1090.2 1459.7 L1090.2 1460.1 L1090.3 1460.4 L1090.4 1460.8 L1090.4 1461.1 L1090.5 1461.4 L1090.6 1461.7 L1090.6 1462.0 L1090.7 1462.3 L1090.8 1462.5 L1090.8 1462.8 L1090.9 1463.0 L1091.0 1463.3 L1091.0 1463.5 L1091.1 1463.7 L1091.1 1463.9 L1091.2 1464.1 L1091.3 1464.3 L1091.3 1464.5 L1091.4 1464.7 L1091.5 1464.8 L1091.5 1465.0 L1091.6 1465.2 L1091.7 1465.3 L1091.7 1465.5 L1091.8 1465.6 L1091.9 1465.7 L1091.9 1465.9 L1092.0 1466.0 L1092.1 1466.1 L1092.1 1466.2 L1092.2 1466.3 L1092.2 1466.4 L1092.3 1466.5 L1092.4 1466.6 L1092.4 1466.7 L1092.5 1466.8 L1092.6 1466.9 L1092.6 1467.0 L1092.7 1467.1 L1092.8 1467.2 L1092.8 1467.2 L1092.9 1467.3 L1093.0 1467.4 L1093.0 1467.4 L1093.1 1467.5 L1093.1 1467.6 L1093.2 1467.6 L1093.3 1467.7 L1093.3 1467.7 L1093.4 1467.8 L1093.5 1467.8 L1093.5 1467.9 L1093.6 1467.9 L1093.7 1468.0 L1093.7 1468.0 L1093.8 1468.1 L1093.9 1468.1 L1093.9 1468.1 L1094.0 1468.2 L1094.0 1468.2 L1094.1 1468.3 L1094.2 1468.3 L1094.2 1468.3 L1094.3 1468.4 L1094.4 1468.4 L1094.4 1468.4 L1094.5 1468.4 L1094.6 1468.5 L1094.6 1468.5 L1094.7 1468.5 L1094.8 1468.5 L1094.8 1468.6 L1094.9 1468.6 L1095.0 1468.6 L1095.0 1468.6 L1095.1 1468.6 L1095.1 1468.7 L1095.2 1468.7 L1095.3 1468.7 L1095.3 1468.7 L1095.4 1468.7 L1095.5 1468.7 L1095.5 1468.7 L1095.6 1468.8 L1095.7 1468.8 L1095.7 1468.8 L1095.8 1468.8 L1095.9 1468.8 L1095.9 1468.8 L1096.0 1468.8 L1096.0 1468.8 L1096.1 1468.9 L1096.2 1468.9 L1096.2 1468.9 L1096.3 1468.9 L1096.4 1468.9 L1096.4 1468.9 L1096.5 1468.9 L1096.6 1468.9 L1096.6 1468.9 L1096.7 1468.9 L1096.8 1468.9 L1096.8 1468.9 L1096.9 1468.9 L1096.9 1469.0 L1097.0 1469.0 L1097.1 1469.0 L1097.1 1469.0 L1097.2 1469.0 L1097.3 1469.0 L1097.3 1469.0 L1097.4 1469.0 L1097.5 1469.0 L1097.5 1469.0 L1097.6 1469.0 L1097.7 1469.0 L1097.7 1469.0 L1097.8 1469.0 L1097.9 1469.0 L1097.9 1469.0 L1098.0 1469.0 L1098.0 1469.0 L1098.1 1469.0 L1098.2 1469.0 L1098.2 1469.0 L1098.3 1469.0 L1098.4 1469.0 L1098.4 1469.0 L1098.5 1469.0 L1098.6 1469.0 L1098.6 1469.1 L1098.7 1469.1 L1098.8 1469.1 L1098.8 1469.1 L1098.9 1469.1 L1098.9 1469.1 L1099.0 1469.1 L1099.1 1469.1 L1099.1 1469.1 L1099.2 1469.1 L1099.3 1469.1 L1099.3 1469.1 L1099.4 1469.1 L1099.5 1469.1 L1099.5 1469.1 L1099.6 1469.1 L1099.7 1469.1 L1099.7 1469.1 L1099.8 1469.1 L1099.9 1469.1 L1099.9 1469.1 L1100.0 1469.1 L1100.0 1469.1 L1100.1 1469.1 L1100.2 1469.1 L1100.2 1469.1 L1100.3 1469.1 L1100.4 1469.1 L1100.4 1469.1 L1100.5 1469.1 L1100.6 1469.1 L1100.6 1469.1 L1100.7 1469.1 L1100.8 1469.1 L1100.8 1469.1 L1100.9 1469.1 L1100.9 1469.1 L1101.0 1469.1 L1101.1 1469.1 L1101.1 1469.1 L1101.2 1469.1 L1101.3 1469.1 L1101.3 1469.1 L1101.4 1469.1 L1101.5 1469.1 L1101.5 1469.1 L1101.6 1469.1 L1101.7 1469.1 L1101.7 1469.1 L1101.8 1469.1 L1101.8 1469.1 L1101.9 1469.1 L1102.0 1469.1 L1102.0 1469.1 L1102.1 1469.1 L1102.2 1469.1 L1102.2 1469.1 L1102.3 1469.1 L1102.4 1469.1 L1102.4 1469.1 L1102.5 1469.1 L1102.6 1469.1 L1102.6 1469.1 L1102.7 1469.1 L1102.8 1469.1 L1102.8 1469.1 L1102.9 1469.1 L1102.9 1469.1 L1103.0 1469.1 L1103.1 1469.1 L1103.1 1469.1 L1103.2 1469.1 L1103.3 1469.1 L1103.3 1469.1 L1103.4 1469.1 L1103.5 1469.1 L1103.5 1469.1 L1103.6 1469.1 L1103.7 1469.1 L1103.7 1469.1 L1103.8 1469.1 L1103.8 1469.1 L1103.9 1469.1 L1104.0 1469.1 L1104.0 1469.1 L1104.1 1469.1 L1104.2 1469.1 L1104.2 1469.1 L1104.3 1469.1 L1104.4 1469.1 L1104.4 1469.1 L1104.5 1469.1 L1104.6 1469.1 L1104.6 1469.1 L1104.7 1469.1 L1104.7 1469.1 L1104.8 1469.1 L1104.9 1469.1 L1104.9 1469.1 L1105.0 1469.1 L1105.1 1469.1 L1105.1 1469.1 L1105.2 1469.1 L1105.3 1469.1 L1105.3 1469.1 L1105.4 1469.1 L1105.5 1469.1 L1105.5 1469.1 L1105.6 1469.1 L1105.7 1469.1 L1105.7 1469.1 L1105.8 1469.1 L1105.8 1469.1 L1105.9 1469.1 L1106.0 1469.1 L1106.0 1469.1 L1106.1 1469.1 L1106.2 1469.1 L1106.2 1469.1 L1106.3 1469.1 L1106.4 1469.1 L1106.4 1469.1 L1106.5 1469.1 L1106.6 1469.1 L1106.6 1469.1 L1106.7 1469.1 L1106.7 1469.1 L1106.8 1469.1 L1106.9 1469.1 L1106.9 1469.1 L1107.0 1469.1 L1107.1 1469.1 L1107.1 1469.1 L1107.2 1469.1 L1107.3 1469.1 L1107.3 1469.1 L1107.4 1469.1 L1107.5 1469.1 L1107.5 1469.1 L1107.6 1469.1 L1107.7 1469.1 L1107.7 1469.1 L1107.8 1469.1 L1107.8 1469.1 L1107.9 1469.1 L1108.0 1469.1 L1108.0 1469.1 L1108.1 1469.1 L1108.2 1469.1 L1108.2 1469.1 L1108.3 1469.1 L1108.4 1469.1 L1108.4 1469.1 L1108.5 1469.1 L1108.6 1469.1 L1108.6 1469.1 L1108.7 1469.1 L1108.7 1469.1 L1108.8 1469.1 L1108.9 1469.1 L1108.9 1469.1 L1109.0 1469.1 L1109.1 1469.1 L1109.1 1469.1 L1109.2 1469.1 L1109.3 1469.1 L1109.3 1469.1 L1109.4 1469.1 L1109.5 1469.1 L1109.5 1469.1 L1109.6 1469.1 L1109.6 1469.1 L1109.7 1469.1 L1109.8 1469.1 L1109.8 1469.1 L1109.9 1469.1 L1110.0 1469.1 L1110.0 1469.1 L1110.1 1469.1 L1110.2 1469.1 L1110.2 1469.1 L1110.3 1469.1 L1110.4 1469.1 L1110.4 1469.1 L1110.5 1469.1 L1110.6 1469.1 L1110.6 1469.1 L1110.7 1469.1 L1110.7 1469.1 L1110.8 1469.1 L1110.9 1469.1 L1110.9 1469.1 L1111.0 1469.1 L1111.1 1469.1 L1111.1 1469.1 L1111.2 1469.1 L1111.3 1469.1 L1111.3 1469.1 L1111.4 1469.1 L1111.5 1469.1 L1111.5 1469.1 L1111.6 1469.1 L1111.6 1469.1 L1111.7 1469.1 L1111.8 1469.1 L1111.8 1469.1 L1111.9 1469.1 L1118.4 1469.1 L1124.8 1469.1 L1131.2 1469.1 L1137.7 1469.1 L1144.1 1469.1 L1150.6 1469.1 L1157.0 1469.1 L1163.5 1469.1 L1169.9 1469.1 L1176.4 1469.1 L1182.8 1469.1 L1189.3 1469.1 L1195.7 1469.1 L1202.2 1469.1 L1208.6 1469.1 L1215.0 1469.1 L1221.5 1469.1 L1227.9 1469.1 L1234.4 1469.1 L1240.8 1469.1 L1247.3 1469.1 L1253.7 1469.1 L1260.2 1469.1 L1266.6 1469.1 L1273.1 1469.1 L1279.5 1469.1 L1286.0 1469.1 L1292.4 1469.1 L1298.9 1469.1 L1305.3 1469.1 L1311.7 1469.1 L1318.2 1469.1 L1324.6 1469.1 L1325.5 1469.1 L1330.4 1796.6 L1331.1 1796.6 L1337.5 1796.6 L1344.0 1796.6 L1350.4 1796.6 L1356.9 1796.6 L1363.3 1796.6 L1369.8 1796.6 L1376.2 1796.6 L1382.7 1796.6 L1389.1 1796.6 L1395.6 1796.6 L1402.0 1796.6 L1408.4 1796.6 L1414.9 1796.6 L1421.3 1796.6 L1427.8 1796.6 L1434.2 1796.6 L1440.7 1796.6 L1447.1 1796.6 L1453.6 1796.6 L1460.0 1796.6 L1466.5 1796.6 L1472.9 1796.6 L1479.4 1796.6 L1485.8 1796.6 L1492.2 1796.6 L1498.7 1796.6 L1505.1 1796.6 L1511.6 1796.6 L1518.0 1796.6 L1524.5 1796.6 L1530.9 1796.6 L1537.4 1796.6 L1543.8 1796.6 L1550.3 1796.6 L1556.7 1796.6 L1563.2 1796.6 L1569.6 1796.6 L1576.1 1796.6 L1582.5 1796.6 L1588.9 1796.6 L1595.4 1796.6 L1601.8 1796.6 L1608.3 1796.6 L1614.7 1796.6 L1621.2 1796.6 L1627.6 1796.6 L1634.1 1796.6 L1640.5 1796.6 L1647.0 1796.6 L1653.4 1796.6 L1659.9 1796.6 L1666.3 1796.6 L1672.8 1796.6 L1679.2 1796.6 L1685.6 1796.6 L1692.1 1796.6 L1698.5 1796.6 L1705.0 1796.6 L1711.4 1796.6 L1717.9 1796.6 L1724.3 1796.6 L1730.8 1796.6 L1737.2 1796.6 L1743.7 1796.6 L1750.1 1796.6 L1756.6 1796.6 L1763.0 1796.6 L1769.4 1796.6 L1775.9 1796.6 L1782.3 1796.6 L1788.8 1796.6 L1795.2 1796.6 L1801.7 1796.6 L1808.1 1796.6 L1814.6 1796.6 L1821.0 1796.6 L1827.5 1796.6 L1833.9 1796.6 L1840.4 1796.6 L1846.8 1796.6 L1853.3 1796.6 L1859.7 1796.6 L1866.1 1796.6 L1872.6 1796.6 L1879.0 1796.6 L1885.5 1796.6 L1891.9 1796.6 L1898.4 1796.6 L1904.8 1796.6 L1911.3 1796.6 L1917.7 1796.6 L1924.2 1796.6 L1930.6 1796.6 L1937.1 1796.6 L1943.5 1796.6 L1950.0 1796.6 L1956.4 1796.6 L1962.8 1796.6 L1969.3 1796.6 L1975.7 1796.6 L1982.2 1796.6 L1988.6 1796.6 L1995.1 1796.6 L2001.5 1796.6 L2008.0 1796.6 L2014.4 1796.6 L2020.9 1796.6 L2027.3 1796.6 L2033.8 1796.6 L2040.2 1796.6 L2046.6 1796.6 L2053.1 1796.6 L2059.5 1796.6 L2066.0 1796.6 L2072.4 1796.6 L2078.9 1796.6 L2085.3 1796.6 L2091.8 1796.6 L2098.2 1796.6" fill="none" stroke="#050505" stroke-width="9.00" stroke-linejoin="round" />
</g>
<text x="292.7" y="1869.4" font-size="65.5" text-anchor="middle" fill="#262626"  textLength="31.5" lengthAdjust="spacingAndGlyphs">0</text>
<text x="550.6" y="1869.4" font-size="65.5" text-anchor="middle" fill="#262626"  textLength="63.0" lengthAdjust="spacingAndGlyphs">20</text>
<text x="808.4" y="1869.4" font-size="65.5" text-anchor="middle" fill="#262626"  textLength="63.0" lengthAdjust="spacingAndGlyphs">40</text>
<text x="1066.3" y="1869.4" font-size="65.5" text-anchor="middle" fill="#262626"  textLength="63.0" lengthAdjust="spacingAndGlyphs">60</text>
<text x="1324.1" y="1869.4" font-size="65.5" text-anchor="middle" fill="#262626"  textLength="63.0" lengthAdjust="spacingAndGlyphs">80</text>
<text x="1582.0" y="1869.4" font-size="65.5" text-anchor="middle" fill="#262626"  textLength="94.5" lengthAdjust="spacingAndGlyphs">100</text>
<text x="1839.9" y="1869.4" font-size="65.5" text-anchor="middle" fill="#262626"  textLength="94.5" lengthAdjust="spacingAndGlyphs">120</text>
<text x="2097.7" y="1869.4" font-size="65.5" text-anchor="middle" fill="#262626"  textLength="94.5" lengthAdjust="spacingAndGlyphs">140</text>
<text x="275.0" y="1806.2" font-size="65.5" text-anchor="end" fill="#262626"  textLength="110.3" lengthAdjust="spacingAndGlyphs">0.00</text>
<text x="275.0" y="1590.8" font-size="65.5" text-anchor="end" fill="#262626"  textLength="110.3" lengthAdjust="spacingAndGlyphs">0.50</text>
<text x="275.0" y="1375.4" font-size="65.5" text-anchor="end" fill="#262626"  textLength="110.3" lengthAdjust="spacingAndGlyphs">1.00</text>
<rect x="462.6" y="1434.8" width="487.2" height="248.8" fill="#fff"/>
<clipPath id="ci3"><rect x="460.3" y="1432.5" width="491.8" height="253.4"/></clipPath>
<g stroke="#2a221a" stroke-opacity="0.235" stroke-width="5.0">
<line x1="492.2" y1="1434.8" x2="492.2" y2="1683.6"/>
<line x1="610.2" y1="1434.8" x2="610.2" y2="1683.6"/>
<line x1="728.2" y1="1434.8" x2="728.2" y2="1683.6"/>
<line x1="846.2" y1="1434.8" x2="846.2" y2="1683.6"/>
<line x1="462.6" y1="1441.0" x2="949.8" y2="1441.0"/>
<line x1="462.6" y1="1496.5" x2="949.8" y2="1496.5"/>
<line x1="462.6" y1="1552.0" x2="949.8" y2="1552.0"/>
<line x1="462.6" y1="1607.6" x2="949.8" y2="1607.6"/>
<line x1="462.6" y1="1663.1" x2="949.8" y2="1663.1"/>
</g>
<g stroke="#262626" stroke-width="4.6" fill="none">
<rect x="462.6" y="1434.8" width="487.2" height="248.8"/>
<line x1="492.2" y1="1434.8" x2="492.2" y2="1441.8"/>
<line x1="492.2" y1="1683.6" x2="492.2" y2="1676.6"/>
<line x1="610.2" y1="1434.8" x2="610.2" y2="1441.8"/>
<line x1="610.2" y1="1683.6" x2="610.2" y2="1676.6"/>
<line x1="728.2" y1="1434.8" x2="728.2" y2="1441.8"/>
<line x1="728.2" y1="1683.6" x2="728.2" y2="1676.6"/>
<line x1="846.2" y1="1434.8" x2="846.2" y2="1441.8"/>
<line x1="846.2" y1="1683.6" x2="846.2" y2="1676.6"/>
<line x1="462.6" y1="1441.0" x2="469.6" y2="1441.0"/>
<line x1="949.8" y1="1441.0" x2="942.8" y2="1441.0"/>
<line x1="462.6" y1="1496.5" x2="469.6" y2="1496.5"/>
<line x1="949.8" y1="1496.5" x2="942.8" y2="1496.5"/>
<line x1="462.6" y1="1552.0" x2="469.6" y2="1552.0"/>
<line x1="949.8" y1="1552.0" x2="942.8" y2="1552.0"/>
<line x1="462.6" y1="1607.6" x2="469.6" y2="1607.6"/>
<line x1="949.8" y1="1607.6" x2="942.8" y2="1607.6"/>
<line x1="462.6" y1="1663.1" x2="469.6" y2="1663.1"/>
<line x1="949.8" y1="1663.1" x2="942.8" y2="1663.1"/>
</g>
<g clip-path="url(#ci3)">
<path d="M445.0 2496.0 L445.6 2496.0 L446.2 2496.0 L446.8 2496.0 L447.4 2496.0 L447.9 2496.0 L448.5 2496.0 L449.1 2496.0 L449.7 2496.0 L450.3 2496.0 L450.9 2496.0 L451.5 2496.0 L452.1 2496.0 L452.7 2496.0 L453.3 2496.0 L453.8 2496.0 L454.4 2496.0 L455.0 2496.0 L455.6 2496.0 L456.2 2496.0 L456.8 2496.0 L457.4 2496.0 L458.0 2496.0 L458.6 2496.0 L459.2 2496.0 L459.7 2496.0 L460.3 2496.0 L460.9 2496.0 L461.5 2496.0 L462.1 2496.0 L462.7 2496.0 L463.3 2496.0 L463.9 2496.0 L464.5 2496.0 L465.1 2496.0 L465.6 2496.0 L466.2 2496.0 L466.8 2496.0 L467.4 2496.0 L468.0 2496.0 L468.6 2496.0 L469.2 2496.0 L469.8 2496.0 L470.4 2496.0 L471.0 2496.0 L471.5 2496.0 L472.1 2496.0 L472.7 2496.0 L473.3 2496.0 L473.9 2496.0 L474.5 2496.0 L475.1 2496.0 L475.7 2496.0 L476.3 2496.0 L476.9 2496.0 L477.4 2496.0 L478.0 2496.0 L478.6 2496.0 L479.2 2496.0 L479.8 2496.0 L480.4 2496.0 L481.0 2496.0 L481.6 2496.0 L482.2 2496.0 L482.8 2496.0 L483.3 2496.0 L483.9 2496.0 L484.5 2496.0 L485.1 2496.0 L485.7 2496.0 L486.3 2496.0 L486.9 2496.0 L487.5 2496.0 L488.1 2496.0 L488.7 2496.0 L489.2 2496.0 L489.8 2496.0 L490.4 2496.0 L491.0 2496.0 L491.6 2496.0 L492.2 2496.0 L492.8 2496.0 L493.4 2496.0 L494.0 2496.0 L494.6 2496.0 L495.1 2496.0 L495.7 2496.0 L496.3 2496.0 L496.9 2496.0 L497.5 2496.0 L498.1 2496.0 L498.7 2496.0 L499.3 2496.0 L499.9 2496.0 L500.5 2496.0 L501.0 2496.0 L501.6 2496.0 L502.2 2496.0 L502.8 2496.0 L503.4 2496.0 L504.0 2496.0 L504.6 2496.0 L505.2 2496.0 L505.8 2496.0 L506.4 2496.0 L506.9 2496.0 L507.5 2496.0 L508.1 2496.0 L508.7 2496.0 L509.3 2496.0 L509.9 2496.0 L510.5 2496.0 L511.1 2496.0 L511.7 2496.0 L512.3 2496.0 L512.8 2496.0 L513.4 2496.0 L514.0 2496.0 L514.6 2496.0 L515.2 2496.0 L515.8 2496.0 L516.4 2496.0 L517.0 2496.0 L517.6 2496.0 L518.2 2496.0 L518.7 2496.0 L519.3 2496.0 L519.9 2496.0 L520.5 2496.0 L521.1 2496.0 L521.7 2496.0 L522.3 2496.0 L522.9 2496.0 L523.5 2496.0 L524.1 2496.0 L524.6 2496.0 L525.2 2496.0 L525.8 2496.0 L526.4 2496.0 L527.0 2496.0 L527.6 2496.0 L528.2 2496.0 L528.8 2496.0 L529.4 2496.0 L530.0 2496.0 L530.5 2496.0 L531.1 2496.0 L531.7 2496.0 L532.3 2496.0 L532.9 2496.0 L533.5 2496.0 L534.1 2496.0 L534.7 2496.0 L535.3 2496.0 L535.9 2496.0 L536.5 2496.0 L537.0 2496.0 L537.6 2496.0 L538.2 2496.0 L538.8 2496.0 L539.4 2496.0 L540.0 2496.0 L540.6 2496.0 L541.2 2496.0 L541.8 2496.0 L542.3 2496.0 L542.9 2496.0 L543.5 2496.0 L544.1 2496.0 L544.7 2496.0 L545.3 2496.0 L545.9 2495.7 L546.5 2490.1 L547.1 2484.5 L547.7 2479.0 L548.2 2473.4 L548.8 2467.9 L549.4 2462.3 L550.0 2456.8 L550.6 2451.2 L551.2 2445.7 L551.8 2440.1 L552.4 2434.6 L553.0 2429.0 L553.6 2423.5 L554.1 2417.9 L554.7 2412.4 L555.3 2406.8 L555.9 2401.3 L556.5 2395.7 L557.1 2390.2 L557.7 2384.6 L558.3 2379.0 L558.9 2373.5 L559.5 2367.9 L560.1 2362.4 L560.6 2356.8 L561.2 2351.3 L561.8 2345.7 L562.4 2340.2 L563.0 2334.6 L563.6 2329.1 L564.2 2323.5 L564.8 2318.0 L565.4 2312.4 L566.0 2306.9 L566.5 2301.3 L567.1 2295.8 L567.7 2290.2 L568.3 2284.7 L568.9 2279.1 L569.5 2273.6 L570.1 2268.0 L570.7 2262.4 L571.3 2256.9 L571.8 2251.3 L572.4 2245.8 L573.0 2240.2 L573.6 2234.7 L574.2 2229.1 L574.8 2223.6 L575.4 2218.0 L576.0 2212.5 L576.6 2206.9 L577.2 2201.4 L577.7 2195.8 L578.3 2190.3 L578.9 2184.7 L579.5 2179.2 L580.1 2173.6 L580.7 2168.1 L581.3 2162.5 L581.9 2156.9 L582.5 2151.4 L583.1 2145.8 L583.6 2140.3 L584.2 2134.7 L584.8 2129.2 L585.4 2123.6 L586.0 2118.1 L586.6 2112.5 L587.2 2107.0 L587.8 2101.4 L588.4 2095.9 L589.0 2090.3 L589.6 2084.8 L590.1 2079.2 L590.7 2073.7 L591.3 2068.1 L591.9 2062.6 L592.5 2057.0 L593.1 2051.5 L593.7 2045.9 L594.3 2040.3 L594.9 2034.8 L595.5 2029.2 L596.0 2023.7 L596.6 2018.1 L597.2 2012.6 L597.8 2007.0 L598.4 2001.5 L599.0 1995.9 L599.6 1990.4 L600.2 1984.8 L600.8 1979.3 L601.3 1973.7 L601.9 1968.2 L602.5 1962.6 L603.1 1957.1 L603.7 1951.5 L604.3 1946.0 L604.9 1940.4 L605.5 1934.8 L606.1 1929.3 L606.7 1923.7 L607.2 1918.2 L607.8 1912.6 L608.4 1907.1 L609.0 1901.5 L609.6 1896.0 L610.2 1890.4 L610.8 1884.9 L611.4 1879.3 L612.0 1873.8 L612.6 1868.2 L613.1 1862.7 L613.7 1857.1 L614.3 1851.6 L614.9 1846.0 L615.5 1840.5 L616.1 1834.9 L616.7 1829.4 L617.3 1823.8 L617.9 1818.2 L618.5 1812.7 L619.1 1807.1 L619.6 1801.6 L620.2 1796.0 L620.8 1790.5 L621.4 1784.9 L622.0 1779.4 L622.6 1773.8 L623.2 1768.3 L623.8 1762.7 L624.4 1757.2 L625.0 1751.6 L625.5 1746.1 L626.1 1740.5 L626.7 1735.0 L627.3 1729.4 L627.9 1723.9 L628.5 1718.3 L629.1 1712.7 L629.7 1707.2 L630.3 1701.6 L630.8 1696.1 L631.4 1690.5 L632.0 1685.0 L632.6 1679.4 L633.2 1673.9 L633.8 1668.3 L634.4 1662.8 L635.0 1657.2 L635.6 1651.7 L636.2 1646.1 L636.7 1640.6 L637.3 1635.0 L637.9 1629.5 L638.5 1623.9 L639.1 1618.4 L639.7 1612.8 L640.3 1607.3 L640.9 1601.7 L641.5 1596.1 L642.1 1590.6 L642.6 1585.0 L643.2 1579.5 L643.8 1573.9 L644.4 1568.4 L645.0 1562.8 L645.6 1563.1 L646.2 1564.9 L646.8 1566.6 L647.4 1568.2 L648.0 1569.8 L648.6 1571.4 L649.1 1573.0 L649.7 1574.5 L650.3 1576.0 L650.9 1577.5 L651.5 1579.0 L652.1 1580.4 L652.7 1581.8 L653.3 1583.1 L653.9 1584.5 L654.5 1585.8 L655.0 1587.1 L655.6 1588.3 L656.2 1589.6 L656.8 1590.8 L657.4 1592.0 L658.0 1593.1 L658.6 1594.3 L659.2 1595.4 L659.8 1596.5 L660.3 1597.6 L660.9 1598.6 L661.5 1599.7 L662.1 1600.7 L662.7 1601.7 L663.3 1602.7 L663.9 1603.6 L664.5 1604.6 L665.1 1605.5 L665.7 1606.4 L666.2 1607.3 L666.8 1608.1 L667.4 1609.0 L668.0 1609.8 L668.6 1610.6 L669.2 1611.4 L669.8 1612.2 L670.4 1613.0 L671.0 1613.8 L671.6 1614.5 L672.1 1615.2 L672.7 1615.9 L673.3 1616.6 L673.9 1617.3 L674.5 1618.0 L675.1 1618.6 L675.7 1619.3 L676.3 1619.9 L676.9 1620.5 L677.5 1621.2 L678.1 1621.7 L678.6 1622.3 L679.2 1622.9 L679.8 1623.5 L680.4 1624.0 L681.0 1624.6 L681.6 1625.1 L682.2 1625.6 L682.8 1626.1 L683.4 1626.6 L684.0 1627.1 L684.5 1627.6 L685.1 1628.1 L685.7 1628.5 L686.3 1629.0 L686.9 1629.4 L687.5 1629.9 L688.1 1630.3 L688.7 1630.7 L689.3 1631.1 L689.8 1631.5 L690.4 1631.9 L691.0 1632.3 L691.6 1632.7 L692.2 1633.1 L692.8 1633.4 L693.4 1633.8 L694.0 1634.1 L694.6 1634.5 L695.2 1634.8 L695.7 1635.1 L696.3 1635.5 L696.9 1635.8 L697.5 1636.1 L698.1 1636.4 L698.7 1636.7 L699.3 1637.0 L699.9 1637.3 L700.5 1637.6 L701.1 1637.8 L701.7 1638.1 L702.2 1638.4 L702.8 1638.6 L703.4 1638.9 L704.0 1639.1 L704.6 1639.4 L705.2 1639.6 L705.8 1639.9 L706.4 1640.1 L707.0 1640.3 L707.6 1640.6 L708.1 1640.8 L708.7 1641.0 L709.3 1641.2 L709.9 1641.4 L710.5 1641.6 L711.1 1641.8 L711.7 1642.0 L712.3 1642.2 L712.9 1642.4 L713.5 1642.6 L714.0 1642.7 L714.6 1642.9 L715.2 1643.1 L715.8 1643.3 L716.4 1643.4 L717.0 1643.6 L717.6 1643.7 L718.2 1643.9 L718.8 1644.1 L719.3 1644.2 L719.9 1644.4 L720.5 1644.5 L721.1 1644.6 L721.7 1644.8 L722.3 1644.9 L722.9 1645.0 L723.5 1645.2 L724.1 1645.3 L724.7 1645.4 L725.2 1645.6 L725.8 1645.7 L726.4 1645.8 L727.0 1645.9 L727.6 1646.0 L728.2 1646.1 L728.8 1646.2 L729.4 1646.4 L730.0 1646.5 L730.6 1646.6 L731.2 1646.7 L731.7 1646.8 L732.3 1646.9 L732.9 1647.0 L733.5 1647.1 L734.1 1647.1 L734.7 1647.2 L735.3 1647.3 L735.9 1647.4 L736.5 1647.5 L737.1 1647.6 L737.6 1647.7 L738.2 1647.7 L738.8 1647.8 L739.4 1647.9 L740.0 1648.0 L740.6 1648.0 L741.2 1648.1 L741.8 1648.2 L742.4 1648.3 L743.0 1648.3 L743.5 1648.4 L744.1 1648.5 L744.7 1648.5 L745.3 1648.6 L745.9 1648.7 L746.5 1648.7 L747.1 1648.8 L747.7 1648.8 L748.3 1648.9 L748.8 1648.9 L749.4 1649.0 L750.0 1649.1 L750.6 1649.1 L751.2 1649.2 L751.8 1649.2 L752.4 1649.3 L753.0 1649.3 L753.6 1649.4 L754.2 1649.4 L754.7 1649.4 L755.3 1649.5 L755.9 1649.5 L756.5 1649.6 L757.1 1649.6 L757.7 1649.7 L758.3 1649.7 L758.9 1649.7 L759.5 1649.8 L760.1 1649.8 L760.7 1649.9 L761.2 1649.9 L761.8 1649.9 L762.4 1650.0 L763.0 1650.0 L763.6 1650.0 L764.2 1650.1 L764.8 1650.1 L765.4 1650.1 L766.0 1650.2 L766.6 1650.2 L767.1 1650.2 L767.7 1650.3 L768.3 1650.3 L768.9 1650.3 L769.5 1650.4 L770.1 1650.4 L770.7 1650.4 L771.3 1650.4 L771.9 1650.5 L772.5 1650.5 L773.0 1650.5 L773.6 1650.5 L774.2 1650.6 L774.8 1650.6 L775.4 1650.6 L776.0 1650.6 L776.6 1650.7 L777.2 1650.7 L777.8 1650.7 L778.3 1650.7 L778.9 1650.7 L779.5 1650.8 L780.1 1650.8 L780.7 1650.8 L781.3 1650.8 L781.9 1650.8 L782.5 1650.9 L783.1 1650.9 L783.7 1650.9 L784.2 1650.9 L784.8 1650.9 L785.4 1650.9 L786.0 1651.0 L786.6 1651.0 L787.2 1651.0 L787.8 1651.0 L788.4 1651.0 L789.0 1651.0 L789.6 1651.0 L790.2 1651.1 L790.7 1651.1 L791.3 1651.1 L791.9 1651.1 L792.5 1651.1 L793.1 1651.1 L793.7 1651.1 L794.3 1651.2 L794.9 1651.2 L795.5 1651.2 L796.1 1651.2 L796.6 1651.2 L797.2 1651.2 L797.8 1651.2 L798.4 1651.2 L799.0 1651.2 L799.6 1651.3 L800.2 1651.3 L800.8 1651.3 L801.4 1651.3 L802.0 1651.3 L802.5 1651.3 L803.1 1651.3 L803.7 1651.3 L804.3 1651.3 L804.9 1651.3 L805.5 1651.3 L806.1 1651.4 L806.7 1651.4 L807.3 1651.4 L807.8 1651.4 L808.4 1651.4 L809.0 1651.4 L809.6 1651.4 L810.2 1651.4 L810.8 1651.4 L811.4 1651.4 L812.0 1651.4 L812.6 1651.4 L813.2 1651.4 L813.7 1651.4 L814.3 1651.5 L814.9 1651.5 L815.5 1651.5 L816.1 1651.5 L816.7 1651.5 L817.3 1651.5 L817.9 1651.5 L818.5 1651.5 L819.1 1651.5 L819.7 1651.5 L820.2 1651.5 L820.8 1651.5 L821.4 1651.5 L822.0 1651.5 L822.6 1651.5 L823.2 1651.5 L823.8 1651.5 L824.4 1651.5 L825.0 1651.5 L825.6 1651.6 L826.1 1651.6 L826.7 1651.6 L827.3 1651.6 L827.9 1651.6 L828.5 1651.6 L829.1 1651.6 L829.7 1651.6 L830.3 1651.6 L830.9 1651.6 L831.5 1651.6 L832.0 1651.6 L832.6 1651.6 L833.2 1651.6 L833.8 1651.6 L834.4 1651.6 L835.0 1651.6 L835.6 1651.6 L836.2 1651.6 L836.8 1651.6 L837.3 1651.6 L837.9 1651.6 L838.5 1651.6 L839.1 1651.6 L839.7 1651.6 L840.3 1651.6 L840.9 1651.6 L841.5 1651.6 L842.1 1651.6 L842.7 1651.6 L843.2 1651.7 L843.8 1651.7 L844.4 1651.7 L845.0 1651.7 L845.6 1651.7 L846.2 1651.7 L846.8 1651.7 L847.4 1651.7 L848.0 1651.7 L848.6 1651.7 L849.2 1651.7 L849.7 1651.7 L850.3 1651.7 L850.9 1651.7 L851.5 1651.7 L852.1 1651.7 L852.7 1651.7 L853.3 1651.7 L853.9 1651.7 L854.5 1651.7 L855.1 1651.7 L855.6 1651.7 L856.2 1651.7 L856.8 1651.7 L857.4 1651.7 L858.0 1651.7 L858.6 1651.7 L859.2 1651.7 L859.8 1651.7 L860.4 1651.7 L861.0 1651.7 L861.5 1651.7 L862.1 1651.7 L862.7 1651.7 L863.3 1651.7 L863.9 1651.7 L864.5 1651.7 L865.1 1651.7 L865.7 1651.7 L866.3 1651.7 L866.8 1651.7 L867.4 1651.7 L868.0 1651.7 L868.6 1651.7 L869.2 1651.7 L869.8 1651.7 L870.4 1651.7 L871.0 1651.7 L871.6 1651.7 L872.2 1651.7 L872.7 1651.7 L873.3 1651.7 L873.9 1651.7 L874.5 1651.7 L875.1 1651.7 L875.7 1651.7 L876.3 1651.7 L876.9 1651.7 L877.5 1651.7 L878.1 1651.7 L878.7 1651.7 L879.2 1651.7 L879.8 1651.7 L880.4 1651.7 L881.0 1651.7 L881.6 1651.7 L882.2 1651.7 L882.8 1651.7 L883.4 1651.7 L884.0 1651.7 L884.6 1651.7 L885.1 1651.7 L885.7 1651.7 L886.3 1651.7 L886.9 1651.7 L887.5 1651.7 L888.1 1651.7 L888.7 1651.7 L889.3 1651.7 L889.9 1651.7 L890.5 1651.7 L891.0 1651.7 L891.6 1651.7 L892.2 1651.7 L892.8 1651.7 L893.4 1651.8 L894.0 1651.8 L894.6 1651.8 L895.2 1651.8 L895.8 1651.8 L896.3 1651.8 L896.9 1651.8 L897.5 1651.8 L898.1 1651.8 L898.7 1651.8 L899.3 1651.8 L899.9 1651.8 L900.5 1651.8 L901.1 1651.8 L901.7 1651.8 L902.3 1651.8 L902.8 1651.8 L903.4 1651.8 L904.0 1651.8 L904.6 1651.8 L905.2 1651.8 L905.8 1651.8 L906.4 1651.8 L907.0 1651.8 L907.6 1651.8 L908.2 1651.8 L908.7 1651.8 L909.3 1651.8 L909.9 1651.8 L910.5 1651.8 L911.1 1651.8 L911.7 1651.8 L912.3 1651.8 L912.9 1651.8 L913.5 1651.8 L914.1 1651.8 L914.6 1651.8 L915.2 1651.8 L915.8 1651.8 L916.4 1651.8 L917.0 1651.8 L917.6 1651.8 L918.2 1651.8 L918.8 1651.8 L919.4 1651.8 L920.0 1651.8 L920.5 1651.8 L921.1 1651.8 L921.7 1651.8 L922.3 1651.8 L922.9 1651.8 L923.5 1651.8 L924.1 1651.8 L924.7 1651.8 L925.3 1651.8 L925.8 1651.8 L926.4 1651.8 L927.0 1651.8 L927.6 1651.8 L928.2 1651.8 L928.8 1651.8 L929.4 1651.8 L930.0 1651.8 L930.6 1651.8 L931.2 1651.8 L931.8 1651.8 L932.3 1651.8 L932.9 1651.8 L933.5 1651.8 L934.1 1651.8 L934.7 1651.8 L935.3 1651.8 L935.9 1651.8 L936.5 1651.8 L937.1 1651.8 L937.7 1651.8 L938.2 1651.8 L938.8 1651.8 L939.4 1651.8 L940.0 1651.8 L940.6 1651.8 L941.2 1651.8 L941.8 1651.8 L942.4 1651.8 L943.0 1651.8 L943.6 1651.8 L944.1 1651.8 L944.7 1651.8 L945.3 1651.8 L945.9 1651.8 L946.5 1651.8 L947.1 1651.8 L947.7 1651.8 L948.3 1651.8 L948.9 1651.8 L949.5 1651.8 L950.0 1651.8 L950.6 1651.8 L951.2 1651.8 L951.8 1651.8 L952.4 1651.8 L953.0 1651.8 L953.6 1651.8 L954.2 1651.8 L954.8 1651.8 L955.3 1651.8 L955.9 1651.8 L956.5 1651.8 L957.1 1651.8 L957.7 1651.8 L958.3 1651.8 L958.9 1651.8 L959.5 1651.8 L960.1 1651.8 L960.7 1651.8 L961.3 1651.8 L961.8 1651.8 L962.4 1651.8 L963.0 1651.8 L963.6 1651.8 L964.2 1651.8 L964.8 1651.8 L965.4 1651.8 L966.0 1651.8 L966.6 1651.8 L967.2 1651.8 L967.7 1651.8 L968.3 1651.8 L968.9 1651.8 L969.5 1651.8 L970.1 1651.8 L970.7 1651.8 L971.3 1651.8 L971.9 1651.8 L972.5 1651.8 L973.1 1651.8 L973.6 1651.8 L974.2 1651.8 L974.8 1651.8 L975.4 1651.8 L976.0 1651.8 L976.6 1651.8 L977.2 1651.8 L977.8 1651.8 L978.4 1651.8 L979.0 1651.8 L979.5 1651.8 L980.1 1651.8 L980.7 1651.8 L981.3 1651.8 L981.9 1651.8 L982.5 1651.8 L983.1 1651.8 L983.7 1651.8 L984.3 1651.8 L984.8 1651.8 L985.4 1651.8 L986.0 1651.8 L986.6 1651.8 L987.2 1651.8 L987.8 1651.8" fill="none" stroke="#808080" stroke-width="8.20" stroke-linejoin="round" />
<path d="M445.0 2496.0 L445.6 2496.0 L446.2 2496.0 L446.8 2496.0 L447.4 2496.0 L447.9 2496.0 L448.5 2496.0 L449.1 2496.0 L449.7 2496.0 L450.3 2496.0 L450.9 2496.0 L451.5 2496.0 L452.1 2496.0 L452.7 2496.0 L453.3 2496.0 L453.8 2496.0 L454.4 2496.0 L455.0 2496.0 L455.6 2496.0 L456.2 2496.0 L456.8 2496.0 L457.4 2496.0 L458.0 2496.0 L458.6 2496.0 L459.2 2496.0 L459.7 2496.0 L460.3 2496.0 L460.9 2496.0 L461.5 2496.0 L462.1 2496.0 L462.7 2496.0 L463.3 2496.0 L463.9 2496.0 L464.5 2496.0 L465.1 2496.0 L465.6 2496.0 L466.2 2496.0 L466.8 2496.0 L467.4 2496.0 L468.0 2496.0 L468.6 2496.0 L469.2 2496.0 L469.8 2496.0 L470.4 2496.0 L471.0 2496.0 L471.5 2496.0 L472.1 2496.0 L472.7 2496.0 L473.3 2496.0 L473.9 2496.0 L474.5 2496.0 L475.1 2496.0 L475.7 2496.0 L476.3 2496.0 L476.9 2496.0 L477.4 2496.0 L478.0 2496.0 L478.6 2496.0 L479.2 2496.0 L479.8 2496.0 L480.4 2496.0 L481.0 2496.0 L481.6 2496.0 L482.2 2496.0 L482.8 2496.0 L483.3 2496.0 L483.9 2496.0 L484.5 2496.0 L485.1 2496.0 L485.7 2496.0 L486.3 2496.0 L486.9 2496.0 L487.5 2496.0 L488.1 2496.0 L488.7 2496.0 L489.2 2496.0 L489.8 2496.0 L490.4 2496.0 L491.0 2496.0 L491.6 2496.0 L492.2 2496.0 L492.8 2496.0 L493.4 2496.0 L494.0 2496.0 L494.6 2496.0 L495.1 2496.0 L495.7 2496.0 L496.3 2496.0 L496.9 2496.0 L497.5 2496.0 L498.1 2496.0 L498.7 2496.0 L499.3 2496.0 L499.9 2496.0 L500.5 2496.0 L501.0 2496.0 L501.6 2496.0 L502.2 2496.0 L502.8 2496.0 L503.4 2496.0 L504.0 2496.0 L504.6 2496.0 L505.2 2496.0 L505.8 2496.0 L506.4 2496.0 L506.9 2496.0 L507.5 2496.0 L508.1 2496.0 L508.7 2496.0 L509.3 2496.0 L509.9 2496.0 L510.5 2496.0 L511.1 2496.0 L511.7 2496.0 L512.3 2496.0 L512.8 2496.0 L513.4 2496.0 L514.0 2496.0 L514.6 2496.0 L515.2 2496.0 L515.8 2496.0 L516.4 2496.0 L517.0 2496.0 L517.6 2496.0 L518.2 2491.1 L518.7 2485.0 L519.3 2478.9 L519.9 2472.8 L520.5 2466.7 L521.1 2460.6 L521.7 2454.5 L522.3 2448.4 L522.9 2442.2 L523.5 2436.1 L524.1 2430.0 L524.6 2423.9 L525.2 2417.8 L525.8 2411.7 L526.4 2405.6 L527.0 2399.5 L527.6 2393.4 L528.2 2387.3 L528.8 2381.2 L529.4 2375.1 L530.0 2369.0 L530.5 2362.9 L531.1 2356.8 L531.7 2350.7 L532.3 2344.6 L532.9 2338.5 L533.5 2332.4 L534.1 2326.3 L534.7 2320.1 L535.3 2314.0 L535.9 2307.9 L536.5 2301.8 L537.0 2295.7 L537.6 2289.6 L538.2 2283.5 L538.8 2277.4 L539.4 2271.3 L540.0 2265.2 L540.6 2259.1 L541.2 2253.0 L541.8 2246.9 L542.3 2240.8 L542.9 2234.7 L543.5 2228.6 L544.1 2222.5 L544.7 2216.4 L545.3 2210.3 L545.9 2204.1 L546.5 2198.0 L547.1 2191.9 L547.7 2185.8 L548.2 2179.7 L548.8 2173.6 L549.4 2167.5 L550.0 2161.4 L550.6 2155.3 L551.2 2149.2 L551.8 2143.1 L552.4 2137.0 L553.0 2130.9 L553.6 2124.8 L554.1 2118.7 L554.7 2112.6 L555.3 2106.5 L555.9 2100.4 L556.5 2094.3 L557.1 2088.1 L557.7 2082.0 L558.3 2075.9 L558.9 2069.8 L559.5 2063.7 L560.1 2057.6 L560.6 2051.5 L561.2 2045.4 L561.8 2039.3 L562.4 2033.2 L563.0 2027.1 L563.6 2021.0 L564.2 2014.9 L564.8 2008.8 L565.4 2002.7 L566.0 1996.6 L566.5 1990.5 L567.1 1984.4 L567.7 1978.3 L568.3 1972.2 L568.9 1966.0 L569.5 1959.9 L570.1 1953.8 L570.7 1947.7 L571.3 1941.6 L571.8 1935.5 L572.4 1929.4 L573.0 1923.3 L573.6 1917.2 L574.2 1911.1 L574.8 1905.0 L575.4 1898.9 L576.0 1892.8 L576.6 1886.7 L577.2 1880.6 L577.7 1874.5 L578.3 1868.4 L578.9 1862.3 L579.5 1856.2 L580.1 1850.0 L580.7 1843.9 L581.3 1837.8 L581.9 1831.7 L582.5 1825.6 L583.1 1819.5 L583.6 1813.4 L584.2 1807.3 L584.8 1801.2 L585.4 1795.1 L586.0 1789.0 L586.6 1782.9 L587.2 1776.8 L587.8 1770.7 L588.4 1764.6 L589.0 1758.5 L589.6 1752.4 L590.1 1746.3 L590.7 1740.2 L591.3 1734.0 L591.9 1727.9 L592.5 1721.8 L593.1 1715.7 L593.7 1709.6 L594.3 1703.5 L594.9 1697.4 L595.5 1691.3 L596.0 1685.2 L596.6 1679.1 L597.2 1673.0 L597.8 1666.9 L598.4 1660.8 L599.0 1654.7 L599.6 1648.6 L600.2 1642.5 L600.8 1636.4 L601.3 1630.3 L601.9 1624.2 L602.5 1618.1 L603.1 1611.9 L603.7 1605.8 L604.3 1599.7 L604.9 1593.6 L605.5 1587.5 L606.1 1581.4 L606.7 1575.3 L607.2 1569.2 L607.8 1563.1 L608.4 1557.0 L609.0 1550.9 L609.6 1544.8 L610.2 1538.7 L610.8 1532.6 L611.4 1526.5 L612.0 1520.4 L612.6 1514.3 L613.1 1508.2 L613.7 1502.1 L614.3 1495.9 L614.9 1489.8 L615.5 1483.7 L616.1 1477.6 L616.7 1471.5 L617.3 1465.4 L617.9 1459.3 L618.5 1453.2 L619.1 1447.1 L619.6 1441.0 L620.2 1445.1 L620.8 1449.1 L621.4 1453.1 L622.0 1457.0 L622.6 1460.8 L623.2 1464.5 L623.8 1468.1 L624.4 1471.7 L625.0 1475.2 L625.5 1478.7 L626.1 1482.0 L626.7 1485.3 L627.3 1488.6 L627.9 1491.8 L628.5 1494.9 L629.1 1497.9 L629.7 1500.9 L630.3 1503.9 L630.8 1506.8 L631.4 1509.6 L632.0 1512.4 L632.6 1515.1 L633.2 1517.7 L633.8 1520.4 L634.4 1522.9 L635.0 1525.4 L635.6 1527.9 L636.2 1530.3 L636.7 1532.7 L637.3 1535.0 L637.9 1537.3 L638.5 1539.5 L639.1 1541.7 L639.7 1543.8 L640.3 1545.9 L640.9 1548.0 L641.5 1550.0 L642.1 1552.0 L642.6 1554.0 L643.2 1555.9 L643.8 1557.7 L644.4 1559.6 L645.0 1561.4 L645.6 1563.1 L646.2 1564.9 L646.8 1566.6 L647.4 1568.2 L648.0 1569.8 L648.6 1571.4 L649.1 1573.0 L649.7 1574.5 L650.3 1576.0 L650.9 1577.5 L651.5 1579.0 L652.1 1580.4 L652.7 1581.8 L653.3 1583.1 L653.9 1584.5 L654.5 1585.8 L655.0 1587.1 L655.6 1588.3 L656.2 1589.6 L656.8 1590.8 L657.4 1592.0 L658.0 1593.1 L658.6 1594.3 L659.2 1595.4 L659.8 1596.5 L660.3 1597.6 L660.9 1598.6 L661.5 1599.7 L662.1 1600.7 L662.7 1601.7 L663.3 1602.7 L663.9 1603.6 L664.5 1604.6 L665.1 1605.5 L665.7 1606.4 L666.2 1607.3 L666.8 1608.1 L667.4 1609.0 L668.0 1609.8 L668.6 1610.6 L669.2 1611.4 L669.8 1612.2 L670.4 1613.0 L671.0 1613.8 L671.6 1614.5 L672.1 1615.2 L672.7 1615.9 L673.3 1616.6 L673.9 1617.3 L674.5 1618.0 L675.1 1618.6 L675.7 1619.3 L676.3 1619.9 L676.9 1620.5 L677.5 1621.2 L678.1 1621.7 L678.6 1622.3 L679.2 1622.9 L679.8 1623.5 L680.4 1624.0 L681.0 1624.6 L681.6 1625.1 L682.2 1625.6 L682.8 1626.1 L683.4 1626.6 L684.0 1627.1 L684.5 1627.6 L685.1 1628.1 L685.7 1628.5 L686.3 1629.0 L686.9 1629.4 L687.5 1629.9 L688.1 1630.3 L688.7 1630.7 L689.3 1631.1 L689.8 1631.5 L690.4 1631.9 L691.0 1632.3 L691.6 1632.7 L692.2 1633.1 L692.8 1633.4 L693.4 1633.8 L694.0 1634.1 L694.6 1634.5 L695.2 1634.8 L695.7 1635.1 L696.3 1635.5 L696.9 1635.8 L697.5 1636.1 L698.1 1636.4 L698.7 1636.7 L699.3 1637.0 L699.9 1637.3 L700.5 1637.6 L701.1 1637.8 L701.7 1638.1 L702.2 1638.4 L702.8 1638.6 L703.4 1638.9 L704.0 1639.1 L704.6 1639.4 L705.2 1639.6 L705.8 1639.9 L706.4 1640.1 L707.0 1640.3 L707.6 1640.6 L708.1 1640.8 L708.7 1641.0 L709.3 1641.2 L709.9 1641.4 L710.5 1641.6 L711.1 1641.8 L711.7 1642.0 L712.3 1642.2 L712.9 1642.4 L713.5 1642.6 L714.0 1642.7 L714.6 1642.9 L715.2 1643.1 L715.8 1643.3 L716.4 1643.4 L717.0 1643.6 L717.6 1643.7 L718.2 1643.9 L718.8 1644.1 L719.3 1644.2 L719.9 1644.4 L720.5 1644.5 L721.1 1644.6 L721.7 1644.8 L722.3 1644.9 L722.9 1645.0 L723.5 1645.2 L724.1 1645.3 L724.7 1645.4 L725.2 1645.6 L725.8 1645.7 L726.4 1645.8 L727.0 1645.9 L727.6 1646.0 L728.2 1646.1 L728.8 1646.2 L729.4 1646.4 L730.0 1646.5 L730.6 1646.6 L731.2 1646.7 L731.7 1646.8 L732.3 1646.9 L732.9 1647.0 L733.5 1647.1 L734.1 1647.1 L734.7 1647.2 L735.3 1647.3 L735.9 1647.4 L736.5 1647.5 L737.1 1647.6 L737.6 1647.7 L738.2 1647.7 L738.8 1647.8 L739.4 1647.9 L740.0 1648.0 L740.6 1648.0 L741.2 1648.1 L741.8 1648.2 L742.4 1648.3 L743.0 1648.3 L743.5 1648.4 L744.1 1648.5 L744.7 1648.5 L745.3 1648.6 L745.9 1648.7 L746.5 1648.7 L747.1 1648.8 L747.7 1648.8 L748.3 1648.9 L748.8 1648.9 L749.4 1649.0 L750.0 1649.1 L750.6 1649.1 L751.2 1649.2 L751.8 1649.2 L752.4 1649.3 L753.0 1649.3 L753.6 1649.4 L754.2 1649.4 L754.7 1649.4 L755.3 1649.5 L755.9 1649.5 L756.5 1649.6 L757.1 1649.6 L757.7 1649.7 L758.3 1649.7 L758.9 1649.7 L759.5 1649.8 L760.1 1649.8 L760.7 1649.9 L761.2 1649.9 L761.8 1649.9 L762.4 1650.0 L763.0 1650.0 L763.6 1650.0 L764.2 1650.1 L764.8 1650.1 L765.4 1650.1 L766.0 1650.2 L766.6 1650.2 L767.1 1650.2 L767.7 1650.3 L768.3 1650.3 L768.9 1650.3 L769.5 1650.4 L770.1 1650.4 L770.7 1650.4 L771.3 1650.4 L771.9 1650.5 L772.5 1650.5 L773.0 1650.5 L773.6 1650.5 L774.2 1650.6 L774.8 1650.6 L775.4 1650.6 L776.0 1650.6 L776.6 1650.7 L777.2 1650.7 L777.8 1650.7 L778.3 1650.7 L778.9 1650.7 L779.5 1650.8 L780.1 1650.8 L780.7 1650.8 L781.3 1650.8 L781.9 1650.8 L782.5 1650.9 L783.1 1650.9 L783.7 1650.9 L784.2 1650.9 L784.8 1650.9 L785.4 1650.9 L786.0 1651.0 L786.6 1651.0 L787.2 1651.0 L787.8 1651.0 L788.4 1651.0 L789.0 1651.0 L789.6 1651.0 L790.2 1651.1 L790.7 1651.1 L791.3 1651.1 L791.9 1651.1 L792.5 1651.1 L793.1 1651.1 L793.7 1651.1 L794.3 1651.2 L794.9 1651.2 L795.5 1651.2 L796.1 1651.2 L796.6 1651.2 L797.2 1651.2 L797.8 1651.2 L798.4 1651.2 L799.0 1651.2 L799.6 1651.3 L800.2 1651.3 L800.8 1651.3 L801.4 1651.3 L802.0 1651.3 L802.5 1651.3 L803.1 1651.3 L803.7 1651.3 L804.3 1651.3 L804.9 1651.3 L805.5 1651.3 L806.1 1651.4 L806.7 1651.4 L807.3 1651.4 L807.8 1651.4 L808.4 1651.4 L809.0 1651.4 L809.6 1651.4 L810.2 1651.4 L810.8 1651.4 L811.4 1651.4 L812.0 1651.4 L812.6 1651.4 L813.2 1651.4 L813.7 1651.4 L814.3 1651.5 L814.9 1651.5 L815.5 1651.5 L816.1 1651.5 L816.7 1651.5 L817.3 1651.5 L817.9 1651.5 L818.5 1651.5 L819.1 1651.5 L819.7 1651.5 L820.2 1651.5 L820.8 1651.5 L821.4 1651.5 L822.0 1651.5 L822.6 1651.5 L823.2 1651.5 L823.8 1651.5 L824.4 1651.5 L825.0 1651.5 L825.6 1651.6 L826.1 1651.6 L826.7 1651.6 L827.3 1651.6 L827.9 1651.6 L828.5 1651.6 L829.1 1651.6 L829.7 1651.6 L830.3 1651.6 L830.9 1651.6 L831.5 1651.6 L832.0 1651.6 L832.6 1651.6 L833.2 1651.6 L833.8 1651.6 L834.4 1651.6 L835.0 1651.6 L835.6 1651.6 L836.2 1651.6 L836.8 1651.6 L837.3 1651.6 L837.9 1651.6 L838.5 1651.6 L839.1 1651.6 L839.7 1651.6 L840.3 1651.6 L840.9 1651.6 L841.5 1651.6 L842.1 1651.6 L842.7 1651.6 L843.2 1651.7 L843.8 1651.7 L844.4 1651.7 L845.0 1651.7 L845.6 1651.7 L846.2 1651.7 L846.8 1651.7 L847.4 1651.7 L848.0 1651.7 L848.6 1651.7 L849.2 1651.7 L849.7 1651.7 L850.3 1651.7 L850.9 1651.7 L851.5 1651.7 L852.1 1651.7 L852.7 1651.7 L853.3 1651.7 L853.9 1651.7 L854.5 1651.7 L855.1 1651.7 L855.6 1651.7 L856.2 1651.7 L856.8 1651.7 L857.4 1651.7 L858.0 1651.7 L858.6 1651.7 L859.2 1651.7 L859.8 1651.7 L860.4 1651.7 L861.0 1651.7 L861.5 1651.7 L862.1 1651.7 L862.7 1651.7 L863.3 1651.7 L863.9 1651.7 L864.5 1651.7 L865.1 1651.7 L865.7 1651.7 L866.3 1651.7 L866.8 1651.7 L867.4 1651.7 L868.0 1651.7 L868.6 1651.7 L869.2 1651.7 L869.8 1651.7 L870.4 1651.7 L871.0 1651.7 L871.6 1651.7 L872.2 1651.7 L872.7 1651.7 L873.3 1651.7 L873.9 1651.7 L874.5 1651.7 L875.1 1651.7 L875.7 1651.7 L876.3 1651.7 L876.9 1651.7 L877.5 1651.7 L878.1 1651.7 L878.7 1651.7 L879.2 1651.7 L879.8 1651.7 L880.4 1651.7 L881.0 1651.7 L881.6 1651.7 L882.2 1651.7 L882.8 1651.7 L883.4 1651.7 L884.0 1651.7 L884.6 1651.7 L885.1 1651.7 L885.7 1651.7 L886.3 1651.7 L886.9 1651.7 L887.5 1651.7 L888.1 1651.7 L888.7 1651.7 L889.3 1651.7 L889.9 1651.7 L890.5 1651.7 L891.0 1651.7 L891.6 1651.7 L892.2 1651.7 L892.8 1651.7 L893.4 1651.8 L894.0 1651.8 L894.6 1651.8 L895.2 1651.8 L895.8 1651.8 L896.3 1651.8 L896.9 1651.8 L897.5 1651.8 L898.1 1651.8 L898.7 1651.8 L899.3 1651.8 L899.9 1651.8 L900.5 1651.8 L901.1 1651.8 L901.7 1651.8 L902.3 1651.8 L902.8 1651.8 L903.4 1651.8 L904.0 1651.8 L904.6 1651.8 L905.2 1651.8 L905.8 1651.8 L906.4 1651.8 L907.0 1651.8 L907.6 1651.8 L908.2 1651.8 L908.7 1651.8 L909.3 1651.8 L909.9 1651.8 L910.5 1651.8 L911.1 1651.8 L911.7 1651.8 L912.3 1651.8 L912.9 1651.8 L913.5 1651.8 L914.1 1651.8 L914.6 1651.8 L915.2 1651.8 L915.8 1651.8 L916.4 1651.8 L917.0 1651.8 L917.6 1651.8 L918.2 1651.8 L918.8 1651.8 L919.4 1651.8 L920.0 1651.8 L920.5 1651.8 L921.1 1651.8 L921.7 1651.8 L922.3 1651.8 L922.9 1651.8 L923.5 1651.8 L924.1 1651.8 L924.7 1651.8 L925.3 1651.8 L925.8 1651.8 L926.4 1651.8 L927.0 1651.8 L927.6 1651.8 L928.2 1651.8 L928.8 1651.8 L929.4 1651.8 L930.0 1651.8 L930.6 1651.8 L931.2 1651.8 L931.8 1651.8 L932.3 1651.8 L932.9 1651.8 L933.5 1651.8 L934.1 1651.8 L934.7 1651.8 L935.3 1651.8 L935.9 1651.8 L936.5 1651.8 L937.1 1651.8 L937.7 1651.8 L938.2 1651.8 L938.8 1651.8 L939.4 1651.8 L940.0 1651.8 L940.6 1651.8 L941.2 1651.8 L941.8 1651.8 L942.4 1651.8 L943.0 1651.8 L943.6 1651.8 L944.1 1651.8 L944.7 1651.8 L945.3 1651.8 L945.9 1651.8 L946.5 1651.8 L947.1 1651.8 L947.7 1651.8 L948.3 1651.8 L948.9 1651.8 L949.5 1651.8 L950.0 1651.8 L950.6 1651.8 L951.2 1651.8 L951.8 1651.8 L952.4 1651.8 L953.0 1651.8 L953.6 1651.8 L954.2 1651.8 L954.8 1651.8 L955.3 1651.8 L955.9 1651.8 L956.5 1651.8 L957.1 1651.8 L957.7 1651.8 L958.3 1651.8 L958.9 1651.8 L959.5 1651.8 L960.1 1651.8 L960.7 1651.8 L961.3 1651.8 L961.8 1651.8 L962.4 1651.8 L963.0 1651.8 L963.6 1651.8 L964.2 1651.8 L964.8 1651.8 L965.4 1651.8 L966.0 1651.8 L966.6 1651.8 L967.2 1651.8 L967.7 1651.8 L968.3 1651.8 L968.9 1651.8 L969.5 1651.8 L970.1 1651.8 L970.7 1651.8 L971.3 1651.8 L971.9 1651.8 L972.5 1651.8 L973.1 1651.8 L973.6 1651.8 L974.2 1651.8 L974.8 1651.8 L975.4 1651.8 L976.0 1651.8 L976.6 1651.8 L977.2 1651.8 L977.8 1651.8 L978.4 1651.8 L979.0 1651.8 L979.5 1651.8 L980.1 1651.8 L980.7 1651.8 L981.3 1651.8 L981.9 1651.8 L982.5 1651.8 L983.1 1651.8 L983.7 1651.8 L984.3 1651.8 L984.8 1651.8 L985.4 1651.8 L986.0 1651.8 L986.6 1651.8 L987.2 1651.8 L987.8 1651.8" fill="none" stroke="#050505" stroke-width="9.00" stroke-linejoin="round" />
</g>
<text x="490.2" y="1755.0" font-size="65.5" text-anchor="middle" fill="#262626"  textLength="63.0" lengthAdjust="spacingAndGlyphs">61</text>
<text x="608.2" y="1755.0" font-size="65.5" text-anchor="middle" fill="#262626"  textLength="110.3" lengthAdjust="spacingAndGlyphs">61.5</text>
<text x="728.2" y="1755.0" font-size="65.5" text-anchor="middle" fill="#262626"  textLength="63.0" lengthAdjust="spacingAndGlyphs">62</text>
<text x="844.2" y="1755.0" font-size="65.5" text-anchor="middle" fill="#262626"  textLength="110.3" lengthAdjust="spacingAndGlyphs">62.5</text>
<text x="443.5" y="1450.8" font-size="65.5" text-anchor="end" fill="#262626"  textLength="110.3" lengthAdjust="spacingAndGlyphs">0.95</text>
<text x="443.5" y="1506.3" font-size="65.5" text-anchor="end" fill="#262626"  textLength="110.3" lengthAdjust="spacingAndGlyphs">0.90</text>
<text x="443.5" y="1561.8" font-size="65.5" text-anchor="end" fill="#262626"  textLength="110.3" lengthAdjust="spacingAndGlyphs">0.85</text>
<text x="443.5" y="1617.4" font-size="65.5" text-anchor="end" fill="#262626"  textLength="110.3" lengthAdjust="spacingAndGlyphs">0.80</text>
<text x="443.5" y="1672.9" font-size="65.5" text-anchor="end" fill="#262626"  textLength="110.3" lengthAdjust="spacingAndGlyphs">0.75</text>
<g stroke="#050505" stroke-width="4.9" fill="none">
<ellipse cx="1086.4" cy="1428.8" rx="46.6" ry="62.5"/>
<line x1="950" y1="1435" x2="1073" y2="1366.5"/>
<line x1="950" y1="1683" x2="1120.5" y2="1472.6"/>
</g>
<g transform="translate(94,1702) rotate(-90)" fill="#262626">
<text x="-2" y="0" font-size="76" font-style="italic">β</text>
<text x="79" y="0" font-size="70.4" textLength="157" lengthAdjust="spacingAndGlyphs">[deg]</text>
</g>
<text x="1064.5" y="1963.0" font-size="70.4" text-anchor="start" fill="#262626" textLength="155.7" lengthAdjust="spacingAndGlyphs">Time</text>
<text x="1237.6" y="1963.0" font-size="70.4" text-anchor="start" fill="#262626" textLength="76.7" lengthAdjust="spacingAndGlyphs">[s]</text>
</svg></body></html>
